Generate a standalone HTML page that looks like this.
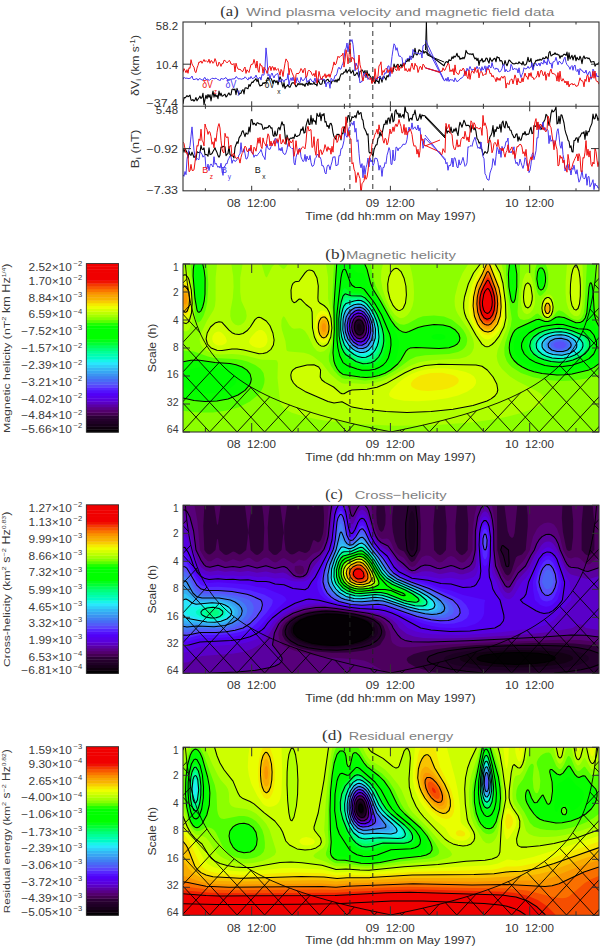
<!DOCTYPE html><html><head><meta charset="utf-8"><style>html,body{margin:0;padding:0;background:#fff;}svg{display:block;}</style></head><body><svg width="600" height="948" viewBox="0 0 600 948"><rect width="600" height="948" fill="#fff"/><clipPath id="pa1"><rect x="183.0" y="22" width="416.0" height="84.3"/></clipPath><clipPath id="pa2"><rect x="183.0" y="106.3" width="416.0" height="84.50000000000001"/></clipPath><g clip-path="url(#pa1)"><polyline points="183.0,103.8 184.0,97.5 185.0,97.9 186.0,96.9 187.0,95.7 188.0,96.7 189.0,96.0 190.0,95.2 191.0,100.0 192.0,100.4 193.0,99.5 194.0,101.1 195.0,99.8 196.0,97.6 197.0,100.8 198.0,99.2 199.0,97.7 200.0,96.1 201.0,98.5 202.0,97.4 203.0,93.2 204.0,104.7 205.0,99.4 206.0,95.2 207.0,98.7 208.0,94.5 209.0,97.2 210.0,94.7 211.0,100.9 212.0,95.7 213.0,91.1 214.0,97.1 215.0,93.9 216.0,96.8 217.0,95.2 218.0,98.6 219.0,91.0 220.0,95.7 221.0,93.1 222.0,96.2 223.0,95.7 224.0,94.9 225.0,94.2 226.0,97.0 227.0,96.0 228.0,94.2 229.0,92.9 230.0,95.0 231.0,94.7 232.0,89.4 233.0,89.0 234.0,89.9 235.0,89.0 236.0,94.6 237.0,88.4 238.0,91.5 239.0,94.5 240.0,93.4 241.0,93.3 242.0,90.6 243.0,89.7 244.0,93.9 245.0,88.0 246.0,87.8 247.0,88.3 248.0,88.7 249.0,84.5 250.0,86.3 251.0,83.9 252.0,82.1 253.0,82.4 254.0,80.7 255.0,79.9 256.0,78.7 257.0,81.6 258.0,79.1 259.0,84.1 260.0,86.1 261.0,85.3 262.0,85.4 263.0,82.8 264.0,83.5 265.0,82.5 266.0,83.1 267.0,79.3 268.0,77.4 269.0,79.9 270.0,77.5 271.0,78.6 272.0,80.5 273.0,83.5 274.0,80.2 275.0,80.9 276.0,82.6 277.0,80.7 278.0,84.7 279.0,80.7 280.0,76.7 281.0,78.9 282.0,84.0 283.0,87.1 284.0,82.6 285.0,88.6 286.0,86.5 287.0,86.1 288.0,84.6 289.0,86.9 290.0,87.2 291.0,85.0 292.0,82.9 293.0,82.9 294.0,82.9 295.0,84.3 296.0,86.8 297.0,85.7 298.0,83.4 299.0,84.7 300.0,83.5 301.0,84.7 302.0,83.5 303.0,85.3 304.0,84.2 305.0,86.4 306.0,83.4 307.0,83.3 308.0,85.4 309.0,81.0 310.0,84.5 311.0,83.5 312.0,84.3 313.0,84.0 314.0,82.1 315.0,84.5 316.0,84.3 317.0,85.9 318.0,80.3 319.0,81.9 320.0,84.0 321.0,84.4 322.0,83.7 323.0,79.2 324.0,79.9 325.0,83.5 326.0,80.6 327.0,79.7 328.0,79.3 329.0,81.6 330.0,81.2 331.0,83.8 332.0,81.0 333.0,81.0 334.0,80.4 335.0,81.8 336.0,79.8 337.0,82.1 338.0,79.0 339.0,80.3 340.0,76.9 341.0,74.1 342.0,73.7 343.0,74.0 344.0,72.1 345.0,72.1 346.0,69.2 347.0,72.9 348.0,71.1 349.0,69.9 350.0,70.0 351.0,73.3 352.0,71.7 353.0,70.2 354.0,75.1 355.0,75.4 356.0,74.0 357.0,72.5 358.0,74.6 359.0,77.2 360.0,71.5 361.0,70.9 362.0,69.8 363.0,71.2 364.0,73.4 365.0,70.5 366.0,77.5 367.0,70.5 368.0,75.6 369.0,74.0 370.0,76.2 371.0,77.4 372.0,82.8 373.0,76.5 374.0,81.2 375.0,83.6 376.0,78.8 377.0,81.4 378.0,81.0 379.0,83.5 380.0,76.3 381.0,78.8 382.0,82.1 383.0,76.8 384.0,76.5 385.0,78.0 386.0,79.9 387.0,75.5 388.0,77.0 389.0,74.7 390.0,72.4 391.0,71.5 392.0,70.6 393.0,71.6 394.0,64.0 395.0,66.7 396.0,67.3 397.0,65.0 398.0,64.3 399.0,67.2 400.0,66.1 401.0,64.3 402.0,67.3 403.0,63.0 404.0,65.7 405.0,64.0 406.0,61.0 407.0,61.5 408.0,58.7 409.0,61.4 410.0,57.3 411.0,56.9 412.0,56.5 413.0,57.6 414.0,54.3 415.0,48.2 416.0,54.3 417.0,55.0 418.0,53.4 419.0,49.7 420.0,50.5 421.0,51.4 422.0,52.0 423.0,50.5 424.0,53.2 425.0,51.5 444.0,65.8 445.0,63.1 446.0,61.9 447.0,61.5 448.0,63.0 449.0,59.7 450.0,60.5 451.0,60.4 452.0,56.9 453.0,58.5 454.0,56.0 455.0,57.2 456.0,55.8 457.0,53.3 458.0,56.8 459.0,56.2 460.0,59.4 461.0,58.1 462.0,59.0 463.0,57.4 464.0,58.8 465.0,56.6 466.0,50.4 467.0,52.4 468.0,53.8 469.0,53.7 470.0,54.4 471.0,53.8 472.0,54.7 473.0,53.6 474.0,57.1 475.0,58.9 476.0,57.9 477.0,60.5 478.0,58.3 479.0,65.4 480.0,60.3 481.0,60.8 482.0,58.4 483.0,62.2 484.0,60.9 485.0,61.2 486.0,58.1 487.0,58.2 488.0,61.0 489.0,63.1 490.0,57.7 491.0,60.0 492.0,61.5 493.0,59.9 494.0,58.6 495.0,58.3 496.0,61.8 497.0,56.7 498.0,57.7 499.0,57.5 500.0,61.1 501.0,60.5 502.0,61.2 503.0,65.0 504.0,65.0 505.0,60.5 506.0,63.7 507.0,65.8 508.0,63.0 509.0,60.0 510.0,60.7 511.0,61.9 512.0,63.0 513.0,63.8 514.0,63.9 515.0,63.7 516.0,63.0 517.0,63.5 518.0,63.8 519.0,61.7 520.0,63.3 521.0,63.2 522.0,64.8 523.0,61.5 524.0,64.8 525.0,65.1 526.0,64.6 527.0,62.0 528.0,57.2 529.0,61.6 530.0,61.3 531.0,58.4 532.0,66.6 533.0,68.9 534.0,63.6 535.0,62.6 536.0,60.3 537.0,60.8 538.0,59.6 539.0,60.5 540.0,59.2 541.0,60.2 542.0,59.5 543.0,57.8 544.0,58.5 545.0,58.4 546.0,56.5 547.0,58.0 548.0,58.9 549.0,52.5 550.0,51.4 551.0,56.0 552.0,55.4 553.0,54.3 554.0,54.4 555.0,52.8 556.0,54.4 557.0,53.9 558.0,54.9 559.0,54.9 560.0,58.3 561.0,55.7 562.0,56.7 563.0,55.3 564.0,54.2 565.0,54.4 566.0,55.3 567.0,52.1 568.0,60.4 569.0,52.9 570.0,59.0 571.0,57.2 572.0,55.3 573.0,60.0 574.0,56.6 575.0,55.2 576.0,60.8 577.0,57.4 578.0,59.1 579.0,59.8 580.0,56.2 581.0,58.8 582.0,63.6 583.0,57.8 584.0,55.9 585.0,58.7 586.0,57.8 587.0,57.7 588.0,58.7 589.0,58.0 590.0,59.8 591.0,62.3 592.0,61.8 593.0,61.7 594.0,61.5 595.0,66.2 596.0,64.4 597.0,64.5 598.0,63.8 599.0,62.4" fill="none" stroke="#000" stroke-width="1.1" stroke-linejoin="round"/><polyline points="183.0,79.5 184.0,77.2 185.0,78.3 186.0,78.2 187.0,78.1 188.0,78.5 189.0,78.6 190.0,78.2 191.0,77.7 192.0,76.0 193.0,79.2 194.0,79.8 195.0,79.1 196.0,79.1 197.0,78.5 198.0,80.3 199.0,78.8 200.0,78.6 201.0,79.4 202.0,79.9 203.0,80.2 204.0,78.1 205.0,77.4 206.0,79.8 207.0,79.2 208.0,79.1 209.0,80.6 210.0,79.5 211.0,79.2 212.0,78.2 213.0,78.4 214.0,78.7 215.0,78.8 216.0,77.9 217.0,78.9 218.0,79.9 219.0,79.7 220.0,80.8 221.0,78.4 222.0,78.8 223.0,79.1 224.0,79.0 225.0,78.0 226.0,77.6 227.0,79.2 228.0,79.7 229.0,79.6 230.0,79.0 231.0,79.7 232.0,78.8 233.0,79.1 234.0,78.7 235.0,78.7 236.0,76.6 237.0,77.2 238.0,78.8 239.0,78.9 240.0,78.6 241.0,79.2 242.0,79.2 243.0,78.5 244.0,78.6 245.0,76.8 246.0,77.9 247.0,78.8 248.0,80.1 249.0,77.5 250.0,78.9 251.0,76.4 252.0,78.3 253.0,78.8 254.0,77.4 255.0,77.4 256.0,75.1 257.0,77.8 258.0,78.4 259.0,78.6 260.0,77.0 261.0,80.1 262.0,74.4 263.0,75.2 264.0,74.9 265.0,67.2 266.0,47.9 267.0,58.0 268.0,75.8 269.0,74.3 270.0,79.0 271.0,74.9 272.0,73.0 273.0,75.8 274.0,78.0 275.0,75.2 276.0,74.9 277.0,73.6 278.0,73.7 279.0,81.8 280.0,80.6 281.0,82.2 282.0,79.4 283.0,80.1 284.0,82.0 285.0,79.7 286.0,79.6 287.0,79.6 288.0,73.5 289.0,85.1 290.0,80.1 291.0,77.8 292.0,80.7 293.0,77.1 294.0,81.0 295.0,80.6 296.0,83.0 297.0,77.6 298.0,80.6 299.0,82.4 300.0,82.7 301.0,77.3 302.0,80.1 303.0,80.5 304.0,80.1 305.0,78.2 306.0,76.6 307.0,82.5 308.0,80.5 309.0,81.4 310.0,78.9 311.0,79.3 312.0,81.4 313.0,81.7 314.0,81.4 315.0,77.9 316.0,82.7 317.0,79.8 318.0,78.6 319.0,80.1 320.0,80.1 321.0,78.4 322.0,78.5 323.0,79.8 324.0,79.2 325.0,79.8 326.0,86.9 327.0,82.7 328.0,82.6 329.0,82.7 330.0,88.3 331.0,78.3 332.0,79.1 333.0,81.0 334.0,79.1 335.0,75.5 336.0,75.7 337.0,73.3 338.0,68.9 339.0,67.2 340.0,69.2 341.0,68.9 342.0,65.3 343.0,63.2 344.0,59.2 345.0,49.2 346.0,48.6 347.0,43.0 348.0,51.9 349.0,43.8 350.0,39.4 351.0,41.6 352.0,39.6 353.0,44.4 354.0,54.4 355.0,71.1 356.0,63.0 357.0,65.9 358.0,66.5 359.0,76.2 360.0,83.0 361.0,81.6 362.0,81.8 363.0,76.2 364.0,72.8 365.0,73.3 366.0,77.1 367.0,75.9 368.0,79.5 369.0,77.7 370.0,77.9 371.0,78.6 372.0,80.8 373.0,79.5 374.0,78.2 375.0,78.2 376.0,78.0 377.0,80.1 378.0,77.0 379.0,78.0 380.0,76.2 381.0,78.2 382.0,78.9 383.0,79.5 384.0,75.3 385.0,72.6 386.0,73.5 387.0,70.0 388.0,66.0 389.0,65.9 390.0,76.5 391.0,65.4 392.0,56.5 393.0,49.7 394.0,43.8 395.0,45.2 396.0,50.3 397.0,47.7 398.0,52.2 399.0,56.4 400.0,55.9 401.0,56.8 402.0,57.8 403.0,64.8 404.0,63.4 405.0,63.3 406.0,59.8 407.0,58.6 408.0,58.9 409.0,58.8 410.0,55.7 411.0,59.9 412.0,57.8 413.0,49.4 414.0,51.9 415.0,53.3 416.0,52.5 417.0,53.5 418.0,53.1 419.0,53.7 420.0,54.3 421.0,52.5 422.0,58.0 423.0,45.7 424.0,45.5 425.0,44.2 444.0,80.6 445.0,80.7 446.0,78.3 447.0,81.2 448.0,77.1 449.0,81.5 450.0,79.4 451.0,80.1 452.0,79.8 453.0,80.0 454.0,81.8 455.0,77.9 456.0,80.0 457.0,81.8 458.0,80.9 459.0,80.4 460.0,78.9 461.0,78.2 462.0,77.9 463.0,76.7 464.0,74.9 465.0,70.7 466.0,73.3 467.0,68.2 468.0,70.7 469.0,69.3 470.0,66.5 471.0,68.9 472.0,70.6 473.0,69.0 474.0,69.8 475.0,68.7 476.0,69.2 477.0,66.4 478.0,68.6 479.0,67.6 480.0,68.2 481.0,71.3 482.0,66.7 483.0,70.1 484.0,68.9 485.0,65.8 486.0,72.2 487.0,66.5 488.0,69.3 489.0,65.0 490.0,67.2 491.0,68.0 492.0,62.5 493.0,66.7 494.0,68.5 495.0,69.5 496.0,67.9 497.0,69.3 498.0,68.6 499.0,72.0 500.0,71.7 501.0,70.8 502.0,68.7 503.0,64.8 504.0,64.5 505.0,71.9 506.0,69.3 507.0,71.1 508.0,71.8 509.0,70.8 510.0,71.0 511.0,64.3 512.0,66.2 513.0,70.0 514.0,68.5 515.0,68.7 516.0,69.4 517.0,68.8 518.0,73.0 519.0,67.8 520.0,73.8 521.0,77.5 522.0,74.7 523.0,72.6 524.0,67.7 525.0,68.9 526.0,68.8 527.0,68.4 528.0,66.3 529.0,68.5 530.0,67.6 531.0,67.0 532.0,62.7 533.0,70.2 534.0,66.1 535.0,64.1 536.0,63.2 537.0,66.0 538.0,65.0 539.0,63.0 540.0,66.1 541.0,62.5 542.0,63.0 543.0,64.2 544.0,59.6 545.0,63.2 546.0,61.7 547.0,64.9 548.0,58.8 549.0,61.0 550.0,63.9 551.0,62.9 552.0,68.3 553.0,61.8 554.0,61.9 555.0,60.7 556.0,57.3 557.0,61.2 558.0,64.8 559.0,61.3 560.0,61.7 561.0,63.4 562.0,64.1 563.0,62.1 564.0,58.9 565.0,57.1 566.0,62.3 567.0,64.7 568.0,65.9 569.0,66.7 570.0,69.4 571.0,66.6 572.0,65.5 573.0,70.3 574.0,66.0 575.0,65.0 576.0,70.6 577.0,71.6 578.0,69.2 579.0,74.9 580.0,68.5 581.0,70.1 582.0,70.2 583.0,72.0 584.0,72.4 585.0,72.8 586.0,70.1 587.0,74.4 588.0,74.9 589.0,71.9 590.0,71.6 591.0,79.3 592.0,76.7 593.0,69.1 594.0,71.0 595.0,77.1 596.0,73.1 597.0,76.8 598.0,75.9 599.0,77.2" fill="none" stroke="#4838f0" stroke-width="1.0" stroke-linejoin="round"/><polyline points="183.0,72.4 184.0,68.6 185.0,70.5 186.0,72.7 187.0,69.6 188.0,73.3 189.0,67.7 190.0,68.4 191.0,59.7 192.0,63.9 193.0,65.9 194.0,67.2 195.0,71.8 196.0,72.6 197.0,68.1 198.0,65.4 199.0,61.9 200.0,62.4 201.0,60.9 202.0,63.3 203.0,61.3 204.0,59.5 205.0,61.7 206.0,60.6 207.0,61.6 208.0,62.2 209.0,59.2 210.0,63.3 211.0,60.6 212.0,61.1 213.0,63.3 214.0,62.1 215.0,58.6 216.0,61.1 217.0,66.1 218.0,65.9 219.0,62.1 220.0,63.6 221.0,66.4 222.0,63.5 223.0,63.7 224.0,60.2 225.0,60.6 226.0,61.5 227.0,62.9 228.0,61.9 229.0,60.5 230.0,61.1 231.0,64.1 232.0,64.1 233.0,64.7 234.0,63.4 235.0,71.9 236.0,63.2 237.0,66.8 238.0,69.0 239.0,69.5 240.0,69.2 241.0,70.1 242.0,71.5 243.0,71.3 244.0,68.5 245.0,67.0 246.0,73.4 247.0,69.8 248.0,71.2 249.0,72.5 250.0,68.3 251.0,64.5 252.0,64.3 253.0,63.9 254.0,59.4 255.0,63.4 256.0,68.1 257.0,61.0 258.0,70.0 259.0,72.4 260.0,63.5 261.0,65.9 262.0,65.8 263.0,73.3 264.0,67.1 265.0,69.0 266.0,70.3 267.0,73.4 268.0,70.5 269.0,67.3 270.0,66.1 271.0,70.6 272.0,66.7 273.0,66.9 274.0,70.4 275.0,67.2 276.0,70.3 277.0,69.5 278.0,68.5 279.0,71.4 280.0,75.3 281.0,69.4 282.0,71.0 283.0,76.5 284.0,69.7 285.0,63.4 286.0,58.9 287.0,60.6 288.0,62.2 289.0,74.9 290.0,68.3 291.0,69.3 292.0,72.6 293.0,75.0 294.0,77.2 295.0,84.8 296.0,74.7 297.0,73.0 298.0,74.0 299.0,73.1 300.0,71.4 301.0,68.5 302.0,70.0 303.0,72.9 304.0,69.3 305.0,68.2 306.0,77.4 307.0,76.0 308.0,71.3 309.0,70.1 310.0,71.3 311.0,71.8 312.0,74.8 313.0,75.5 314.0,73.3 315.0,76.8 316.0,70.4 317.0,83.3 318.0,79.5 319.0,71.4 320.0,75.8 321.0,79.3 322.0,79.3 323.0,75.9 324.0,76.6 325.0,73.7 326.0,78.1 327.0,74.8 328.0,76.6 329.0,73.9 330.0,77.4 331.0,73.7 332.0,70.8 333.0,66.6 334.0,61.9 335.0,65.0 336.0,64.1 337.0,60.2 338.0,56.2 339.0,57.6 340.0,56.8 341.0,55.6 342.0,55.5 343.0,53.2 344.0,67.1 345.0,60.1 346.0,49.7 347.0,54.2 348.0,63.9 349.0,56.4 350.0,43.1 351.0,62.0 352.0,57.1 353.0,58.8 354.0,58.7 355.0,64.1 356.0,69.6 357.0,68.4 358.0,67.9 359.0,55.0 360.0,64.8 361.0,68.6 362.0,77.1 363.0,81.0 364.0,76.3 365.0,74.1 366.0,73.3 367.0,73.2 368.0,77.5 369.0,78.5 370.0,79.7 371.0,77.6 372.0,83.6 373.0,78.7 374.0,81.9 375.0,68.7 376.0,77.4 377.0,79.2 378.0,76.0 379.0,65.6 380.0,64.9 381.0,61.8 382.0,75.3 383.0,70.5 384.0,72.3 385.0,69.4 386.0,68.3 387.0,68.9 388.0,72.8 389.0,69.7 390.0,71.6 391.0,67.5 392.0,73.6 393.0,67.3 394.0,67.0 395.0,68.5 396.0,70.2 397.0,70.5 398.0,64.8 399.0,70.6 400.0,67.7 401.0,67.8 402.0,67.8 403.0,66.1 404.0,63.1 405.0,70.7 406.0,68.5 407.0,71.2 408.0,71.4 409.0,68.5 410.0,71.5 411.0,66.5 412.0,63.0 413.0,67.8 414.0,69.6 415.0,63.3 416.0,66.0 417.0,65.8 418.0,72.5 419.0,69.5 420.0,66.4 421.0,66.9 422.0,69.8 423.0,64.1 424.0,65.1 425.0,67.6 440.0,72.6 441.0,70.8 442.0,71.7 443.0,67.8 444.0,70.2 445.0,70.2 446.0,67.6 447.0,65.7 448.0,63.3 449.0,63.9 450.0,71.7 451.0,69.8 452.0,71.6 453.0,68.6 454.0,75.0 455.0,64.9 456.0,72.3 457.0,72.9 458.0,74.5 459.0,73.9 460.0,69.8 461.0,70.4 462.0,70.5 463.0,68.1 464.0,69.0 465.0,75.9 466.0,71.1 467.0,76.4 468.0,78.6 469.0,69.8 470.0,79.4 471.0,73.6 472.0,71.0 473.0,71.4 474.0,73.3 475.0,67.4 476.0,71.4 477.0,72.5 478.0,69.3 479.0,77.9 480.0,72.4 481.0,71.5 482.0,72.1 483.0,75.8 484.0,74.7 485.0,73.7 486.0,74.6 487.0,68.6 488.0,69.4 489.0,69.1 490.0,73.7 491.0,73.2 492.0,76.9 493.0,75.3 494.0,77.6 495.0,78.6 496.0,81.7 497.0,77.3 498.0,80.3 499.0,78.2 500.0,80.5 501.0,77.1 502.0,76.4 503.0,78.3 504.0,76.2 505.0,76.5 506.0,88.1 507.0,83.1 508.0,83.3 509.0,84.7 510.0,80.6 511.0,79.4 512.0,79.0 513.0,83.9 514.0,79.6 515.0,74.9 516.0,78.2 517.0,85.0 518.0,78.3 519.0,82.1 520.0,82.2 521.0,82.6 522.0,77.8 523.0,81.9 524.0,77.2 525.0,73.0 526.0,76.4 527.0,76.6 528.0,79.4 529.0,73.0 530.0,76.4 531.0,72.6 532.0,77.5 533.0,77.2 534.0,79.6 535.0,78.4 536.0,77.4 537.0,75.6 538.0,71.1 539.0,77.2 540.0,73.6 541.0,70.2 542.0,71.0 543.0,75.4 544.0,75.4 545.0,71.7 546.0,80.3 547.0,74.3 548.0,73.2 549.0,76.6 550.0,71.3 551.0,69.1 552.0,73.4 553.0,73.7 554.0,73.7 555.0,74.6 556.0,75.4 557.0,81.1 558.0,72.6 559.0,81.6 560.0,71.2 561.0,79.5 562.0,81.2 563.0,78.6 564.0,80.5 565.0,83.0 566.0,81.0 567.0,85.1 568.0,81.1 569.0,86.9 570.0,84.1 571.0,84.5 572.0,83.2 573.0,85.1 574.0,83.9 575.0,84.4 576.0,86.4 577.0,85.9 578.0,85.7 579.0,81.8 580.0,77.8 581.0,80.5 582.0,80.8 583.0,81.4 584.0,86.8 585.0,79.2 586.0,81.4 587.0,75.4 588.0,75.4 589.0,82.1 590.0,77.1 591.0,77.4 592.0,77.9 593.0,71.3 594.0,78.3 595.0,71.0 596.0,80.7 597.0,81.3 598.0,81.8 599.0,84.3" fill="none" stroke="#f01010" stroke-width="1.0" stroke-linejoin="round"/><path d="M425.5 50L426.4 22L427.2 55L444 62" stroke="#000" stroke-width="1" fill="none"/><path d="M425.5 40L444 80M425.5 68L440 72" stroke="#4838f0" stroke-width="1" fill="none"/><path d="M425.5 68L440 72" stroke="#f01010" stroke-width="1" fill="none"/></g><g clip-path="url(#pa2)"><polyline points="183.0,148.4 184.0,152.1 185.0,148.8 186.0,150.4 187.0,152.6 188.0,158.0 189.0,151.5 190.0,154.6 191.0,155.3 192.0,152.1 193.0,154.8 194.0,157.5 195.0,156.1 196.0,158.9 197.0,151.7 198.0,152.2 199.0,152.6 200.0,152.7 201.0,145.4 202.0,149.2 203.0,149.5 204.0,147.9 205.0,154.6 206.0,154.5 207.0,154.8 208.0,156.2 209.0,147.8 210.0,154.6 211.0,154.2 212.0,153.5 213.0,151.5 214.0,149.8 215.0,147.8 216.0,150.6 217.0,152.6 218.0,155.6 219.0,157.2 220.0,155.2 221.0,147.1 222.0,147.4 223.0,146.2 224.0,146.7 225.0,146.9 226.0,155.7 227.0,154.4 228.0,153.3 229.0,146.4 230.0,154.4 231.0,156.0 232.0,154.9 233.0,156.2 234.0,157.9 235.0,147.5 236.0,144.8 237.0,141.8 238.0,143.4 239.0,138.1 240.0,136.4 241.0,135.2 242.0,131.7 243.0,130.7 244.0,133.6 245.0,136.7 246.0,132.9 247.0,134.0 248.0,134.0 249.0,127.1 250.0,131.9 251.0,119.8 252.0,119.5 253.0,124.7 254.0,123.1 255.0,124.0 256.0,125.5 257.0,122.9 258.0,122.8 259.0,123.8 260.0,123.9 261.0,124.0 262.0,125.0 263.0,129.3 264.0,129.1 265.0,127.4 266.0,128.3 267.0,127.3 268.0,127.8 269.0,125.5 270.0,126.3 271.0,128.2 272.0,127.8 273.0,135.2 274.0,136.5 275.0,131.0 276.0,135.9 277.0,134.9 278.0,128.6 279.0,127.4 280.0,130.0 281.0,125.5 282.0,121.7 283.0,125.0 284.0,124.5 285.0,134.9 286.0,144.3 287.0,135.1 288.0,138.9 289.0,140.6 290.0,138.4 291.0,138.0 292.0,138.5 293.0,137.4 294.0,138.3 295.0,134.0 296.0,136.4 297.0,136.5 298.0,135.7 299.0,135.5 300.0,133.9 301.0,129.0 302.0,130.3 303.0,126.8 304.0,133.1 305.0,132.6 306.0,125.8 307.0,122.1 308.0,118.8 309.0,124.4 310.0,124.5 311.0,115.2 312.0,124.1 313.0,118.4 314.0,121.4 315.0,120.8 316.0,124.4 317.0,113.4 318.0,115.9 319.0,116.5 320.0,112.9 321.0,120.8 322.0,114.3 323.0,115.4 324.0,113.5 325.0,122.1 326.0,121.5 327.0,126.5 328.0,125.5 329.0,128.4 330.0,123.7 331.0,123.3 332.0,126.0 333.0,132.8 334.0,136.7 335.0,137.8 336.0,139.6 337.0,134.2 338.0,134.6 339.0,134.4 340.0,136.4 341.0,139.9 342.0,133.1 343.0,133.7 344.0,126.5 345.0,129.4 346.0,123.5 347.0,122.3 348.0,115.8 349.0,115.6 350.0,121.4 351.0,121.0 352.0,116.5 353.0,117.6 354.0,117.0 355.0,115.5 356.0,117.9 357.0,113.1 358.0,110.7 359.0,114.5 360.0,113.0 361.0,112.6 362.0,118.9 363.0,120.4 364.0,127.8 365.0,129.4 366.0,131.5 367.0,134.9 368.0,133.9 369.0,151.8 370.0,153.1 371.0,152.4 372.0,153.5 373.0,156.5 374.0,149.8 375.0,147.1 376.0,144.9 377.0,144.6 378.0,138.2 379.0,137.6 380.0,131.8 381.0,136.0 382.0,133.9 383.0,129.1 384.0,124.2 385.0,124.5 386.0,120.2 387.0,124.3 388.0,118.3 389.0,117.9 390.0,123.5 391.0,116.7 392.0,113.3 393.0,121.9 394.0,120.7 395.0,111.1 396.0,109.7 397.0,113.9 398.0,113.2 399.0,117.5 400.0,113.5 401.0,117.3 402.0,116.3 403.0,114.5 404.0,118.1 405.0,106.2 406.0,111.8 407.0,112.4 408.0,113.3 409.0,121.2 410.0,118.7 411.0,118.1 412.0,120.0 413.0,114.6 414.0,114.4 415.0,110.0 416.0,116.1 417.0,120.4 418.0,120.2 419.0,117.5 420.0,114.0 421.0,119.1 422.0,114.9 423.0,115.8 424.0,115.4 425.0,115.9 445.0,136.6 446.0,126.6 447.0,133.2 448.0,131.0 449.0,131.5 450.0,132.6 451.0,127.0 452.0,132.5 453.0,132.1 454.0,129.0 455.0,131.2 456.0,128.0 457.0,132.4 458.0,135.6 459.0,127.2 460.0,122.2 461.0,124.5 462.0,127.2 463.0,123.6 464.0,120.2 465.0,122.4 466.0,125.7 467.0,125.4 468.0,125.3 469.0,125.6 470.0,127.4 471.0,132.2 472.0,125.3 473.0,127.3 474.0,129.7 475.0,127.6 476.0,131.7 477.0,138.7 478.0,139.7 479.0,143.0 480.0,142.2 481.0,148.4 482.0,149.6 483.0,155.1 484.0,153.5 485.0,151.5 486.0,152.6 487.0,153.2 488.0,151.0 489.0,141.1 490.0,136.7 491.0,135.3 492.0,132.3 493.0,125.6 494.0,136.8 495.0,129.5 496.0,131.5 497.0,126.9 498.0,128.5 499.0,128.2 500.0,124.4 501.0,132.1 502.0,122.8 503.0,121.0 504.0,126.6 505.0,128.0 506.0,121.2 507.0,123.6 508.0,127.6 509.0,126.7 510.0,130.1 511.0,130.2 512.0,133.7 513.0,135.5 514.0,137.7 515.0,137.3 516.0,134.2 517.0,133.9 518.0,141.1 519.0,136.7 520.0,139.9 521.0,140.1 522.0,136.6 523.0,133.2 524.0,134.5 525.0,131.5 526.0,135.1 527.0,134.0 528.0,134.5 529.0,133.6 530.0,129.5 531.0,127.3 532.0,133.6 533.0,133.2 534.0,125.6 535.0,126.1 536.0,126.4 537.0,122.5 538.0,127.9 539.0,125.3 540.0,126.4 541.0,129.6 542.0,127.4 543.0,123.5 544.0,121.3 545.0,119.5 546.0,114.3 547.0,115.3 548.0,120.2 549.0,125.4 550.0,121.4 551.0,113.6 552.0,109.9 553.0,111.9 554.0,111.2 555.0,109.8 556.0,106.8 557.0,123.9 558.0,123.3 559.0,116.2 560.0,123.8 561.0,114.7 562.0,115.3 563.0,119.1 564.0,123.0 565.0,129.9 566.0,133.6 567.0,136.2 568.0,140.1 569.0,141.5 570.0,147.6 571.0,145.8 572.0,151.7 573.0,152.0 574.0,140.6 575.0,140.5 576.0,138.0 577.0,137.7 578.0,142.4 579.0,137.1 580.0,136.7 581.0,134.5 582.0,132.8 583.0,133.4 584.0,131.8 585.0,139.5 586.0,130.5 587.0,135.7 588.0,131.4 589.0,131.8 590.0,127.9 591.0,125.6 592.0,123.1 593.0,114.0 594.0,119.0 595.0,118.6 596.0,113.9 597.0,116.2 598.0,120.5 599.0,117.7" fill="none" stroke="#000" stroke-width="1.1" stroke-linejoin="round"/><polyline points="183.0,174.7 184.0,176.3 185.0,171.5 186.0,174.7 187.0,159.1 188.0,153.7 189.0,149.5 190.0,145.8 191.0,136.2 192.0,126.9 193.0,139.1 194.0,150.6 195.0,155.9 196.0,160.3 197.0,158.3 198.0,159.4 199.0,159.6 200.0,151.3 201.0,152.7 202.0,154.1 203.0,157.2 204.0,155.5 205.0,156.4 206.0,168.4 207.0,169.1 208.0,164.1 209.0,170.6 210.0,165.7 211.0,163.9 212.0,165.4 213.0,167.0 214.0,156.7 215.0,164.3 216.0,163.0 217.0,165.4 218.0,167.4 219.0,166.1 220.0,168.1 221.0,163.2 222.0,170.3 223.0,175.4 224.0,166.8 225.0,166.4 226.0,163.4 227.0,163.9 228.0,160.0 229.0,158.2 230.0,155.9 231.0,156.7 232.0,163.3 233.0,160.0 234.0,160.0 235.0,161.6 236.0,160.7 237.0,159.8 238.0,158.4 239.0,154.8 240.0,154.0 241.0,142.7 242.0,152.3 243.0,151.2 244.0,148.7 245.0,153.6 246.0,159.0 247.0,158.8 248.0,156.1 249.0,148.3 250.0,148.4 251.0,151.2 252.0,152.8 253.0,153.0 254.0,157.3 255.0,155.1 256.0,155.5 257.0,155.8 258.0,154.2 259.0,152.8 260.0,151.9 261.0,149.5 262.0,152.7 263.0,156.2 264.0,157.1 265.0,159.6 266.0,148.5 267.0,144.2 268.0,148.5 269.0,149.1 270.0,149.4 271.0,146.7 272.0,145.0 273.0,143.1 274.0,142.4 275.0,138.4 276.0,139.1 277.0,143.3 278.0,140.2 279.0,150.3 280.0,148.3 281.0,151.0 282.0,147.3 283.0,153.0 284.0,153.8 285.0,154.7 286.0,152.9 287.0,149.3 288.0,143.4 289.0,143.8 290.0,146.8 291.0,147.7 292.0,148.7 293.0,148.3 294.0,162.9 295.0,165.0 296.0,157.5 297.0,153.5 298.0,153.4 299.0,148.6 300.0,148.3 301.0,156.9 302.0,159.3 303.0,161.6 304.0,160.8 305.0,154.5 306.0,161.5 307.0,156.1 308.0,159.2 309.0,159.9 310.0,155.5 311.0,162.4 312.0,166.2 313.0,166.2 314.0,164.6 315.0,158.7 316.0,157.6 317.0,155.0 318.0,154.0 319.0,157.2 320.0,157.0 321.0,159.4 322.0,166.0 323.0,165.4 324.0,167.9 325.0,172.8 326.0,174.0 327.0,166.9 328.0,164.9 329.0,165.6 330.0,169.8 331.0,165.2 332.0,161.9 333.0,156.8 334.0,157.4 335.0,156.5 336.0,166.0 337.0,165.0 338.0,164.9 339.0,155.5 340.0,155.9 341.0,148.7 342.0,148.6 343.0,145.0 344.0,140.4 345.0,129.0 346.0,135.7 347.0,137.3 348.0,133.3 349.0,127.9 350.0,126.4 351.0,123.5 352.0,122.6 353.0,125.2 354.0,121.0 355.0,132.2 356.0,128.3 357.0,141.7 358.0,139.8 359.0,153.3 360.0,163.7 361.0,167.8 362.0,163.6 363.0,177.8 364.0,165.6 365.0,174.5 366.0,167.7 367.0,164.3 368.0,158.0 369.0,166.9 370.0,157.8 371.0,162.0 372.0,159.9 373.0,165.6 374.0,163.5 375.0,158.0 376.0,158.4 377.0,158.5 378.0,162.3 379.0,170.2 380.0,165.3 381.0,167.4 382.0,176.4 383.0,167.4 384.0,167.5 385.0,162.6 386.0,163.6 387.0,155.3 388.0,152.0 389.0,147.6 390.0,150.4 391.0,164.3 392.0,164.4 393.0,150.0 394.0,160.5 395.0,160.3 396.0,147.1 397.0,147.5 398.0,150.8 399.0,148.0 400.0,148.2 401.0,147.4 402.0,146.0 403.0,144.1 404.0,144.4 405.0,144.3 406.0,143.6 407.0,139.4 408.0,132.2 409.0,127.0 410.0,130.0 411.0,129.5 412.0,122.9 413.0,129.3 414.0,127.9 415.0,126.8 416.0,129.3 417.0,129.7 418.0,125.1 419.0,131.0 420.0,127.8 421.0,139.3 422.0,138.5 423.0,148.3 424.0,145.0 425.0,138.1 445.0,158.7 446.0,163.9 447.0,162.3 448.0,170.3 449.0,165.2 450.0,166.0 451.0,163.7 452.0,158.0 453.0,167.0 454.0,158.1 455.0,157.8 456.0,161.9 457.0,167.1 458.0,167.9 459.0,159.8 460.0,165.1 461.0,163.6 462.0,160.7 463.0,157.4 464.0,161.9 465.0,166.4 466.0,165.4 467.0,162.8 468.0,146.7 469.0,147.3 470.0,146.3 471.0,145.4 472.0,146.4 473.0,142.1 474.0,139.6 475.0,137.2 476.0,141.3 477.0,145.0 478.0,148.3 479.0,147.1 480.0,148.9 481.0,142.0 482.0,150.1 483.0,156.7 484.0,158.7 485.0,173.8 486.0,175.4 487.0,179.0 488.0,179.9 489.0,180.2 490.0,173.0 491.0,170.1 492.0,167.2 493.0,158.6 494.0,161.0 495.0,165.4 496.0,156.3 497.0,147.2 498.0,149.1 499.0,154.0 500.0,148.9 501.0,157.4 502.0,146.4 503.0,150.0 504.0,148.6 505.0,146.4 506.0,141.5 507.0,141.8 508.0,138.0 509.0,152.1 510.0,151.3 511.0,153.0 512.0,150.8 513.0,150.2 514.0,146.8 515.0,159.2 516.0,163.7 517.0,162.0 518.0,165.6 519.0,164.8 520.0,159.0 521.0,162.4 522.0,165.8 523.0,168.4 524.0,164.5 525.0,157.6 526.0,159.1 527.0,165.5 528.0,163.7 529.0,172.6 530.0,170.4 531.0,164.2 532.0,154.5 533.0,152.7 534.0,159.7 535.0,155.3 536.0,150.7 537.0,137.6 538.0,138.1 539.0,124.4 540.0,129.3 541.0,127.4 542.0,126.6 543.0,122.0 544.0,130.1 545.0,127.6 546.0,130.4 547.0,129.4 548.0,130.2 549.0,143.6 550.0,135.4 551.0,141.4 552.0,139.9 553.0,139.9 554.0,145.2 555.0,143.1 556.0,140.2 557.0,131.4 558.0,128.7 559.0,135.8 560.0,145.3 561.0,148.3 562.0,141.7 563.0,154.6 564.0,159.5 565.0,170.9 566.0,168.6 567.0,164.7 568.0,164.0 569.0,170.0 570.0,169.2 571.0,175.0 572.0,167.9 573.0,169.5 574.0,165.2 575.0,170.7 576.0,174.1 577.0,169.7 578.0,176.8 579.0,182.2 580.0,180.1 581.0,175.9 582.0,170.5 583.0,177.5 584.0,178.8 585.0,178.4 586.0,173.8 587.0,185.3 588.0,176.8 589.0,176.5 590.0,186.8 591.0,185.0 592.0,182.7 593.0,179.7 594.0,189.6 595.0,183.3 596.0,185.9 597.0,185.3 598.0,188.1 599.0,187.8" fill="none" stroke="#4838f0" stroke-width="1.0" stroke-linejoin="round"/><polyline points="183.0,142.1 184.0,143.5 185.0,149.0 186.0,153.1 187.0,152.4 188.0,156.2 189.0,171.7 190.0,170.9 191.0,164.4 192.0,170.3 193.0,170.5 194.0,169.8 195.0,162.1 196.0,154.7 197.0,145.4 198.0,146.3 199.0,138.9 200.0,140.6 201.0,129.2 202.0,140.7 203.0,141.5 204.0,145.9 205.0,124.0 206.0,127.6 207.0,129.7 208.0,134.4 209.0,131.5 210.0,132.2 211.0,136.6 212.0,144.3 213.0,141.8 214.0,147.8 215.0,137.9 216.0,141.4 217.0,132.4 218.0,126.7 219.0,123.6 220.0,128.0 221.0,140.3 222.0,148.8 223.0,152.2 224.0,152.9 225.0,133.3 226.0,137.1 227.0,137.5 228.0,136.8 229.0,148.6 230.0,146.7 231.0,145.1 232.0,156.6 233.0,154.2 234.0,153.5 235.0,156.3 236.0,158.4 237.0,158.3 238.0,157.1 239.0,158.9 240.0,163.1 241.0,157.4 242.0,153.7 243.0,152.3 244.0,149.2 245.0,146.1 246.0,147.1 247.0,151.4 248.0,151.4 249.0,148.9 250.0,151.0 251.0,145.0 252.0,152.9 253.0,154.4 254.0,147.2 255.0,148.4 256.0,151.2 257.0,145.3 258.0,137.9 259.0,143.3 260.0,137.4 261.0,146.3 262.0,148.5 263.0,137.9 264.0,142.7 265.0,143.6 266.0,146.1 267.0,139.4 268.0,133.8 269.0,136.0 270.0,146.0 271.0,141.1 272.0,145.9 273.0,143.7 274.0,140.6 275.0,146.2 276.0,139.7 277.0,138.6 278.0,142.4 279.0,139.1 280.0,134.2 281.0,143.9 282.0,143.2 283.0,139.4 284.0,142.1 285.0,144.1 286.0,138.6 287.0,137.6 288.0,138.5 289.0,146.4 290.0,140.8 291.0,142.8 292.0,142.1 293.0,139.6 294.0,156.3 295.0,150.8 296.0,140.7 297.0,149.2 298.0,154.5 299.0,149.1 300.0,152.4 301.0,149.2 302.0,147.7 303.0,146.6 304.0,147.7 305.0,148.9 306.0,142.0 307.0,129.1 308.0,126.3 309.0,131.1 310.0,129.8 311.0,129.7 312.0,147.5 313.0,146.6 314.0,136.7 315.0,150.6 316.0,155.3 317.0,141.7 318.0,138.8 319.0,157.4 320.0,150.1 321.0,149.9 322.0,154.6 323.0,152.4 324.0,149.8 325.0,144.6 326.0,147.8 327.0,151.4 328.0,146.7 329.0,149.8 330.0,148.2 331.0,154.2 332.0,146.3 333.0,152.2 334.0,138.8 335.0,137.7 336.0,135.4 337.0,142.5 338.0,140.8 339.0,135.0 340.0,135.2 341.0,138.9 342.0,127.7 343.0,126.8 344.0,128.5 345.0,132.8 346.0,116.8 347.0,127.0 348.0,136.4 349.0,131.4 350.0,138.8 351.0,138.9 352.0,164.0 353.0,162.6 354.0,169.1 355.0,171.8 356.0,182.5 357.0,175.5 358.0,172.5 359.0,175.7 360.0,178.7 361.0,195.1 362.0,183.8 363.0,182.4 364.0,180.9 365.0,174.8 366.0,179.3 367.0,177.2 368.0,171.1 369.0,161.1 370.0,155.8 371.0,154.8 372.0,144.2 373.0,140.6 374.0,137.9 375.0,134.2 376.0,132.5 377.0,129.2 378.0,134.2 379.0,124.8 380.0,130.4 381.0,130.5 382.0,132.5 383.0,140.2 384.0,143.2 385.0,138.3 386.0,139.0 387.0,144.9 388.0,142.6 389.0,136.2 390.0,129.0 391.0,133.8 392.0,131.9 393.0,126.9 394.0,131.5 395.0,126.1 396.0,123.9 397.0,126.7 398.0,124.2 399.0,119.5 400.0,123.3 401.0,126.6 402.0,133.1 403.0,132.4 404.0,124.4 405.0,134.7 406.0,127.5 407.0,135.1 408.0,131.5 409.0,131.8 410.0,128.9 411.0,131.1 412.0,134.5 413.0,142.0 414.0,146.3 415.0,145.6 416.0,146.4 417.0,154.1 418.0,149.3 419.0,157.3 420.0,150.6 421.0,134.5 422.0,140.5 423.0,139.0 424.0,145.3 425.0,145.3 440.0,152.1 441.0,154.6 442.0,154.5 443.0,148.7 444.0,150.9 445.0,152.5 446.0,123.4 447.0,128.6 448.0,127.8 449.0,124.3 450.0,132.4 451.0,133.8 452.0,134.4 453.0,144.9 454.0,148.6 455.0,149.9 456.0,146.5 457.0,139.7 458.0,147.1 459.0,144.9 460.0,146.6 461.0,139.6 462.0,138.1 463.0,136.9 464.0,138.9 465.0,131.3 466.0,136.2 467.0,140.4 468.0,136.9 469.0,142.0 470.0,131.6 471.0,120.8 472.0,122.6 473.0,128.9 474.0,122.7 475.0,124.4 476.0,128.1 477.0,127.4 478.0,128.2 479.0,129.2 480.0,127.7 481.0,127.9 482.0,135.4 483.0,115.4 484.0,125.6 485.0,122.8 486.0,125.8 487.0,129.8 488.0,143.1 489.0,140.2 490.0,139.5 491.0,143.1 492.0,152.8 493.0,150.0 494.0,143.5 495.0,142.3 496.0,144.1 497.0,146.7 498.0,139.5 499.0,146.8 500.0,149.3 501.0,148.2 502.0,151.0 503.0,147.9 504.0,153.4 505.0,157.2 506.0,152.6 507.0,150.7 508.0,144.7 509.0,152.8 510.0,150.3 511.0,148.6 512.0,146.9 513.0,154.4 514.0,150.7 515.0,158.5 516.0,152.3 517.0,146.5 518.0,146.9 519.0,145.0 520.0,144.3 521.0,144.6 522.0,147.2 523.0,153.7 524.0,151.7 525.0,156.4 526.0,149.4 527.0,159.7 528.0,171.0 529.0,164.9 530.0,159.9 531.0,156.8 532.0,160.1 533.0,154.5 534.0,127.3 535.0,121.9 536.0,118.6 537.0,129.9 538.0,121.9 539.0,129.4 540.0,124.7 541.0,124.3 542.0,126.9 543.0,129.8 544.0,127.4 545.0,130.9 546.0,131.8 547.0,129.5 548.0,116.1 549.0,118.9 550.0,125.9 551.0,127.6 552.0,135.1 553.0,141.5 554.0,149.8 555.0,140.5 556.0,146.0 557.0,149.4 558.0,166.0 559.0,165.2 560.0,155.4 561.0,158.4 562.0,156.8 563.0,162.9 564.0,160.1 565.0,168.4 566.0,168.4 567.0,172.2 568.0,154.4 569.0,160.8 570.0,170.2 571.0,169.0 572.0,167.2 573.0,163.1 574.0,160.8 575.0,158.4 576.0,156.5 577.0,153.9 578.0,161.0 579.0,153.6 580.0,156.8 581.0,171.7 582.0,171.9 583.0,157.4 584.0,158.3 585.0,152.2 586.0,140.6 587.0,155.4 588.0,149.2 589.0,157.1 590.0,150.9 591.0,164.2 592.0,166.4 593.0,162.0 594.0,164.0 595.0,148.1 596.0,151.5 597.0,160.1 598.0,166.7 599.0,161.4" fill="none" stroke="#f01010" stroke-width="1.0" stroke-linejoin="round"/><path d="M425 117L445 138" stroke="#000" stroke-width="1" fill="none"/><path d="M425 135L445 160" stroke="#4838f0" stroke-width="1" fill="none"/><path d="M425 146L440 140" stroke="#f01010" stroke-width="1" fill="none"/></g><path d="M349.9 22V190.8M372.8 22V190.8" stroke="#333" stroke-width="1" stroke-dasharray="5 4" fill="none"/><rect x="183.0" y="22" width="416.0" height="168.8" fill="none" stroke="#333" stroke-width="1.1"/><path d="M183.0 106.3H599.0" stroke="#333" stroke-width="1.1"/><path d="M251.7 190.8v-5M251.7 22v5M251.7 106.3v-5M251.7 106.3v5M390.4 190.8v-5M390.4 22v5M390.4 106.3v-5M390.4 106.3v5M529.7 190.8v-5M529.7 22v5M529.7 106.3v-5M529.7 106.3v5M205.4 190.8v-2.5M205.4 22v2.5M205.4 106.3v-2.5M205.4 106.3v2.5M298.1 190.8v-2.5M298.1 22v2.5M298.1 106.3v-2.5M298.1 106.3v2.5M344.4 190.8v-2.5M344.4 22v2.5M344.4 106.3v-2.5M344.4 106.3v2.5M437.1 190.8v-2.5M437.1 22v2.5M437.1 106.3v-2.5M437.1 106.3v2.5M483.4 190.8v-2.5M483.4 22v2.5M483.4 106.3v-2.5M483.4 106.3v2.5M576.0 190.8v-2.5M576.0 22v2.5M576.0 106.3v-2.5M576.0 106.3v2.5M183.0 64.2h8M599.0 64.2h-8M183.0 148.6h8M599.0 148.6h-8" stroke="#333" stroke-width="1" fill="none"/><text x="178.0" y="30.0" font-size="10" fill="#333" font-family='"Liberation Sans", sans-serif' text-anchor="end" textLength="22.2" lengthAdjust="spacingAndGlyphs">58.2</text><text x="178.0" y="68.6" font-size="10" fill="#333" font-family='"Liberation Sans", sans-serif' text-anchor="end" textLength="22.2" lengthAdjust="spacingAndGlyphs">10.4</text><text x="178.0" y="107.4" font-size="10" fill="#333" font-family='"Liberation Sans", sans-serif' text-anchor="end" textLength="31.5" lengthAdjust="spacingAndGlyphs">−37.4</text><text x="178.0" y="114.2" font-size="10" fill="#333" font-family='"Liberation Sans", sans-serif' text-anchor="end" textLength="22.2" lengthAdjust="spacingAndGlyphs">5.48</text><text x="178.0" y="152.6" font-size="10" fill="#333" font-family='"Liberation Sans", sans-serif' text-anchor="end" textLength="31.5" lengthAdjust="spacingAndGlyphs">−0.92</text><text x="178.0" y="193.5" font-size="10" fill="#333" font-family='"Liberation Sans", sans-serif' text-anchor="end" textLength="31.5" lengthAdjust="spacingAndGlyphs">−7.33</text><text x="138.5" y="65.5" font-size="10.5" fill="#333" font-family='"Liberation Sans", sans-serif' text-anchor="middle" textLength="61" lengthAdjust="spacingAndGlyphs" transform="rotate(-90 138.5 65.5)">δV<tspan font-size="7" dy="2.5">i</tspan><tspan font-size="10" dy="-2.5"> (km s</tspan><tspan font-size="7" dy="-4">-1</tspan><tspan font-size="10" dy="4">)</tspan></text><text x="138.5" y="149.0" font-size="10.5" fill="#333" font-family='"Liberation Sans", sans-serif' text-anchor="middle" textLength="39" lengthAdjust="spacingAndGlyphs" transform="rotate(-90 138.5 149.0)">B<tspan font-size="7" dy="2.5">i</tspan><tspan font-size="10" dy="-2.5"> (nT)</tspan></text><text x="202.2" y="87.8" font-size="10" fill="#f01010" font-family='"Liberation Sans", sans-serif' textLength="10.8" lengthAdjust="spacingAndGlyphs">δV</text><text x="213.8" y="93.7" font-size="6.5" fill="#f01010" font-family='"Liberation Sans", sans-serif'>z</text><text x="225.5" y="87.8" font-size="10" fill="#4838f0" font-family='"Liberation Sans", sans-serif' textLength="10.8" lengthAdjust="spacingAndGlyphs">δV</text><text x="237.2" y="93.7" font-size="6.5" fill="#4838f0" font-family='"Liberation Sans", sans-serif'>y</text><text x="264.7" y="87.8" font-size="10" fill="#111" font-family='"Liberation Sans", sans-serif' textLength="10.0" lengthAdjust="spacingAndGlyphs">δV</text><text x="277.2" y="93.7" font-size="6.5" fill="#111" font-family='"Liberation Sans", sans-serif'>x</text><text x="202.2" y="172.7" font-size="9.3" fill="#f01010" font-family='"Liberation Sans", sans-serif' textLength="6.0" lengthAdjust="spacingAndGlyphs">B</text><text x="209.7" y="178.5" font-size="6.5" fill="#f01010" font-family='"Liberation Sans", sans-serif'>z</text><text x="221.0" y="172.7" font-size="9.3" fill="#4838f0" font-family='"Liberation Sans", sans-serif' textLength="6.0" lengthAdjust="spacingAndGlyphs">B</text><text x="227.8" y="178.5" font-size="6.5" fill="#4838f0" font-family='"Liberation Sans", sans-serif'>y</text><text x="254.7" y="172.7" font-size="9.3" fill="#111" font-family='"Liberation Sans", sans-serif' textLength="6.0" lengthAdjust="spacingAndGlyphs">B</text><text x="262.2" y="178.5" font-size="6.5" fill="#111" font-family='"Liberation Sans", sans-serif'>x</text><text x="220.3" y="16.2" font-size="14.5" fill="#333" font-family='"Liberation Serif", serif' textLength="18.4" lengthAdjust="spacingAndGlyphs">(a)</text><text x="246.3" y="16.0" font-size="11.8" fill="#808080" font-family='"Liberation Sans", sans-serif' textLength="308" lengthAdjust="spacingAndGlyphs">Wind plasma velocity and magnetic field data</text><text x="227.0" y="206.8" font-size="10.2" fill="#333" font-family='"Liberation Sans", sans-serif' textLength="13.6" lengthAdjust="spacingAndGlyphs">08</text><text x="247.0" y="206.8" font-size="10.2" fill="#333" font-family='"Liberation Sans", sans-serif' textLength="29.0" lengthAdjust="spacingAndGlyphs">12:00</text><text x="365.7" y="206.8" font-size="10.2" fill="#333" font-family='"Liberation Sans", sans-serif' textLength="13.6" lengthAdjust="spacingAndGlyphs">09</text><text x="385.7" y="206.8" font-size="10.2" fill="#333" font-family='"Liberation Sans", sans-serif' textLength="29.0" lengthAdjust="spacingAndGlyphs">12:00</text><text x="505.0" y="206.8" font-size="10.2" fill="#333" font-family='"Liberation Sans", sans-serif' textLength="13.6" lengthAdjust="spacingAndGlyphs">10</text><text x="525.0" y="206.8" font-size="10.2" fill="#333" font-family='"Liberation Sans", sans-serif' textLength="29.0" lengthAdjust="spacingAndGlyphs">12:00</text><text x="390.5" y="220.3" font-size="10.2" fill="#333" font-family='"Liberation Sans", sans-serif' text-anchor="middle" textLength="170.3" lengthAdjust="spacingAndGlyphs">Time (dd hh:mm on May 1997)</text><clipPath id="pcb"><rect x="183.0" y="264" width="416.0" height="168"/></clipPath><g clip-path="url(#pcb)"><rect x="183.0" y="264" width="416.0" height="168" fill="#120013"/><path d="M184 264 599 264 599 432 183 432 183 264 184 264ZM357.8 324 356.8 326 357 328.7 358 330.5 360 331 361.4 329 361.5 326 360 323.7 359 323.4 357.8 324Z" fill="#1c0022" fill-rule="evenodd"/><path d="M184 264 599 264 599 432 183 432 183 264 184 264ZM357.2 322 355.6 325 355.6 329 357.1 332 358.4 333 360 333.2 361 332.8 362.4 331 363 329 362.9 326 362 323.4 360.8 322 359 321.3 357.2 322Z" fill="#24002b" fill-rule="evenodd"/><path d="M184 264 599 264 599 432 183 432 183 264 184 264ZM357.6 320 356 321.3 355 323.1 354.3 326 354.5 329 355.6 332 357 333.8 360 334.9 362 333.9 363.3 332 364.1 329 364 326 363.1 323 361.7 321 360 319.9 357.6 320Z" fill="#2d0037" fill-rule="evenodd"/><path d="M184 264 599 264 599 432 183 432 183 264 184 264ZM356.8 319 355 320.8 354 323 353.4 326 353.6 329 354.5 332 356 334.4 358 336 360 336.3 362 335.5 364 333 364.9 330 364.9 326 364 322.8 362 319.7 359 318.3 356.8 319Z" fill="#4d005e" fill-rule="evenodd"/><path d="M184 264 599 264 599 432 183 432 183 264 184 264ZM356.3 318 354.4 320 353 323 352.6 326 352.9 330 354 333.1 356 335.9 358 337.2 361 337.4 363.2 336 365 333 365.8 329 365.3 324 364 320.8 361.5 318 359 317.1 356.3 318Z" fill="#58007b" fill-rule="evenodd"/><path d="M184 264 599 264 599 432 183 432 183 264 184 264ZM358.9 316 356 316.9 353.9 319 352.2 323 351.7 327 352.3 331 354.1 335 357 338 360 338.8 363 337.6 365 335.2 366.2 332 366.6 328 365.8 323 364 319.3 361.8 317 358.9 316Z" fill="#5a00a0" fill-rule="evenodd"/><path d="M184 264 599 264 599 432 183 432 183 264 184 264ZM358 315 355 316.5 352.9 319 351.4 323 351 328 352 332.5 354 336.4 357 339.1 360 339.9 363 339 365.6 336 367 332 367.3 327 366.2 322 364 317.9 361 315.4 358 315Z" fill="#5a00c8" fill-rule="evenodd"/><path d="M184 264 599 264 599 432 183 432 183 264 184 264ZM357.9 314 355 315.3 352 319 350.4 324 350.4 329 351.7 334 354.2 338 358 340.7 361 341 364 339.5 366.6 336 367.9 331 367.9 326 366.6 321 364 316.6 361 314.4 357.9 314Z" fill="#5700e1" fill-rule="evenodd"/><path d="M184 264 599 264 599 432 183 432 183 264 184 264ZM357.8 313 354 314.9 351 319 349.6 324 349.6 329 351 334.2 354 339 357 341.3 361 342.1 364 340.8 367 337.1 368.6 332 368.7 327 367.3 321 365 316.7 362 313.8 360 313 357.8 313Z" fill="#5200f1" fill-rule="evenodd"/><path d="M184 264 599 264 599 432 183 432 183 264 184 264ZM357.9 312 354 313.8 351 317.3 349.1 322 348.7 328 350.1 334 353 339.1 357 342.4 361 343.2 365 341.3 367.5 338 369.2 333 369.3 327 368 321 365 315.4 362 312.8 357.9 312Z" fill="#520dfc" fill-rule="evenodd"/><path d="M184 264 599 264 599 432 183 432 183 264 184 264ZM358.6 311 356 311.5 354 312.6 350.8 316 348.6 321 348 328 349.2 334 352.7 340 357 343.5 361 344.3 365 342.6 368 339 369.7 334 370.1 328 368.7 321 366 315.6 362.3 312 358.6 311Z" fill="#5529ff" fill-rule="evenodd"/><path d="M184 264 599 264 599 432 183 432 183 264 184 264ZM354.9 311 351 314.3 348.3 319 347.1 325 347.6 331 349.7 337 353.4 342 358 345 362 345.2 366.1 343 369.4 338 370.8 331 370.2 324 367.7 317 364 312.2 360 310.1 357 310.2 354.9 311Z" fill="#5951fa" fill-rule="evenodd"/><path d="M184 264 599 264 599 432 183 432 183 264 184 264ZM354.9 310 350.9 313 347.7 318 346.4 324 346.8 331 349 337.4 353 342.8 357 345.7 360 346.5 362 346.4 364 345.7 366.6 344 370 339 371.5 332 371.1 325 368.9 318 365 312 363 310.4 360 309.2 357 309.2 354.9 310ZM556.1 342 554.5 343 553.5 345 554.6 347 556.3 348 559 348.6 562 348.4 564 347.7 565.8 346 565.9 344 563.6 342 560 341.3 556.1 342Z" fill="#4b66f6" fill-rule="evenodd"/><path d="M184 264 599 264 599 432 183 432 183 264 184 264ZM354.7 309 350 312.6 347.2 317 345.6 324 346 331 348 337.2 352 343.1 357 346.8 362 347.5 365 346.5 367 345.1 370.5 340 372.3 333 371.8 325 369.2 317 365 310.9 363 309.4 360 308.2 357 308.3 354.7 309ZM556 340 552 342 550.6 344 551.1 347 553.5 349 557 350.2 562 350.3 566 349 568.3 347 568.7 344 566 341 561 339.6 556 340Z" fill="#417ef2" fill-rule="evenodd"/><path d="M184 264 599 264 599 432 183 432 183 264 184 264ZM354.6 308 349.1 312 346.2 317 344.8 324 345.4 332 347.9 339 352.7 345 358 348.3 363 348.5 366 347.3 368 345.6 371.6 340 373.1 332 372.3 324 369.5 316 365 309.8 363 308.3 360 307.2 357 307.2 354.6 308ZM554.2 339 550.3 341 548.1 344 548.5 347 550 348.8 552 350.1 557 351.6 563 351.5 567.6 350 570.7 347 571.2 345 570.6 343 568.9 341 567 339.8 561 338.2 554.2 339Z" fill="#3a96f1" fill-rule="evenodd"/><path d="M184 264 599 264 599 432 183 432 183 264 184 264ZM354.4 307 348.6 311 345.5 316 344.1 324 344.8 333 347.5 340 352 345.7 355 348 358 349.5 363 349.8 366 348.7 368.3 347 370.7 344 372.2 341 373.8 334 373.3 325 370.3 316 368 312.1 365.3 309 363 307.3 360 306.2 357 306.2 354.4 307ZM558.2 337 551 338.8 547 341.8 545.9 344 545.9 346 548 349.4 553 352.1 560 353.1 566.5 352 571.5 349 572.8 347 573.2 345 572.7 343 571 340.8 566 337.9 562 337.1 558.2 337Z" fill="#35adf3" fill-rule="evenodd"/><path d="M184 264 599 264 599 432 183 432 183 264 184 264ZM354.1 306 348 309.9 345 314.6 343.4 323 344 333 346.4 340 351 346 357 350.3 360 351.2 363 351.2 366 350.2 369 348 371.5 345 373 342 374.8 334 374 325 371.1 316 368.8 312 366 308.5 363 306.2 360 305.2 357 305.2 354.1 306ZM556.7 336 549.6 338 546.5 340 544.7 342 543.9 344 543.9 346 545 348.6 547 350.6 553 353.4 561 354.2 568 352.8 571.4 351 573.6 349 574.8 347 574.9 344 574.1 342 572 339.8 569 337.9 565 336.4 561 335.9 556.7 336Z" fill="#30c6f7" fill-rule="evenodd"/><path d="M184 264 599 264 599 432 183 432 183 264 184 264ZM357.8 304 354 304.8 350 306.8 347 309 345.5 311 344 314.7 343 319.5 342.9 331 345 339.2 347 342.9 349.5 346 356 351.1 360 352.5 363 352.6 366 351.8 368.8 350 372.9 345 375.3 338 375.5 329 373.5 320 369 310.9 364 305.7 361 304.3 357.8 304ZM556 335 548 337.3 545 339.3 542.7 342 542 344 542.1 347 543.2 349 546 351.7 549 353.3 553 354.6 562 355.2 570 353.3 573.7 351 575.6 349 576.7 347 576.8 344 575.3 341 573 338.9 569 336.6 565 335.3 561 334.8 556 335Z" fill="#2ae4fc" fill-rule="evenodd"/><path d="M184 264 599 264 599 432 183 432 183 264 184 264ZM356.5 303 348.5 306 346 308 344.7 310 343 315 342.2 320 342 327 342.5 333 345 341.5 347 344.8 349.9 348 354 351.3 357 353 361 354.1 364 354 367 353 370 351 372.6 348 374.3 345 376.6 337 376.3 328 373.2 317 368 308.3 363 303.9 360 302.9 356.5 303ZM555.5 334 550.7 335 546 337 543 339.1 540.7 342 539.9 345 540.6 348 542 350.2 545 352.7 549 354.7 553 355.8 558 356.4 563 356.2 568 355.2 572 353.7 575 351.8 577.7 349 578.9 346 578.5 343 576.4 340 573.9 338 570 335.8 565 334.3 560 333.7 555.5 334Z" fill="#15f5e4" fill-rule="evenodd"/><path d="M184 264 599 264 599 432 183 432 183 264 184 264ZM355.3 302 347 305 344 308.7 342.4 314 341.5 320 341.3 327 341.9 334 343 339 344.6 343 349 348.8 353 352.1 357 354.5 361 355.7 364 355.7 367 354.9 370.2 353 373.1 350 375.5 346 377.7 338 377.8 333 377.3 328 375.8 322 373.6 316 370.9 311 368 306.9 365 304 362 302.2 359 301.6 355.3 302ZM555 333 550 334 545.1 336 542 338 539.3 341 538.1 344 538.2 347 539.7 350 543 353.1 547 355.2 552 356.7 557 357.4 563 357.3 568 356.4 573 354.5 577 352 579.7 349 580.9 346 580.5 343 578.5 340 575 337.2 570 334.7 565 333.2 560 332.7 555 333Z" fill="#00fbbd" fill-rule="evenodd"/><path d="M184 264 599 264 599 432 183 432 183 264 184 264ZM353.7 301 346 303.4 344 305.8 343 308.1 341.4 315 340.6 323 340.8 331 341.9 338 343 342 345 346 347.3 349 351 352.3 355 355.1 359 356.9 363 357.5 366 357.2 370 355.5 372.9 353 375.2 350 377.2 346 378.4 342 379 337 378.1 327 376.5 321 373.6 314 370.6 309 367 304.4 364 301.9 361 300.6 358 300.3 353.7 301ZM554.5 332 549 333.2 544 335.1 539.7 338 537.3 341 536.2 344 536.5 348 538.3 351 542 354.2 547 356.6 552 357.9 558 358.6 564 358.3 570 357 574.9 355 579.3 352 581.9 349 583 346 582.8 343 580.8 340 577 337 571.1 334 566 332.4 560 331.7 554.5 332Z" fill="#00ffa2" fill-rule="evenodd"/><path d="M184 264 599 264 599 432 183 432 183 264 184 264ZM357 299 346 300.7 344 302.6 343 304.6 341.3 311 340.2 319 340 328 340.7 336 343.1 345 345 348.4 348 351.7 353 355.6 358 358.4 362 359.4 366 359.3 369.8 358 372.8 356 375 353.7 377.3 350 379 346 380.2 341 380.5 336 380 331 378.7 325 376.4 318 373.5 312 370.3 307 367 303 364 300.5 361 299.2 357 299ZM553.7 331 547 332.6 542 334.7 538 337.5 535.2 341 534.1 345 534.9 349 537 352.1 541 355.3 546 357.6 552 359.1 559 359.7 565 359.3 571 358 577 355.4 581.7 352 584.2 349 585.4 345 584.8 342 582.4 339 579.6 337 572 333.2 566 331.3 560 330.6 553.7 331Z" fill="#00ff7f" fill-rule="evenodd"/><path d="M184 264 599 264 599 432 183 432 183 264 184 264ZM345 298 343 300.8 341.7 305 340.3 312 339.4 320 339.8 335 340.8 341 342.3 346 344 349.5 346.9 353 356 359.4 359 360.7 363 361.5 367 361.3 370 360.5 374.1 358 377.6 354 380 349 381.6 343 382 338 381.5 332 379.9 325 377.4 318 371.5 307 368 302.5 364 298.9 362 297.9 359 297.4 351 298 346 297.6 345 298ZM552.8 330 546 331.6 540.3 334 536.1 337 533 341 531.9 345 532.7 349 535.4 353 540 356.5 545 358.7 552 360.4 559 360.9 566 360.4 573 358.6 578.8 356 583.1 353 586.6 349 587.7 345 587.3 342 585.4 339 582 336.5 573 332.4 566 330.2 560 329.5 552.8 330Z" fill="#00ff57" fill-rule="evenodd"/><path d="M184 264 599 264 599 432 183 432 183 264 184 264ZM344.7 294 343 296.2 341 303 339.6 311 338.8 320 339.1 336 340.3 343 342 348.5 344 352.4 346.2 355 351.7 359 357 362 361 363.3 365 363.8 369 363.3 372 362.3 375.9 360 379 356.5 381.7 351 383.3 345 383.8 340 383.4 334 381.8 327 379.4 320 373.4 308 369 302 365 297.9 361 295.9 352 295.8 346 293.7 344.7 294ZM551.6 329 544 330.9 538 333.6 533.6 337 530.7 341 529.7 346 530.8 350 533.7 354 538 357.2 544 359.8 551 361.6 559 362.2 566 361.7 573 360 580 357 585 353.8 588.4 350 589.9 346 589.7 342 588 338.5 585 336 572 330.8 566 329 559 328.3 551.6 329Z" fill="#00ff2b" fill-rule="evenodd"/><path d="M184 264 599 264 599 432 183 432 183 264 184 264ZM344.6 288 343 289.9 341 297.3 339.1 308 338.2 318 338.5 337 339.5 344 341.1 350 343 354.2 346 357.9 356 363.8 360 365.3 364 365.9 369 365.7 373 364.7 377 362.6 380.7 359 383 354.9 384.9 349 385.8 343 385.7 337 384.6 331 382.3 324 378.6 315 375.4 309 371 302.6 366 296.7 363 294.5 361 293.8 354 293.6 351 293 349 291.6 346 288.4 344.6 288ZM550.3 328 542 330.1 536 332.9 531 337 528.3 341 527.3 346 528.7 351 531.8 355 537 358.6 544 361.5 551 363 559 363.6 567 362.9 575 360.9 583 357.3 587.8 354 590.9 350 592.1 346 591.7 341 590 337.3 587 334.6 565 327.6 558 327.1 550.3 328Z" fill="#00ff08" fill-rule="evenodd"/><path d="M184 264 599 264 599 432 183 432 183 264 184 264ZM343.4 280 342 284.1 340 295.6 338.1 309 337.4 319 337.9 340 339 347 341 354 343 358.3 345 360.6 357 366.6 365 368.2 370 367.9 374 367 378.3 365 382.1 362 384.3 359 386.4 354 387.9 347 388.3 341 387.5 335 385.4 328 381.4 318 377.4 310 373.6 304 367 295.5 364 292.5 362 291.4 355 290.9 351.9 290 349.2 287 345 279.2 344 279.2 343.4 280ZM554 326 543 328.1 538 329.9 532 333.4 527.3 338 524.9 343 524.8 348 527 353 532 357.9 538 361.2 546 363.7 554 364.9 563 364.9 571 363.7 580 360.7 587.3 357 591.6 353 594 348 594.3 343 592.4 337 589 333 586.9 332 578 330.2 565 326.2 560 325.7 554 326Z" fill="#00ff00" fill-rule="evenodd"/><path d="M184 264 599 264 599 432 183 432 183 264 184 264ZM343 270 341.9 273 340.5 281 336.7 317 337 341 338.1 349 340 356.6 342 361.2 344.5 364 356 368.7 361 370 366 370.5 371 370.1 375.6 369 380.2 367 384 364.2 386.7 361 388.7 357 390.2 351 391 344 390.8 339 389.3 333 385.3 323 379.5 311 375.3 304 367 292.6 364 289.1 362 287.9 355 287.2 352.7 286 350.1 282 346 270.6 345 269.3 344 269 343 270ZM551.5 325 541 326.9 535 329.2 527.7 334 523.5 339 521.6 344 521.5 347 522.2 350 525 355 530 359.4 537 363 545 365.4 554 366.7 564 366.6 574 364.7 584 361.2 589.8 358 593.7 354 596.4 348 596.5 342 593.9 335 590 330.4 587 329.3 578 328.7 563 324.4 557 324.2 551.5 325Z" fill="#00ff00" fill-rule="evenodd"/><path d="M184 264 341.3 264 339.4 276 336 314 336.1 342 337.9 356 340.2 363 342 365.8 344 367.5 358 371.7 366 372.7 373 372.1 379 370.3 385 367.1 389 363.3 391.6 359 393.3 353 394.3 345 393.9 339 390.3 329 378.5 306 370.2 294 364 283.8 362 282.2 356 281.9 353.6 280 351.5 276 347.4 264 599 264 599 341 597.6 337 594.9 332 592 328 590 326.4 588 326 582 327.1 578 327 565 323 557 322.3 548 324.3 539 325.3 530 329.4 524.8 333 521 337 518.8 341 517.9 346 518.4 350 520.3 354 523.6 358 528 361.4 534 364.5 540 366.5 548 368.2 555 368.8 563 368.7 571 367.6 579 365.5 587 362.6 591 360.3 594.7 357 597.5 353 599 349.2 599 432 183 432 183 264 184 264ZM197.9 276 196.9 279 196.7 286 197.9 293 199 294.6 200 293.3 200.5 291 200.9 284 200 277.7 199 275.8 197.9 276Z" fill="#00ff00" fill-rule="evenodd"/><path d="M184 264 338.9 264 335.1 312 335 347 336.6 360 339.5 367 341 369 343.7 371 359 374.4 366 375 373 374.5 380 372.6 387 369 391.9 365 394.9 361 396.9 356 398.8 347 398.9 341 396.8 335 381.2 307 370.3 290 364 274.6 362 272.8 358 272.7 356 272 354 269.7 351.4 264 599 264 599 333.4 592 322 590 320.4 588 321 583.8 324 580 325.1 575 324.6 566 321.1 560 320 555 320.4 548 322.9 539 322.6 535 323.9 528 327.4 519.6 333 516.9 336 515.2 339 514.1 342 513.7 346 514.3 351 516.1 355 519 358.8 522.7 362 528 365.2 534 367.7 541 369.7 548 370.9 556 371.5 564 371.2 571 370.3 579 368.4 586 366.3 591 364.1 595.2 361 599 356.9 599 432 183 432 183 386.1 189 389.9 196 392.2 205 393.4 215 393 224 391 230.6 388 235.1 384 236.2 382 236.8 379 236.4 377 235 374.6 233 372.8 229.8 371 222.6 369 211 367.5 202 367 195 367.9 188.5 370 183 373.6 183 264 184 264ZM197.2 267 196 269.2 195 273.9 194.9 284 196.6 299 198 303.2 199 304 200 303.5 201 301.8 202.3 297 203.1 290 203.1 282 202.4 275 201 269.4 199 266.5 198 266.4 197.2 267ZM540.6 274 539.4 276 539.1 279 539.9 283 541 284.1 542 283.5 542.7 282 543.1 278 542 274.4 540.6 274ZM512 279 512 284.1 513 285 513 278.7 512 279ZM436.5 334 433 335 431.7 336 431.4 337 431.9 338 433.6 339 440 339.9 444 339 445.3 338 445.3 336 444 334.9 441 334 436.5 334Z" fill="#08ff00" fill-rule="evenodd"/><path d="M184 264 194.1 264 193.3 269 193.1 276 195 298.7 197 310 198 311.9 199 312.4 201 310.8 202.7 307 204.2 301 205 294 205.1 278 204.1 270 202.7 264 336.7 264 333.9 307 334.3 330 333 353 333.9 361 335.2 365 337.3 369 340 372.3 343 374.4 360 377.1 366 377.6 372 377.1 379 375.6 385 373.2 390.6 370 397.7 364 400.8 360 406 351.1 408 349.1 410 348.1 416 347.4 439 348.6 449 347.7 454 346.1 457.3 344 459.4 341 459.9 338 458.7 334 455 329.7 450 326.8 443 324.9 434 324.6 424 325.9 418 327.5 409 331.6 406 332.4 403 332.1 399 329.9 395 325.9 391 320.3 380.3 301 373 289.3 370.5 283 367 269.1 364.7 264 509.5 264 508.4 274 508.9 287 511 299.2 512 301.6 513 302.6 514 302 515.2 299 516.8 287 516.8 274 515.3 264 599 264 599 326.5 596.2 321 594.5 315 593 290.9 592 284.8 591 282.7 590 283.3 589 287.2 586.8 313 585.2 318 582.9 321 580 322.6 576 322.7 564 317.6 559 316.7 556 317.3 551 320.4 548 321.5 545 321.4 539 319.2 536 319.8 518 327.9 515 330.1 513 333 510.9 338 509.6 343 509.2 348 509.9 353 511.5 357 514 360.5 517.7 364 522.3 367 528 369.7 534 371.8 542 373.6 557 375.1 565 374.8 572 373.9 589 369.9 594 367.4 599 363.7 599 432 183 432 183 398 194 400.5 205 401.5 217 401 228 398.9 238 395 245 390.4 249.5 385 250.8 382 251.3 379 250.1 374 247 370.1 242.2 367 236 364.8 230 363.6 215 362.4 198 360 191 360.2 183 361.8 183 264 184 264ZM539.9 268 538.9 269 537.6 272 536.9 280 538.3 287 539.4 289 541 290.1 543 289 544.5 286 545.4 282 545.6 278 545 273.5 543.8 270 542 267.9 539.9 268Z" fill="#51ff00" fill-rule="evenodd"/><path d="M184 264 190.6 264 195 315 196 320.2 197 322 198 322.5 199 322.3 201 320.4 203.5 316 205.6 310 207.3 302 208.3 284 206.9 264 333.9 264 332.1 303 333.4 322 333.4 332 332 343.3 328.8 356 329 361 331.1 366 334.4 371 338 375.1 341.8 378 345 378.9 352 379 365 380.4 376 379.2 386 375.7 395.9 370 410 359.5 416 356.7 425 355.2 449 354 458 352.1 462 350 464.3 348 466.3 345 467.2 341 467 338 465.6 334 463.2 330 460 326.2 452 319.8 444 316.5 434 315.4 423 316.3 418 317.9 408 323.4 404 324.7 400 324.2 397 322.5 394 319.5 390 313.8 375.8 286 373.2 278 370.7 264 505.9 264 506.1 275 507.3 289 511.8 319 510.8 326 505.5 342 504.3 348 504.5 355 506.7 361 509 364.3 512 367.3 521 372.9 533 377.3 547 380.1 561 381.1 573 380.4 589 378.3 594 376.6 599 374 599 432 183 432 183 410.7 198 412.5 213 412.5 227 410.6 239 407.2 250 401.6 258 394.9 261.1 391 263.1 387 264.3 383 264.6 379 263.5 373 260.7 369 255.2 365 248 361.7 241.9 360 235 358.9 214 357.9 208 356.4 194 351.5 183 350.6 183 264 184 264ZM520 264 536.7 264 534.8 271 534.8 280 537 291.4 538.6 295 540 296 542 295.1 545.7 291 547.3 288 548.2 284 548.3 274 547.4 269 545.5 264 586.9 264 584.5 308 583.5 314 581.4 318 580 319.3 578 320.1 574 319.5 571 317.9 563 311.7 559 310.3 557 311.4 551.9 318 548 320.2 546 320.1 543.6 319 538 313.6 536 314.1 531 317.9 528 319.3 524 319.9 520 318.9 518 316.1 517.5 312 519.7 279 520 264ZM596 264 599 264 599 309.4 597.7 282 595.6 264 596 264Z" fill="#8cff00" fill-rule="evenodd"/><path d="M217 264.5 217.1 264 231.3 264 233.2 276 233.6 287 232.8 298 230.4 311 230.3 316 231.3 320 233 322.8 235 324.5 238 325.4 241 324.7 244 322.5 246 319.2 246.7 316 246 311 241.4 301 240.2 292 240.2 278 242.6 264 261.6 264 265 275.6 266 277.3 267 277.2 272 267.1 274.9 264 278 264.2 282 268.2 284 268.9 286 267.1 287.9 264 326 264 328 277 328.1 299 331.6 315 332.7 324 332.2 335 330 344 327 348.8 324 351.2 320 352 317 351 313.5 347 308 335.4 305 331 302.3 329 300 328.2 294 328.7 292 328.1 289.2 325 285 317.5 284 316.5 283 316.6 281.5 320 281.3 326 282 330 285.4 341 286.5 350 287.2 351 289 351.6 304 352.8 309 354.3 313 356.2 322 363.3 330.2 374 338 380.8 342 383.3 345 383.7 353 383.2 364 384 373 383.2 383 380.4 391 376.6 409 366.2 419 362.2 431 360.3 459 358.8 465.9 357 470 354.5 472.1 352 473.8 348 474 344 473 339 469 330.6 457.8 314 455.9 310 454.9 306 454.6 301 455 296 458.3 283 462.6 273 468.3 264 501.6 264 503.3 272 505.2 286 507.9 309 508.3 319 507.5 325 506.1 330 497.6 350 496.7 356 497.5 361 499.2 365 502 369 510 376.6 518 381.6 534.9 390 541.3 394 543.7 397 544.2 399 543.6 401 539.7 405 532.3 409 521.2 413 507 416.7 491 419.7 473 422.2 434 425.3 395 425.8 356 423.9 343 421.8 332 421.4 318 419.4 303 416.3 292 412.8 287 410.3 284 408 281.5 405 280 401.3 277.5 378 277.9 363 277 360.6 275 359.9 262 359.8 246 355.7 239 354.5 232 354.1 220 354.6 214.8 354 210 352.5 206 350.2 202.5 347 200.5 344 199.5 339 200.7 334 207 320.8 213.6 310 215 306 215.6 300 215.6 278 217 264.5ZM383 264 409.5 264 411.7 272 413.4 282 414 292 413.7 300 412.5 306 410.4 311 407.5 315 404 317.6 401 318.2 399 317.8 395 315.1 390 308 385.9 299 382.6 289 381 280 381.3 271 383 264ZM568 264 582.5 264 583.1 286 582.3 305 580.5 313 579 315.3 577 316.3 574 315.8 570.8 313 568.1 308 566.4 302 565.6 293 565.6 282 566.8 267 567.2 264 568 264ZM184 267.5 186 268.2 187 269.3 190 277.3 192.2 290 193.1 303 192.9 315 191.5 324 189 329.7 186 331.5 183 330.7 183 267.8 184 267.5ZM527 272.6 529 272.9 530 274 532 279 534.5 292 535.2 300 534.6 305 532.6 310 530 313.1 527 314.2 524.2 313 522.3 310 521.2 305 521 299 521.5 289 523 280 525 274.6 527 272.6ZM547 294.6 550 294.5 552 296.3 553.8 300 554.7 306 554.3 310 552.5 315 550 318 547 318.9 544.7 318 542.2 315 540.7 311 540.3 307 540.6 304 542 300 544.1 297 547 294.6Z" fill="#b0ff00" fill-rule="evenodd"/><path d="M480 264.4 480.3 264 495.1 264 499.7 272 501.8 278 503.9 289 505.5 303 505.9 318 504.8 324 503.1 329 499.9 335 495 341.6 491 345.3 487 346.8 485 346.4 482 344.1 476 335.3 466.3 318 464.5 313 463.7 308 463.7 303 464.5 297 468.3 284 473.5 273 480 264.4ZM575 265.6 576 265.3 577 266 578.9 271 580 278.3 580.4 286 580.3 296 579.5 304 578 308.5 576 310.1 574 309.1 572 305.4 570.8 300 570.3 293 570.5 284 571.5 275 573 268.9 575 265.6ZM394 268.9 396 268.3 398 268.8 401 271.6 404 277.9 405.9 286 406.4 295 405.5 303 403.3 308 402 309.4 400 310.4 398 310.2 396 309 393 305.4 390 299 388 291 387.7 284 388.9 277 391 272 394 268.9ZM309 269.9 312 270.4 314 272 317 278.1 318.3 286 317.9 298 318.2 301 319.8 303 324 305.5 327 308.3 329.1 312 331 318.1 331.9 328 330.8 337 328 343.4 326 345.3 324 346.2 321 345.9 319 344.6 316.8 342 314.4 337 312.5 328 312.1 312 311 308.4 306 304.5 301 299.3 299 299.1 295.8 302 294 302.7 292.3 301 291.3 298 291 290 292 285.5 293 283.4 295 281.8 299 281.2 305 272.9 307 270.9 309 269.9ZM184 274.9 186 275.1 187 276 189.4 281 191.3 290 192.2 301 191.7 311 190.3 318 188 322.4 187 323.2 185 323.7 183 322.8 183 275.4 184 274.9ZM528 282.8 530 284.7 531 287.2 532.3 296 532.1 300 531.1 304 530 306.3 528 307.9 526 307.1 525 305.6 523.9 302 523.5 297 523.9 291 525 286.1 526 284.1 528 282.8ZM547 297.5 549 297.6 551 299.4 552.5 303 553.1 307 552.7 311 551.2 315 549 317.2 547 317.6 545 316.7 543.6 315 542.4 312 541.9 308 542.4 304 543.5 301 545 298.8 547 297.5ZM257 317.8 259 317.3 261 317.7 266.3 321 270 325.8 272.9 333 274.1 340 273.4 345 271 349.3 267 352.4 263 353.6 259 353.7 244 350 237 349 232 349.1 222 350.5 217 350.3 211.1 348 207.4 344 206.1 339 207.2 333 210.5 327 215 323.1 219 321.7 222 322.3 229 330.2 232 332.7 235 334.1 239 334.5 243 333.5 247 330.8 250.3 327 255 319.6 257 317.8ZM307 364.9 314 364.8 318.7 367 320.6 370 320.2 377 321.9 380 325 382.4 333.6 387 340 392.7 342 393.8 344 393.7 348.8 391 352 389.9 367 389.3 377 387.2 386 383.6 405 372.7 414 368.5 425 365.5 439 364.3 476 365.1 482 366.3 487.3 370 493.1 377 496.8 384 497.8 390 497 393 494.8 396 491 398.9 487 401 473 405.5 453 409.3 431 411.6 407 412.4 386 411.6 363 409.1 352 407.1 342 401.8 334 402.9 328 401.6 305 391.4 297 386.6 293.5 383 291.3 379 290.8 375 291.5 372 293 369.9 296 367.8 307 364.9Z" fill="#cdff00" fill-rule="evenodd"/><path d="M483 264.5 483.2 264 492.6 264 495 270.1 499 277.7 500.9 283 502.8 292 504 303 503.9 316 503 321 501.4 326 498.7 331 495 335.6 491 338.6 488 339.4 485 338.9 482 337 476.2 330 470.6 319 469.1 314 468.4 309 468.9 299 471.8 286 475.6 277 481 268.8 483 264.5ZM184 279.3 186 279.4 187 280.3 189 284.2 190.5 291 191.3 300 190.9 308 189.7 314 188 317.6 187 318.6 185 319.2 183 318.1 183 280 184 279.3ZM547 299.6 549 299.9 550.1 301 551.5 304 552 307 551.1 313 550 315 548 316.3 546 316 544.9 315 543.5 312 543 309 543.9 303 545.1 301 547 299.6ZM321 310.7 324 310.6 327.3 313 329.7 318 330.8 324 330.8 331 329.5 337 327 341.4 324 343 321 342.3 318 339 316.2 335 315.1 329 315 323 316.2 317 318.2 313 321 310.7ZM259 330 262 330 264.7 332 266.6 335 267.5 339 267.3 342 266 345 263.7 347 260 348.1 256 347.6 252.4 346 250 344 249.1 342 249.9 339 252 336 256 331.8 259 330ZM217 331.7 219 331.6 221 332.3 223.1 334 225.5 337 226.9 341 226 342.9 224.8 344 222 345.2 218 345.4 215 344.2 213 342 212.2 339 212.6 336 214.6 333 217 331.7ZM429 368.9 438 368.3 447 368.6 457 369.9 465 371.8 470.5 374 474 376.6 476 380 476 383 475 385.3 473 387.7 467 391.8 458 395.5 447 398.2 433 400.3 418 401.2 404 400.7 394.6 399 390.5 397 389.5 396 389 394 391 390 398 383 404.5 378 412 373.8 420 370.8 429 368.9Z" fill="#e9ff00" fill-rule="evenodd"/><path d="M485 264 491 264 494 272.4 497.7 280 499.9 286 501.6 294 502.5 304 501.9 316 499.2 325 496.8 329 494 332.3 491 334.4 488 335.2 485 334.7 482 332.9 477 326.8 474.4 322 472.6 317 471.2 308 471.8 297 474.4 286 476.8 280 482 271.1 485 264ZM184 283 186 282.9 188 285.5 189.8 292 190.4 299 190.1 306 189 311.3 187 314.9 185 315.6 183 314.2 183 283.9 184 283ZM547 301.4 549 301.9 549.9 303 551.1 307 550.5 312 549.4 314 548 315 546 314.5 545 313.3 543.9 309 544.7 304 547 301.4ZM323 313.9 326 314.9 328 317.5 329.3 321 330 326 329.8 331 328.5 336 326.6 339 324 340.4 321 339.3 319.1 337 317.5 333 316.7 328 317 323 318.4 318 320.6 315 323 313.9ZM431 372.9 442 372.7 452 374.7 455.1 376 457.8 378 458.8 380 458.5 382 457 384 453 386.6 448 388.4 442 389.8 428 390.9 421 390.4 416 389.2 412 387 410.9 385 411.1 383 413.1 380 417 377.2 421 375.3 431 372.9Z" fill="#f5e700" fill-rule="evenodd"/><path d="M486 264.8 486.6 264 489.4 264 490 265 494 276.1 497.6 284 500.2 294 501.1 304 500.5 314 497.9 323 495.6 327 493 329.8 491 331.2 488 332.1 485 331.6 483 330.5 480.3 328 478 324.7 474.4 316 473.1 307 473.5 298 475.6 288 477.9 282 483 272.4 486 264.8ZM185 285.9 187 287.2 188 289.3 189.1 294 189.5 300 189 306 188 309.7 187 311.4 185 312.3 183 310.5 183 287.5 185 285.9ZM546 304 547 303.2 548 303.2 549 304 550 306.2 550 310.5 549 312.8 548 313.5 547 313.5 546 312.8 544.9 310 544.9 307 546 304ZM323 316.9 325 317.1 327 319.1 328.3 322 329 326 328.9 330 327.9 334 326 336.9 324 337.9 322 337.3 320.1 335 318.9 332 318.3 328 318.5 324 319.3 321 321 318.1 323 316.9Z" fill="#f8c300" fill-rule="evenodd"/><path d="M488 265.8 489 266.4 490 268.1 497.5 288 499.4 297 499.8 306 498.8 315 496 322.8 492 327.8 490 329 487 329.5 484 328.5 482 326.9 477.9 321 475.3 313 474.6 304 475.4 295 477.4 287 483 275.5 486 267.8 487 266.3 488 265.8ZM184 289.9 185 289.3 186 289.5 187 290.9 188 294 188.5 298 187.7 306 186.7 308 185 309 183 306.4 183 291.7 184 289.9ZM547 305.3 548 305.3 549.1 307 549.1 310 548 311.7 547 311.7 545.9 310 545.9 307 547 305.3ZM323 319.8 325 320 326.1 321 327.1 323 327.8 327 327 332.3 326 334.1 324 335.2 322 334.3 321 333 319.8 328 320.5 323 321.5 321 323 319.8Z" fill="#f8ab00" fill-rule="evenodd"/><path d="M488 268.6 489 269.3 490 271.2 496.6 289 498.3 297 498.7 305 497.7 314 495.2 321 493.2 324 491.1 326 489 327 487 327.2 485 326.7 482.6 325 480.2 322 478.6 319 476.5 312 475.8 303 476.6 295 478.4 288 486 270.8 487 269.1 488 268.6ZM185 293.4 186 293.8 186.5 295 187.2 299 186.7 303 186 304.5 185 304.8 183.9 303 183.4 299 183.9 295 185 293.4ZM323 323.5 324 323.1 325 323.6 326.1 326 325.8 330 325 331.5 324 332 322.6 331 321.7 328 322 325 323 323.5Z" fill="#f99500" fill-rule="evenodd"/><path d="M487 272 488 271.4 489.4 273 495.4 289 497.1 296 497.7 304 496.9 312 494.7 319 491 323.8 489 324.9 487 325.1 485 324.5 483 323.1 480 318.9 477.7 312 476.9 304 477.3 297 478.9 290 487 272Z" fill="#fa7000" fill-rule="evenodd"/><path d="M487 274.9 488 274.3 489 275.2 494.4 289 496.1 296 496.7 303 496 311 494 317.4 491 321.6 489 322.8 487 323.1 485 322.5 483.1 321 480.5 317 478.6 311 477.9 303 478.3 297 479.6 291 487 274.9Z" fill="#f64e00" fill-rule="evenodd"/><path d="M487 277.8 488 277.3 489 278.2 493.4 289 495.2 296 495.8 303 495.2 310 493.3 316 490.4 320 489 320.9 487 321.2 484 319.8 481 315.3 479.4 310 478.8 303 479.2 297 480.7 291 487 277.8Z" fill="#f02200" fill-rule="evenodd"/><path d="M487 280.7 488 280.3 489 281.1 492.4 289 494.3 296 494.9 303 494.2 310 492.5 315 490 318.3 487 319.3 484 317.7 481.7 314 480.2 309 479.7 303 480.1 297 481.3 292 484 285.9 487 280.7Z" fill="#f00000" fill-rule="evenodd"/><path d="M487 283.4 488 283.1 489 284 491.7 290 493.4 296 494.1 303 493.4 309 492 313.4 490 316.2 487 317.4 484.4 316 482.5 313 481 308.1 480.5 303 480.9 298 482 293 484 288.2 487 283.4Z" fill="#f00000" fill-rule="evenodd"/><path d="M488 285.9 490 288.4 491.7 293 492.9 298 493.2 303 492.6 308 491.3 312 489 314.9 487 315.4 485 314.4 483 311.4 481.8 307 481.4 302 481.9 297 483.4 292 486 287.1 487 286.1 488 285.9Z" fill="#f00000" fill-rule="evenodd"/><path d="M487 288.7 488 288.6 489 289.5 490.3 292 491.8 297 492.3 302 492 306 490.9 310 489 312.7 487 313.4 485 312.1 483.7 310 482.6 306 482.4 302 483.8 294 485 291.3 487 288.7Z" fill="#f00000" fill-rule="evenodd"/><path d="M487 291.5 488.5 292 490 294.5 491.3 302 491 305.4 490 308.7 489 310.2 487 311 485.5 310 484.3 308 483.4 302 484.3 296 486 292.5 487 291.5Z" fill="#f00000" fill-rule="evenodd"/><path d="M358 319.8 356.3 321 355 323 354.4 328 355 330.8 356.2 333 358 334.5 360 334.9 362 333.9 363.3 332 364.1 329 364 326 362 321.3 360 319.9 358 319.8M359 316 356 316.9 353.9 319 352.2 323 351.7 327 352.3 331 354.1 335 357 338 360 338.8 363 337.6 365 335.2 366.2 332 366.6 328 365.8 323 364 319.3 362 317.1 359 316.0M358 313 354 314.9 351 319 349.6 324 349.6 329 351 334.2 354 339 357 341.3 361 342.1 364 340.8 367 337.1 368.6 332 368.7 327 367.3 321 365 316.7 362 313.8 358 313.0M355 311 351 314.3 348.3 319 347.1 325 347.6 331 349.7 337 353.4 342 358 345 362 345.2 366.1 343 369.4 338 370.8 331 370.2 324 367.7 317 364 312.2 360 310.1 358 310.1 355 311.0M355 307.8 352 309.5 349.1 312 346.2 317 344.8 324 345.4 332 347.9 339 352.7 345 358 348.3 363 348.5 366 347.3 368 345.6 371.6 340 373.1 333 372.5 325 369.5 316 365.2 310 363 308.3 360 307.2 355 307.8M555 338.8 550.3 341 548.1 344 548.5 347 551.7 350 557 351.6 563 351.5 567.6 350 570.7 347 571.2 345 570.6 343 568.9 341 567 339.8 561 338.2 555 338.8M358 304 354 304.8 350 306.8 347 309 345.5 311 344 314.7 343.1 319 342.8 330 344.9 339 349 345.5 352.8 349 356 351.1 360 352.5 363 352.6 366 351.8 368.8 350 372.9 345 375.3 338 375.5 329 373.5 320 369 310.9 364 305.7 361 304.3 358 304.0M556 335 552 335.8 548 337.3 545 339.3 542.7 342 542 344 542.1 347 543.2 349 546 351.7 549 353.3 553 354.6 562 355.2 570 353.3 573.7 351 575.6 349 576.7 347 576.8 344 575.3 341 573 338.9 569 336.6 565 335.3 561 334.8 556 335.0M354 300.9 346 303.4 344 305.8 343 308.1 341.5 314 340.7 322 340.7 330 341.7 337 344.4 345 347 348.6 350 351.5 354 354.5 358 356.6 362 357.5 366 357.2 370 355.5 372.9 353 375.2 350 377.2 346 378.4 342 379 337 378.1 327 376.5 321 373.6 314 370.6 309 367 304.4 364 301.9 361 300.6 358 300.3 354 300.9M555 331.9 549 333.2 544 335.1 539.7 338 537.3 341 536.2 344 536.5 348 538.3 351 542 354.2 547 356.6 552 357.9 558 358.6 564 358.3 570 357 574.9 355 579.3 352 581.9 349 583 346 582.8 343 580.8 340 577 337 571.1 334 566 332.4 561 331.7 555 331.9M345 293.8 343 296.2 341.2 302 339.7 310 338.8 319 339.1 336 340.1 342 341.8 348 344 352.4 346 354.8 356 361.5 363 363.7 367 363.6 371 362.7 375 360.7 378.6 357 381.3 352 383.1 346 383.8 341 383.6 335 382.4 329 379.8 321 376.8 314 373.4 308 369 302 365 297.9 361 295.9 351 295.7 345 293.8M552 328.9 545 330.6 539 333 533.6 337 530.7 341 529.7 346 530.8 350 533.7 354 538 357.2 544 359.8 551 361.6 559 362.2 566 361.7 573 360 580 357 585 353.8 588.4 350 589.9 346 589.7 342 588 338.5 585 336 572 330.8 566 329 559 328.3 552 328.9M344 269 343 270 342 272.7 341 277.5 336.8 315 337 340 337.9 348 339.8 356 343 362.6 347 365.4 357 369 362 370.2 369 370.3 375 369.2 379 367.6 383.1 365 386 362 388.3 358 390 352 391 345 390.8 339 389.7 334 381.6 315 374.6 303 364 289.1 361 287.6 355 287.2 352 285.3 350 281.7 346 270.6 345 269.3 344 269.0M552 324.9 542 326.6 536 328.7 529 333 524.1 338 521.8 343 521.5 346 521.9 349 524.3 354 529.4 359 536 362.6 545 365.4 554 366.7 563 366.6 572 365.2 583 361.6 589 358.6 593.7 354 596.4 348 596.5 342 593.9 335 590 330.4 587 329.3 578 328.7 563 324.4 557 324.2 552 324.9M194.1 264 193.3 269 193.1 276 195 298.7 197 310 198 311.9 199 312.4 201 310.8 202.7 307 204.2 301 205 294 205.1 278 204.1 270 202.7 264.0M336.7 264 333.9 307 334.3 330 333 353 333.9 361 335.2 365 337.3 369 340 372.3 343 374.4 360 377.1 366 377.6 372 377.1 379 375.6 385 373.2 390.6 370 397.7 364 400.8 360 406 351.1 408 349.1 410 348.1 416 347.4 439 348.6 449 347.7 454 346.1 457.3 344 459.4 341 459.9 338 458.7 334 455 329.7 450 326.8 443 324.9 434 324.6 424 325.9 418 327.5 409 331.6 406 332.4 403 332.1 399 329.9 395 325.9 391 320.3 380.3 301 373 289.3 370.5 283 367 269.1 364.7 264.0M509.5 264 508.4 274 508.9 287 511 299.2 512 301.6 513 302.6 514 302 515.2 299 516.8 287 516.8 274 515.3 264.0M599 326.5 596.2 321 594.5 315 593 290.9 592 284.8 591 282.7 590 283.3 589 287.2 586.8 313 585.2 318 582.9 321 580 322.6 576 322.7 564 317.6 559 316.7 556 317.3 551 320.4 548 321.5 545 321.4 539 319.2 536 319.8 518 327.9 515 330.1 513 333 510.9 338 509.6 343 509.2 348 509.9 353 511.5 357 514 360.5 517.7 364 522.3 367 528 369.7 534 371.8 542 373.6 557 375.1 565 374.8 572 373.9 589 369.9 594 367.4 599 363.7M183 398 194 400.5 205 401.5 217 401 228 398.9 238 395 245 390.4 249.5 385 250.8 382 251.3 379 250.1 374 247 370.1 242.2 367 236 364.8 230 363.6 215 362.4 198 360 191 360.2 183 361.8M540 267.9 538.9 269 537.6 272 536.8 279 538 286.3 539 288.6 541 290.1 543 289 544.5 286 545.4 282 545.6 278 545 273.5 543.8 270 542 267.9 540 267.9M495.1 264 500 272.7 502.9 283 505.5 303 505.9 318 503.9 327 499 336.4 495 341.6 492 344.5 489 346.4 487 346.8 485 346.4 482 344.1 476 335.3 466.3 318 464.5 313 463.7 308 463.7 303 464.5 297 468.3 284 473.5 273 480.3 264.0M183 275.4 185 274.8 186 275.1 188 277.5 189 279.8 191.3 290 192.2 303 191.5 313 189.5 320 188 322.4 186 323.6 183 322.8M575 265.6 576 265.3 577 266 578.9 271 580 278.3 580.4 286 580.3 296 579.5 304 578 308.5 576 310.1 574 309.1 572 305.4 570.8 300 570.3 293 570.5 284 571.5 275 573 268.9 575 265.6M394 268.9 396 268.3 398 268.8 401 271.6 404 277.9 405.9 286 406.4 295 405.5 303 403.3 308 402 309.4 400 310.4 398 310.2 396 309 393 305.4 390 299 388 291 387.7 284 388.9 277 391 272 394 268.9M309 269.9 312 270.4 314 272 317 278.1 318.3 286 317.9 298 318.2 301 319.8 303 324 305.5 327 308.3 329.1 312 331 318.1 331.9 328 330.8 337 328 343.4 326 345.3 324 346.2 321 345.9 319 344.6 316.8 342 314.4 337 312.5 328 312.1 312 311 308.4 306 304.5 301 299.3 299 299.1 295.8 302 294 302.7 292.3 301 291.3 298 291 290 292 285.5 293 283.4 295 281.8 299 281.2 305 272.9 307 270.9 309 269.9M528 282.8 530 284.7 531 287.2 532.3 296 532.1 300 531.1 304 530 306.3 528 307.9 526 307.1 525 305.6 523.9 302 523.5 297 523.9 291 525 286.1 526 284.1 528 282.8M547 297.5 549 297.6 551 299.4 552.5 303 553.1 307 552.7 311 551.2 315 549 317.2 547 317.6 545 316.7 543.6 315 542.4 312 541.9 308 542.4 304 543.5 301 545 298.8 547 297.5M257 317.8 259 317.3 261 317.7 266.3 321 270 325.8 272.9 333 274.1 340 273.4 345 271 349.3 267 352.4 263 353.6 259 353.7 244 350 237 349 232 349.1 222 350.5 217 350.3 211.1 348 207.4 344 206.1 339 207.2 333 210.5 327 215 323.1 219 321.7 222 322.3 229 330.2 232 332.7 235 334.1 239 334.5 243 333.5 247 330.8 250.3 327 255 319.6 257 317.8M307 364.9 314 364.8 318.7 367 320.6 370 320.2 377 321.9 380 325 382.4 333.6 387 340 392.7 342 393.8 344 393.7 348.8 391 352 389.9 367 389.3 377 387.2 386 383.6 405 372.7 414 368.5 425 365.5 439 364.3 476 365.1 482 366.3 487.3 370 493.1 377 496.8 384 497.8 390 497 393 494.8 396 491 398.9 487 401 473 405.5 453 409.3 431 411.6 407 412.4 386 411.6 363 409.1 352 407.1 342 401.8 334 402.9 328 401.6 305 391.4 297 386.6 293.5 383 291.3 379 290.8 375 291.5 372 293 369.9 296 367.8 307 364.9M489.4 264 498.9 288 500.6 297 501.1 307 500.2 316 497.4 324 493 329.8 491 331.2 488 332.1 485 331.6 483 330.5 480 327.6 477.6 324 474.4 316 473.1 306 473.6 297 475.6 288 477.4 283 482 274.6 486.6 264.0M183 287.5 185 285.9 187 287.2 189 293 189.5 300 189 306.2 187.3 311 186 312.2 185 312.3 183 310.5M546 304 547 303.2 548 303.2 549 304 550 306.2 550 310.5 549 312.8 548 313.5 547 313.5 546 312.8 544.9 310 544.9 307 546 304.0M323 316.9 325 317.1 327 319.1 328.3 322 329 326 328.9 330 327.9 334 326 336.9 324 337.9 322 337.3 320.1 335 318.9 332 318.3 328 318.5 324 319.3 321 321 318.1 323 316.9M487 272 488 271.4 489.4 273 495.4 289 497.1 296 497.7 304 496.9 312 494.7 319 491 323.8 489 324.9 487 325.1 485 324.5 483 323.1 480 318.9 477.7 312 476.9 304 477.3 297 478.9 290 487 272.0M487 280.7 488 280.3 489 281.1 492.4 289 494.3 296 494.9 303 494.2 310 492.5 315 490 318.3 487 319.3 484 317.7 481.7 314 480.2 309 479.7 303 480.1 297 481.3 292 484 285.9 487 280.7M487 288.7 488 288.6 489 289.5 490.3 292 491.8 297 492.3 302 492 306 490.9 310 489 312.7 487 313.4 485 312.1 483.7 310 482.6 306 482.4 302 483.8 294 485 291.3 487 288.7" fill="none" stroke="#000" stroke-width="1.05" stroke-linejoin="round"/><clipPath id="coi264"><path d="M183.0 432 L183.0 259.0 L185.0 260.4 L187.0 281.0 L189.0 294.6 L191.0 304.8 L193.0 312.9 L195.0 319.6 L197.0 325.4 L199.0 330.5 L201.0 335.0 L203.0 339.0 L205.0 342.7 L207.0 346.1 L209.0 349.2 L211.0 352.1 L213.0 354.8 L215.0 357.3 L217.0 359.7 L219.0 361.9 L221.0 364.0 L223.0 366.0 L225.0 368.0 L227.0 369.8 L229.0 371.6 L231.0 373.2 L233.0 374.9 L235.0 376.4 L237.0 377.9 L239.0 379.4 L241.0 380.7 L243.0 382.1 L245.0 383.4 L247.0 384.7 L249.0 385.9 L251.0 387.1 L253.0 388.2 L255.0 389.3 L257.0 390.4 L259.0 391.5 L261.0 392.5 L263.0 393.5 L265.0 394.5 L267.0 395.5 L269.0 396.4 L271.0 397.4 L273.0 398.3 L275.0 399.1 L277.0 400.0 L279.0 400.8 L281.0 401.7 L283.0 402.5 L285.0 403.3 L287.0 404.0 L289.0 404.8 L291.0 405.5 L293.0 406.3 L295.0 407.0 L297.0 407.7 L299.0 408.4 L301.0 409.1 L303.0 409.8 L305.0 410.4 L307.0 411.1 L309.0 411.7 L311.0 412.3 L313.0 413.0 L315.0 413.6 L317.0 414.2 L319.0 414.8 L321.0 415.4 L323.0 415.9 L325.0 416.5 L327.0 417.1 L329.0 417.6 L331.0 418.2 L333.0 418.7 L335.0 419.2 L337.0 419.8 L339.0 420.3 L341.0 420.8 L343.0 421.3 L345.0 421.8 L347.0 422.3 L349.0 422.8 L351.0 423.3 L353.0 423.7 L355.0 424.2 L357.0 424.7 L359.0 425.1 L361.0 425.6 L363.0 426.0 L365.0 426.5 L367.0 426.9 L369.0 427.3 L371.0 427.8 L373.0 428.2 L375.0 428.6 L377.0 429.0 L379.0 429.5 L381.0 429.9 L383.0 430.3 L385.0 430.7 L387.0 431.1 L389.0 431.5 L391.0 431.8 L393.0 431.5 L395.0 431.1 L397.0 430.7 L399.0 430.3 L401.0 429.9 L403.0 429.5 L405.0 429.0 L407.0 428.6 L409.0 428.2 L411.0 427.8 L413.0 427.3 L415.0 426.9 L417.0 426.5 L419.0 426.0 L421.0 425.6 L423.0 425.1 L425.0 424.7 L427.0 424.2 L429.0 423.7 L431.0 423.3 L433.0 422.8 L435.0 422.3 L437.0 421.8 L439.0 421.3 L441.0 420.8 L443.0 420.3 L445.0 419.8 L447.0 419.2 L449.0 418.7 L451.0 418.2 L453.0 417.6 L455.0 417.1 L457.0 416.5 L459.0 415.9 L461.0 415.4 L463.0 414.8 L465.0 414.2 L467.0 413.6 L469.0 413.0 L471.0 412.3 L473.0 411.7 L475.0 411.1 L477.0 410.4 L479.0 409.8 L481.0 409.1 L483.0 408.4 L485.0 407.7 L487.0 407.0 L489.0 406.3 L491.0 405.5 L493.0 404.8 L495.0 404.0 L497.0 403.3 L499.0 402.5 L501.0 401.7 L503.0 400.8 L505.0 400.0 L507.0 399.1 L509.0 398.3 L511.0 397.4 L513.0 396.4 L515.0 395.5 L517.0 394.5 L519.0 393.5 L521.0 392.5 L523.0 391.5 L525.0 390.4 L527.0 389.3 L529.0 388.2 L531.0 387.1 L533.0 385.9 L535.0 384.7 L537.0 383.4 L539.0 382.1 L541.0 380.7 L543.0 379.4 L545.0 377.9 L547.0 376.4 L549.0 374.9 L551.0 373.2 L553.0 371.6 L555.0 369.8 L557.0 368.0 L559.0 366.0 L561.0 364.0 L563.0 361.9 L565.0 359.7 L567.0 357.3 L569.0 354.8 L571.0 352.1 L573.0 349.2 L575.0 346.1 L577.0 342.7 L579.0 339.0 L581.0 335.0 L583.0 330.5 L585.0 325.4 L587.0 319.6 L589.0 312.9 L591.0 304.8 L593.0 294.6 L595.0 281.0 L597.0 260.4 L599.0 259.0 L599.0 432Z"/></clipPath><g clip-path="url(#coi264)"><path d="M-174.6 432L-4.6 248.4M-174.6 432L-344.6 248.4M-147.1 432L22.9 248.4M-147.1 432L-317.1 248.4M-119.7 432L50.3 248.4M-119.7 432L-289.7 248.4M-92.2 432L77.8 248.4M-92.2 432L-262.2 248.4M-64.8 432L105.2 248.4M-64.8 432L-234.8 248.4M-37.3 432L132.7 248.4M-37.3 432L-207.3 248.4M-9.9 432L160.1 248.4M-9.9 432L-179.9 248.4M17.5 432L187.5 248.4M17.5 432L-152.5 248.4M45.0 432L215.0 248.4M45.0 432L-125.0 248.4M72.4 432L242.4 248.4M72.4 432L-97.6 248.4M99.9 432L269.9 248.4M99.9 432L-70.1 248.4M127.3 432L297.4 248.4M127.3 432L-42.7 248.4M154.8 432L324.8 248.4M154.8 432L-15.2 248.4M182.2 432L352.2 248.4M182.2 432L12.2 248.4M209.7 432L379.7 248.4M209.7 432L39.7 248.4M237.1 432L407.1 248.4M237.1 432L67.1 248.4M264.6 432L434.6 248.4M264.6 432L94.6 248.4M292.0 432L462.0 248.4M292.0 432L122.0 248.4M319.5 432L489.5 248.4M319.5 432L149.5 248.4M346.9 432L517.0 248.4M346.9 432L176.9 248.4M374.4 432L544.4 248.4M374.4 432L204.4 248.4M401.9 432L571.9 248.4M401.9 432L231.9 248.4M429.3 432L599.3 248.4M429.3 432L259.3 248.4M456.8 432L626.8 248.4M456.8 432L286.8 248.4M484.2 432L654.2 248.4M484.2 432L314.2 248.4M511.6 432L681.6 248.4M511.6 432L341.6 248.4M539.1 432L709.1 248.4M539.1 432L369.1 248.4M566.5 432L736.5 248.4M566.5 432L396.5 248.4M594.0 432L764.0 248.4M594.0 432L424.0 248.4M621.5 432L791.5 248.4M621.5 432L451.5 248.4M648.9 432L818.9 248.4M648.9 432L478.9 248.4M676.3 432L846.3 248.4M676.3 432L506.3 248.4M703.8 432L873.8 248.4M703.8 432L533.8 248.4M731.2 432L901.2 248.4M731.2 432L561.2 248.4M758.7 432L928.7 248.4M758.7 432L588.7 248.4M786.1 432L956.1 248.4M786.1 432L616.1 248.4" stroke="#000" stroke-width="0.9" fill="none"/></g><polyline points="183.0,259.0 185.0,260.4 187.0,281.0 189.0,294.6 191.0,304.8 193.0,312.9 195.0,319.6 197.0,325.4 199.0,330.5 201.0,335.0 203.0,339.0 205.0,342.7 207.0,346.1 209.0,349.2 211.0,352.1 213.0,354.8 215.0,357.3 217.0,359.7 219.0,361.9 221.0,364.0 223.0,366.0 225.0,368.0 227.0,369.8 229.0,371.6 231.0,373.2 233.0,374.9 235.0,376.4 237.0,377.9 239.0,379.4 241.0,380.7 243.0,382.1 245.0,383.4 247.0,384.7 249.0,385.9 251.0,387.1 253.0,388.2 255.0,389.3 257.0,390.4 259.0,391.5 261.0,392.5 263.0,393.5 265.0,394.5 267.0,395.5 269.0,396.4 271.0,397.4 273.0,398.3 275.0,399.1 277.0,400.0 279.0,400.8 281.0,401.7 283.0,402.5 285.0,403.3 287.0,404.0 289.0,404.8 291.0,405.5 293.0,406.3 295.0,407.0 297.0,407.7 299.0,408.4 301.0,409.1 303.0,409.8 305.0,410.4 307.0,411.1 309.0,411.7 311.0,412.3 313.0,413.0 315.0,413.6 317.0,414.2 319.0,414.8 321.0,415.4 323.0,415.9 325.0,416.5 327.0,417.1 329.0,417.6 331.0,418.2 333.0,418.7 335.0,419.2 337.0,419.8 339.0,420.3 341.0,420.8 343.0,421.3 345.0,421.8 347.0,422.3 349.0,422.8 351.0,423.3 353.0,423.7 355.0,424.2 357.0,424.7 359.0,425.1 361.0,425.6 363.0,426.0 365.0,426.5 367.0,426.9 369.0,427.3 371.0,427.8 373.0,428.2 375.0,428.6 377.0,429.0 379.0,429.5 381.0,429.9 383.0,430.3 385.0,430.7 387.0,431.1 389.0,431.5 391.0,431.8 393.0,431.5 395.0,431.1 397.0,430.7 399.0,430.3 401.0,429.9 403.0,429.5 405.0,429.0 407.0,428.6 409.0,428.2 411.0,427.8 413.0,427.3 415.0,426.9 417.0,426.5 419.0,426.0 421.0,425.6 423.0,425.1 425.0,424.7 427.0,424.2 429.0,423.7 431.0,423.3 433.0,422.8 435.0,422.3 437.0,421.8 439.0,421.3 441.0,420.8 443.0,420.3 445.0,419.8 447.0,419.2 449.0,418.7 451.0,418.2 453.0,417.6 455.0,417.1 457.0,416.5 459.0,415.9 461.0,415.4 463.0,414.8 465.0,414.2 467.0,413.6 469.0,413.0 471.0,412.3 473.0,411.7 475.0,411.1 477.0,410.4 479.0,409.8 481.0,409.1 483.0,408.4 485.0,407.7 487.0,407.0 489.0,406.3 491.0,405.5 493.0,404.8 495.0,404.0 497.0,403.3 499.0,402.5 501.0,401.7 503.0,400.8 505.0,400.0 507.0,399.1 509.0,398.3 511.0,397.4 513.0,396.4 515.0,395.5 517.0,394.5 519.0,393.5 521.0,392.5 523.0,391.5 525.0,390.4 527.0,389.3 529.0,388.2 531.0,387.1 533.0,385.9 535.0,384.7 537.0,383.4 539.0,382.1 541.0,380.7 543.0,379.4 545.0,377.9 547.0,376.4 549.0,374.9 551.0,373.2 553.0,371.6 555.0,369.8 557.0,368.0 559.0,366.0 561.0,364.0 563.0,361.9 565.0,359.7 567.0,357.3 569.0,354.8 571.0,352.1 573.0,349.2 575.0,346.1 577.0,342.7 579.0,339.0 581.0,335.0 583.0,330.5 585.0,325.4 587.0,319.6 589.0,312.9 591.0,304.8 593.0,294.6 595.0,281.0 597.0,260.4 599.0,259.0" fill="none" stroke="#000" stroke-width="0.9"/><path d="M349.9 264v168M372.8 264v168" stroke="#222" stroke-width="1" stroke-dasharray="5 4" fill="none"/></g><clipPath id="pcc"><rect x="183.0" y="505" width="416.0" height="168"/></clipPath><g clip-path="url(#pcc)"><rect x="183.0" y="505" width="416.0" height="168" fill="#040004"/><path d="M184 505 599 505 599 673 183 673 183 505 184 505ZM327 614 317 614.9 308 616.9 300.7 620 295.6 624 294.2 626 293.3 629 293.8 633 297.2 637 303 640.3 312 643.2 322 644.8 333 645.4 344 644.8 353 643.3 362 640.5 368.2 637 371.6 633 372.2 630 370.5 625 367.2 622 363.4 620 356 617.5 347 615.6 337 614.3 327 614ZM501.9 653 484.6 655 480.6 656 477.1 658 477.1 659 478 659.8 480.7 661 495 663.4 515 664.4 535 663.6 544 662.5 550.8 661 553.4 660 554.9 659 555.3 658 554.6 657 552.8 656 549.5 655 538 653.3 521 652.5 501.9 653Z" fill="#120013" fill-rule="evenodd"/><path d="M184 505 599 505 599 673 183 673 183 505 184 505ZM315.9 614 307 616 299.6 619 293.9 623 291.4 627 290.7 630 290.8 632 292.9 636 298.2 640 306 643.2 315 645.4 327 646.6 339 646.6 350 645.5 359 643.5 366 640.8 371.8 637 374.7 633 374.9 629 373.9 626 372.5 624 368.6 621 361.6 618 350 615.2 337 613.4 326 613.1 315.9 614ZM517 650 493 650.9 474.2 653 462.5 656 460.7 657 459.6 659 461 660.5 463.9 662 471 663.9 482 665.6 495 666.8 511 667.4 527 667.3 542 666.4 555 665 565 663 572.1 660 573 658.9 572.7 657 569.7 655 562 652.8 549 651.1 534 650.2 517 650Z" fill="#1c0022" fill-rule="evenodd"/><path d="M184 505 599 505 599 673 183 673 183 505 184 505ZM411.7 511 410 514 409.2 518 408.3 532 408.7 540 409.7 547 410.5 550 412 550.9 413.6 550 414.4 547 415.2 540 415.5 531 415.1 522 414.1 515 413 511.7 412 510.7 411.7 511ZM315.3 613 306 615.1 298 618.2 292.3 622 290.5 624 288.9 627 288 632 289 634.9 290.5 637 296 641.2 304 644.6 314 646.8 328 648.2 340 648.1 353 646.8 362 644.9 370 641.5 375.7 637 378 633 377.9 629 376.9 626 375.6 624 371 620.4 364 617.5 352 614.6 337 612.5 326 612.1 315.3 613ZM507.2 648 486 649.1 467 651 455.6 653 446.5 656 445 657 443.8 659 445 660.9 446.6 662 455.1 665 470 667.7 487 669.4 507 670.4 527 670.4 547 669.5 564 667.7 577 665.2 585.9 662 588 660.4 588.9 659 588.5 657 587.6 656 584.3 654 577 651.7 567 649.8 541 647.9 507.2 648Z" fill="#24002b" fill-rule="evenodd"/><path d="M184 505 408.2 505 405.7 523 405.8 538 407.1 550 410 555.1 412 556.5 414 555.4 416 552.1 416.9 550 417.3 545 417.6 523 415.6 505 599 505 599 653.3 589.7 650 577 647.5 563 646 545 645.4 519 645.5 490 646.6 467 648.3 448 650.8 437.8 653 429.9 656 428.5 657 427.2 659 427.8 661 430.3 663 437.7 666 450 668.9 466 671.3 483.5 673 183 673 183 505 184 505ZM501.8 546 500.7 550 503.6 556 506 565.8 507 566.7 508 566.6 508.7 566 509.1 563 508.5 550 503 545.5 501.8 546ZM314.1 612 304 614.3 296 617.5 290 621.6 286.6 626 285.1 632 285.8 635 286.9 637 292 641.8 299 645.3 311 648.3 325 649.9 340 650.1 354 648.9 363 647.1 371 644.6 378 639.5 380 637 381.4 634 381.5 630 380.1 626 378.8 624 373.8 620 367 617.1 354 614 337 611.6 325 611.1 314.1 612ZM599 664.6 599 673 554.2 673 569 671.5 581 669.7 591 667.4 599 664.6Z" fill="#2d0037" fill-rule="evenodd"/><path d="M184 505 204.4 505 203.3 526 204.3 550 206 552.5 208 554.3 210 554.5 212 553.3 215.5 550 217 539.2 218 539.2 219.5 550 224 554.2 226 554.9 228 554.4 233 551.5 235 552 239 554.4 241 554.3 246.2 550 247.7 538 248 530 244.9 505 251.8 505 248.1 533 249 536.2 250.5 550 255 554.3 257 555 259 554.3 261 552.5 263.3 550 263.5 548 264.3 528 263.5 516 262.1 505 269.9 505 268.5 516 267.7 528 268.5 548 268.7 550 271 552.5 273 554.4 275 555.1 277 554.4 281.6 550 283 536.3 283.9 533 280.2 505 287.1 505 284.2 526 284.3 539 285.7 550 290 553.9 292 554.6 294 554 299 550.9 305 552.9 307 552.4 309.8 550 313 540.7 314 540.1 318 542.5 320 541.3 321 539.8 323 533.7 323.9 526 324 515 323.3 505 376.6 505 376.3 514 377 523 379 529.8 381 531.8 382 531.7 383.6 530 385.4 524 385.6 515 384.4 505 393.5 505 392.3 515 392.1 524 392.9 532 395 541.2 398 547.9 400 549.7 404 551.5 409 559.4 411 561.5 412 561.9 414 561.1 415 560 420.4 550 420.9 527 419.7 505 435 505 433.3 526 434 550 437.5 554 440 555.2 442.5 554 446 550 446.7 526 445 505 457 505 455.3 526 456 550 459.5 554 462 555.2 465 553.5 467.7 550 468.3 524 466.9 505 497 505 497.3 550 501.2 566 505 573.4 506.6 575 508 575.4 510 574 511.6 571 516 557.4 517.8 556 522 554.6 525.7 550 527.8 526 527.7 515 526.6 505 562.5 505 561.8 518 562.9 532 566 547.2 566.9 550 569 551 571.5 550 573.1 537 573.2 521 571.7 505 583.3 505 581.6 524 581.6 550 585 554.1 588 555.7 591 554.1 594.4 550 594.4 524 592.7 505 599 505 599 647 589.8 645 574 643.5 559 643 533 643.1 476.8 645 453 646.9 434 649.4 422 651.7 413.8 654 408.1 657 407.2 658 406.6 660 408.5 663 415 666.7 424 669.7 437.8 673 183 673 183 505 184 505ZM321.6 610 310 611.4 300 614.2 291.8 618 285.7 623 283.8 626 282.3 630 282.2 635 285 640.2 291 645.1 301 648.7 316 651.6 332 652.8 349 652.5 364 650.5 375 647.4 380 645 384.5 638 385.5 635 385.6 632 383.6 626 380.5 622 374 618.1 364 615 349 612.2 333 610.3 321.6 610ZM215 505 220.7 505 218 524.4 217 524.5 214.2 505 215 505ZM299 505 299 505ZM312 505 314.8 505 314 506.8 313 507.4 312 506 311.6 505 312 505ZM505 505 517.3 505 514.6 533 513.4 537 512 538 509.6 536 507.7 531 504.4 505 505 505Z" fill="#4d005e" fill-rule="evenodd"/><path d="M184 505 194.4 505 197.5 522 199.9 550 204.5 558 208 561.2 211 561.2 216 558 218 557.7 225 561.7 227 561.7 233 559.3 240 561.6 242 561.1 248 557.7 250 558.1 255 561.6 257 562.1 259 561.6 264 558 266 557.4 268 558 273 561.8 275 562.4 277 561.9 282 558.4 284 558 293 563.5 294 563.4 299 559.6 304 560.7 306 560.2 313 553.8 319 551.2 321 549.1 324 542.5 326.1 535 328.8 505 370.6 505 375 527.7 378 535.4 380 537.8 382 538.9 387 538.6 389 539.6 391 542.6 394.1 550 396 552.5 399 555.2 404 558 409 565 410 566.1 412 566.9 415 565.9 422 556.9 426 555.4 429 555.7 431 556.4 437 561.4 439 562.4 442 562.1 448 557.1 451 556.1 454 557.1 459 561.4 461 562.5 463 562.5 465 561.4 470 555.7 472.6 550 472.6 537 473.4 524 474.8 514 477.1 505 491.9 505 494.5 521 495.4 536 495.4 550 497.5 563 498.6 567 503 576.4 505.8 580 508 580.9 509.9 580 511 578.9 517 567.7 523 561.6 526 557.1 529.9 550 533 536.7 537 528.9 540 525.7 544 523.2 548 522.4 551 522.9 554 524.6 557 528.7 560 537.2 563 550 566 555.5 568 557.7 571 558.6 575 557.3 578 557.4 580 558.5 585 563.3 588 564.5 590 563.9 596 558.5 599 557 599 642.2 580 640.1 560 639.8 480 642.7 437.7 645 411 647.2 401 647.2 397 646.1 392.6 643 391.3 640 390.2 632 387.1 625 383.5 621 378.5 618 368 614.6 349 611.3 330 608.9 318 608.9 307 610.5 297 613.6 289 617.6 283.6 622 280.8 626 278.8 631 278.3 634 279.1 639 282.5 645 287 647.6 294 650.6 303 653.3 312 655.2 327 657.3 355 659.2 364 660.5 369 662.5 386.5 673 183 673 183 505 184 505ZM294.9 566 294.6 570 296.1 573 298 574.1 300 574.4 302 574 303.4 573 304.4 570 303 566.2 300 565.6 294.9 566Z" fill="#58007b" fill-rule="evenodd"/><path d="M332 505 348.6 505 351 514.6 352 516.3 353 516.2 354 514.8 357.4 508 359.8 505 365 505.3 367 507.8 368.9 512 374 531.6 376 536.4 378 539.6 381 542.5 388 546 398 559.7 403 563.5 409 569.2 411 570.4 413 570.7 415.3 570 421 566.3 425 565 430 565.4 437 568.2 440 568.8 451 565.6 454 566.2 460 568.7 463 568.9 469.4 566 471.2 564 472.9 561 474.6 554 475.2 550 475.4 531 477.9 516 480 510.2 482 507.1 484 505.6 486 505.6 488 507.2 490 510.9 492.6 521 493.9 535 493.9 550 495.6 566 498.7 574 504.2 584 506 586.4 508 587.3 510 586.3 511 585.1 518 573.2 525.5 566 531.1 555 534.3 550 537.1 543 540 538.6 543 535.9 546 534.5 549 534.3 552 535.3 555 537.9 557 541 560.2 550 565 560.4 567 564.1 569 566.4 571 567.2 578 568 585 571 588 571.6 599 567.8 599 637 585 635.3 571 635 543 637.1 468 640.8 429 642.1 412 641.7 405 640.4 401 638.4 398 635.2 393.1 628 391.8 625 389.3 622 385 618.8 379 615.9 368 613.2 336 608.4 325 607.3 316 607.5 304 609.5 293 613.3 284.8 618 281.3 621 278.7 624 274.4 633 272.5 645 280.3 655 282 658 282.3 660 281.5 662 277.4 665 272 667 264 668.9 244 671.5 211.3 673 183 673 183 510 185 510 187 511.6 189.9 517 193.6 531 196 550 201 560.3 204 564.6 206 566.4 210 567.3 218 565.3 225 567.5 233 566.4 240 567.5 248 565.6 257 568.1 266 565.8 275 568.5 282 566.7 284 566.6 287 568 293.4 575 296 576.4 300 577 303 576.5 306 574.5 307.5 572 309.8 565 311.5 562 314 559.3 320 554.6 324 549.2 328 537 330.5 513 332 505Z" fill="#5a00a0" fill-rule="evenodd"/><path d="M334 505.1 346.8 505 350 520.3 351 523.4 352 524.4 353 523.8 354 522.1 357 514.9 359 511.6 361 510 362 509.7 364 510.4 366 512.6 367.7 516 373 533.8 377.4 542 381 545.7 389.3 552 399 565.8 409 572.5 413 573.9 416 573.5 422 571.4 426 571.2 431 571.6 439 573.9 442 573.8 451 571.9 454 572.3 460 574.2 463 574.3 469 572.5 473 570.2 475.2 567 476 563 476.9 550 476.7 536 478.4 523 480 517.4 482 513.4 484 511.6 486 511.6 488 513.5 489.7 517 491.9 527 492.9 538 492.7 550 493.3 565 494 569.2 496 574.8 500 582 503 589.1 505.3 592 508 593.2 510 592.7 512 590.8 517 580.7 527 570.1 529.6 566 534.3 556 541.5 545 544 542.7 546 541.7 549 541.5 551 542.1 553.4 544 555.7 547 560.5 556 565 567.5 567 570.8 570 573.9 572 574.8 587 578.9 590 578.7 599 575.9 599 629.9 585.7 628 583 625.2 580 624.1 577 625 572.7 628 548 632.2 519 634.9 465 638.1 440 638.5 423 637.9 414 636.6 407 634 399.2 628 396.8 624 392.5 620 387 616.7 380 614 372 612.3 329 606.2 321 605.5 315 605.6 307 606.7 297 609.5 290 612.4 283 616.5 279 619.7 276 623 265 640.5 262 643 252 649.1 244 651.7 234 653.5 202 655.9 197 657.6 188 662.2 183 662.8 183 523.9 185 523.9 186 524.6 188.9 530 191.1 538 193 550 198 562.4 201 567.2 206 570.9 210 571.7 218 570.4 225 571.8 233 571.1 240 572 248 570.9 257 572.8 266 571.4 275 573.5 283 572.4 286 573.5 291.1 577 294 578.4 298 579.2 302 579.1 305 578.3 308.1 576 313 567.5 320 558.8 325.8 550 328.1 544 329.6 538 331.9 516 334 505.1Z" fill="#5a00c8" fill-rule="evenodd"/><path d="M336 505.1 345 505 347 512 349.6 526 351 529.5 352 529.8 353 529 358 517.9 360 515.2 362 514.2 364 515 367 519.7 371.9 535 375 541.2 380 547.4 389 555 395.7 566 399 569.2 408.8 575 412 576.3 426 576.1 440 578.8 451 577.8 461 579.7 464 579.7 472 577.7 474 576.8 475.8 575 477.5 571 478.3 566 477.9 540 479 528 480.2 523 482 518.5 484 516.4 486 516.4 488 518.7 489 521 491.3 532 491.8 542 491.3 566 492.2 573 493.5 577 496.3 582 499.4 590 504 597.1 506 598.6 509 599.2 511 598.5 513.7 596 521.9 582 526 578.1 529 573.7 538.2 555 544 548.9 546 547.7 548 547.3 550 547.7 552 549 557 554.5 559.3 559 566 576.4 569.7 582 571.4 600 567 604.1 559 614.4 554 619.8 549 623.5 544 625.6 535.2 628 501 632.2 479 634.1 458 635 432 634.2 423 633.1 416 631.5 407.6 628 401.6 622 394 617 387.5 614 380.9 612 351 608.6 322 603.5 316 603.2 309 603.7 303 604.9 295 607.4 288 610.5 282 614.1 273.8 621 269 628 262 635.4 258 638.3 253 640.6 245 642.9 235 644.4 221 645.6 202 646.4 197 647.7 188 652.1 183 652.7 183 535.7 185 535.7 187 538.3 188.9 544 190.2 550 196.3 566 200.9 572 206 575.1 210 575.7 218 574.8 225 575.8 233 575.4 240 576.2 248 575.6 258 577.2 266 576.6 275 578.4 284 578.1 291 580.7 295 581.5 304 581.5 308 579.8 311.7 576 318.5 566 327.7 550 330.9 539 333.3 516 336 505.1ZM599 599.8 599 599.8Z" fill="#5700e1" fill-rule="evenodd"/><path d="M338 505.7 338.6 505 342.7 505 344 507 346.2 514 349 530 350 532.4 351 533.4 352 533.5 354 531.5 358 522.3 360 519.2 362 518.2 364 519.1 366 522.1 371 536.2 374.6 543 380 549.8 387.2 556 394 567 399 571.8 412 578.2 428 580.2 441 583.5 451 584 463 587.5 471 586.9 474.3 586 476 584.7 479.9 578 480.8 571 479.1 545 479.5 534 480.4 528 482 523.2 484 520.6 486 520.6 487.8 523 489 526.2 490.6 537 490.3 556 489 569 489.2 576 491.2 582 492.8 589 495.6 594 500 600 503.4 613 503.9 619 502.8 622 501 624.3 494.8 628 472 630.8 451 631.5 432 630.1 420.7 628 398.5 616 391.8 613 385 610.7 378 609.5 360 608.6 349 607.3 337.4 605 319 600.3 309 599 306 599.5 295 603.3 283 609.7 272.3 618 267.7 623 264.2 628 262 629.9 256 634 250 636.8 241 639.2 231 640.6 200 641.9 187 645.5 183 645.6 183 547.6 184 547.2 185 547.6 188 552 190.4 557 193.6 566 197 572.1 200.5 576 205 578.6 209 579.4 218 578.7 226 579.5 233 579.3 240 580 248 579.8 257 581.4 266 581.4 269.4 582 275 584.1 284 584.8 293 588.4 305 589.8 308 587.9 311.4 582 315 577.4 329.3 550 332 540 334.7 515 336 510 338 505.7ZM547 551.9 550 552.2 552 553.2 554.9 556 556.8 559 562.5 575 564.6 582 564.5 585 562.4 600 561 602.1 557 607 553 610.6 549 612.7 544 613.4 540 612.6 536 610.8 523 602.9 520.4 600 524 597.2 526 594.1 528.6 582 538.9 559 543 553.8 547 551.9Z" fill="#5200f1" fill-rule="evenodd"/><path d="M340 507.5 342 507.9 344.4 512 345.9 518 348 531.2 350 535.8 351 536.4 353 535.6 355 532.9 360 523 361 522.2 363 522.1 365.8 526 370 537 374 544.2 378.4 550 386.5 558 393 568.3 398 573.2 412 579.8 424 582.1 440 587.9 451 590.6 463 594.9 485.3 600 484.4 603 484.1 613 483.2 616 481.5 619 478.3 622 475 624 466 626.9 454 628.1 440 627.4 431 625.7 422 623.2 395.2 612 386 608.9 379 607.7 360 607.4 347.8 606 333 602.3 326.9 600 323.8 598 320.6 595 318.8 592 317.5 588 317.1 582 324.5 562 330.6 550 331.6 547 333.3 539 334.7 523 335.8 516 337.8 510 340 507.5ZM484 524.7 485 524.4 486 524.8 488 528.3 489.1 533 489.7 540 488.4 559 487 564.3 485 566.6 483 564.4 481.7 560 480.2 543 481 532 482.1 528 484 524.7ZM184 554.5 186 555.4 188 558.1 193 569.6 196.6 576 199.2 579 203 581.4 209 583 218 582.3 247 584.5 257 587 265 588.1 282 594.9 284.9 597 286.7 600 269 616.3 258.5 628 250 632.5 242 635 233 636.7 221 637.8 201 638.2 196 639.1 188 641.5 183 641.7 183 554.7 184 554.5ZM546 555.9 549 555.6 551 556.4 553 558.1 555 560.9 559 571 561.6 582 560.3 591 557.4 600 552 604.9 549 606.3 546 606.7 543 606.1 540 604.7 534.9 600 533.3 591 532.8 582 536.3 571 540 562.3 543 557.9 546 555.9Z" fill="#520dfc" fill-rule="evenodd"/><path d="M340 511 341 510.8 342 511.4 344 515.1 347.3 533 348.3 536 350 538.3 351 538.7 353 537.9 355 535.6 360 526.5 362 525.4 363 525.7 365 528.1 369.7 539 373 544.7 376.9 550 385.3 559 391 568.1 395 572.7 399 575.4 409.1 580 427 585.6 451 595.2 461.1 600 466.1 605 468.8 610 469 614 467 618 462 621.3 454 623.4 445 623.9 434 622.8 426 621.2 417 618.5 392.3 609 385.9 607 379 605.9 361 606.3 349 605.1 336 601.7 331.8 600 327.5 597 324.7 594 323 591 321.5 587 320.6 582 323.8 568 326.5 561 331.9 550 333 546.2 334.3 539 336.4 519 338 513.5 340 511ZM485 528.7 486.5 530 487.6 533 488.6 542 487.1 556 486 558.7 485 559.4 484 558.8 482.9 556 481.3 542 482.3 533 483.5 530 485 528.7ZM546 559.9 548 559.5 550 560 553.1 563 557 571.8 559 582 557.3 590 554 597.3 551.9 600 547 601.6 544 601.1 542 600.1 540 597.4 537.2 590 536 582 537.9 574 540 568.2 543 562.6 546 559.9ZM184 560.5 185.4 561 187 562.8 196 579.4 200 583.9 202 585.4 207 587 218 586.7 233 587.7 251 590.6 264 594.6 270.4 598 272.8 600 272.5 603 271.3 606 266.3 613 256 624 251.5 628 247 629.9 239 632.3 230 633.9 219 634.9 200 635.1 188 638.1 183 638.2 183 560.7 184 560.5Z" fill="#5529ff" fill-rule="evenodd"/><path d="M340 514.6 341 514.4 342 515.1 343.1 517 344.5 522 346.7 535 349 539.7 351 540.6 353 539.9 355.6 537 360 529.9 362 528.8 363 529.1 365 531.6 369.5 541 372.6 546 383.5 559 390 569 393.5 573 400 577.2 411 581.9 429 588.5 452.7 600 457.5 605 459.7 609 460.1 613 458.5 616 454 618.9 448 620.4 440 620.7 431 619.8 417 616.5 385 605.2 378 604.3 362 605.2 351 604.4 339 601.4 335 599.6 331 596.9 327.3 593 324.6 588 323 582 323.2 578 324.4 571 326.6 564 333 550 333.9 547 335.2 540 337 521.9 338 517.9 340 514.6ZM484 534.9 485 534 486 534.9 487.1 540 486.8 546 486 549.1 485 550 484 549 482.9 544 483 538.7 484 534.9ZM546 564.8 549 564.4 551 565.9 553 568.5 555.2 574 556.4 582 555 587.4 553 591.6 551 594 548 595.6 545 595 542.1 592 540 587.3 538.9 582 539.9 576 541.5 571 543.1 568 546 564.8ZM184 566.6 186 567.4 188 569.7 197.4 586 199.4 588 202 589.5 207 590.6 219 590.4 235 591.9 249 594.9 260.8 600 261.9 602 262.4 605 262 608 260.1 612 256.5 617 251 622.6 245 626.9 241 628.7 233 630.7 225 631.9 216 632.5 200 632.4 187 635.2 183 635.1 183 566.8 184 566.6Z" fill="#5951fa" fill-rule="evenodd"/><path d="M340 518.7 341 518.4 342 519.2 343 521.5 345.8 536 347 539.2 349 541.7 351 542.2 353 541.5 355.6 539 360 532.9 362 531.9 363 532.3 365 534.6 372.1 547 382.6 560 389.2 570 392.9 574 399.3 578 430 590.7 447.1 600 451.1 604 453.5 608 453.9 611 452.7 614 449 616.6 444 617.9 437 618.2 429 617.5 415 614.3 385 603.9 378 602.9 362 604 352 603.4 346 602.3 340 600.4 332.9 596 329.2 592 326.5 587 324.9 582 325.1 576 326.1 570 327.9 564 334.9 547 336.2 540 337.9 524 339 520.2 340 518.7ZM547 569.7 549 569.8 551.2 572 552.7 576 553.5 581 553.2 583 551.9 586 550 588.3 548 589.2 546 588.9 544 587 541.9 582 543.6 574 545 571.3 547 569.7ZM184 571.4 186 572.2 188 574.5 195.5 588 198 590.9 200 592.2 205 593.5 219 593.4 232 594.9 243 597.6 249.5 600 252.2 603 253.8 607 253.5 611 251.7 615 248.6 619 244 622.9 239 625.8 233.5 628 220 630.1 199 630.1 187 632.4 183 632.1 183 571.7 184 571.4Z" fill="#4b66f6" fill-rule="evenodd"/><path d="M340 524 341 523.4 342 524.7 345.2 538 348 542.7 350 543.7 353 543 355.4 541 360 535.5 362 534.7 363 535.1 365 537.3 372 548.4 380.5 559 387.8 570 391.4 574 395 576.8 399 578.9 428 591.2 442.9 600 446.8 604 448.5 607 448.9 610 448 612.3 445 614.5 440 615.9 434 616.2 427 615.6 413 612.3 384 602.4 377 601.7 362 602.9 353 602.5 342.5 600 335 595.6 330.7 591 328 586 326.6 582 326.5 576 327.1 571 328.7 565 335 550 336.1 546 338.9 527 340 524ZM184 576.2 186 576.9 188 579 190 582 194.4 591 196.1 593 199 594.9 204 595.9 217 595.8 225 596.6 234 598.3 241 601.1 244.6 604 247 608 247.1 612 245.4 616 241.9 620 237.6 623 232 625.6 225 627.5 215 628.6 198 628.1 187 629.8 183 629.4 183 576.4 184 576.2Z" fill="#417ef2" fill-rule="evenodd"/><path d="M341 531.7 342 533.1 345.1 541 347 543.6 349 544.9 351 545.1 353 544.4 360 537.8 362 537.2 363 537.6 365 539.6 372 549.9 378.6 558 386.5 570 390 574 397 578.9 422 589.5 430 593.7 436.9 598 440.7 601 443.8 605 444.8 608 443.9 611 441.1 613 437 614.1 432 614.4 425 613.8 411 610.6 389.7 603 383 601.1 376 600.5 362 601.8 354 601.6 345 599.6 341 597.9 337 595.3 332.7 591 329.6 586 328.1 582 327.8 575 329.8 565 336 550 340 533.3 341 531.7ZM184 580.8 186.7 582 192.9 593 195 595.4 197.5 597 202 598 215 597.8 222 598.3 230.4 600 236 602.6 240 605.9 241.8 609 242.2 612 240.7 616 238.2 619 234 622 228 624.6 222 626 212 626.8 197 625.9 187 627.1 183 626.3 183 581.1 184 580.8Z" fill="#3a96f1" fill-rule="evenodd"/><path d="M360 539.8 362 539.4 365 541.6 377.5 558 385.2 570 389.7 575 396 579.3 421 590.2 432.9 597 436.9 600 440.2 604 441.2 607 440.1 610 437 611.9 433 612.7 422 612.1 408 608.6 389.7 602 383 600.1 376 599.4 361 600.8 353 600.5 344 598 337 593.6 332.9 589 330.2 584 329.2 580 329 574 329.7 569 331.4 563 340 541.6 341 540.1 342 540.1 347 545.3 349 546.3 351 546.3 354 545 360 539.8ZM184 587.2 185 587.3 187 588.9 193 596.9 197 599.3 201 599.9 219 599.7 225 600.9 231 603.1 235.3 606 237.5 609 238.1 612 237.4 615 235.2 618 231.1 621 226 623.2 220 624.6 211 625.2 197 623.8 187 624.1 184 623.4 183 622.9 183 587.7 184 587.2Z" fill="#35adf3" fill-rule="evenodd"/><path d="M360 541.6 362 541.3 365 543.4 376.5 558 384.8 571 389 575.6 395.7 580 420 590.7 430.7 597 434.5 600 437.4 604 437.9 607 436.8 609 434 610.6 431 611.2 426 611.3 420 610.6 407 607.4 382.6 599 376 598.3 361 599.8 354 599.6 345 597.2 338 592.8 335 589.7 332.5 586 330.8 582 330.3 579 330.5 570 334.3 558 341 544.5 343 544.3 347.3 547 351 547.5 354 546.2 360 541.6ZM184 593.7 186 593.9 192 599.3 194.6 601 197 601.8 216 601.2 222 602.1 227 603.7 231.1 606 233.9 609 234.7 612 234.1 615 231.7 618 228 620.4 223 622.4 217 623.5 208 623.5 196 621.7 188 621.4 185 620.7 183 619.4 183 594.3 184 593.7Z" fill="#30c6f7" fill-rule="evenodd"/><path d="M359 543.8 362 543.1 365 545.1 374.8 557 383 570 388.2 576 395 580.5 418.6 591 427.2 596 432.3 600 433.9 602 435 605 434 607.8 432 609.1 428 609.9 419 609.4 407 606.5 382 597.9 375 597.3 361 598.8 354 598.5 346 596.4 339 592.2 335.9 589 333.3 585 332 582 331.2 578 331.6 569 334.8 559 339 550.5 341 547.5 342 546.9 344 547 348 548.6 351 548.6 354 547.3 359 543.8ZM184 599.5 185 599.1 187 599.4 192.1 603 196 604.2 213 602.7 218 603 222.3 604 227 606 229.7 608 231.5 611 231.4 614 229.5 617 226 619.4 221 621.3 216 622.2 207 622 187 618.3 184.7 617 183 615.1 183 600.5 184 599.5Z" fill="#2ae4fc" fill-rule="evenodd"/><path d="M360 544.7 363 545 366 547.6 374.6 558 382.6 571 387 576 394.3 581 417 591.2 425.3 596 430.2 600 431.6 602 432.3 605 431.1 607 429 608.1 425 608.7 415 607.7 404 604.6 386 598 380 596.6 374 596.4 360 597.9 353 597.4 345 594.8 339.3 591 336.5 588 334 584 332.8 581 332.1 577 332.5 569 336.1 558 339 552.4 342 549.2 344 548.9 348 549.8 351 549.7 360 544.7ZM205 605 214 604.2 222 605.7 224.8 607 227.3 609 228.6 611 228.5 614 226.3 617 223 619 218 620.5 213 621 204.2 620 189 615.2 186.9 614 185.5 612 185.1 609 186 606.7 188 605.9 193 606.9 196 606.9 205 605Z" fill="#15f5e4" fill-rule="evenodd"/><path d="M361 546 363 546.4 365 548 371 554.6 375.1 560 382 571.5 386.9 577 394 581.6 414.7 591 422 595 428.1 600 429.6 603 429 605.4 427 606.7 424 607.4 415 606.7 404 603.8 385.5 597 379 595.6 373 595.6 360 596.9 354 596.6 346 594.2 340 590.2 335.1 584 333.9 581 333.1 577 332.9 573 333.6 568 337 558 340 552.8 342 551 344 550.5 351 550.6 359 546.5 361 546ZM209 605.9 216 605.9 222 607.6 224.1 609 225.6 611 225.7 614 224.3 616 222 617.5 216 619.4 208 619.3 200.8 617 196.5 614 195.7 612 196.2 611 201 608 209 605.9Z" fill="#00fbbd" fill-rule="evenodd"/><path d="M359 547.7 361 547.3 363 547.8 368 552.3 374.2 560 382 572.9 386.9 578 394 582.5 408.7 589 420.1 595 426.1 600 427 602 426.7 604 425.8 605 422.9 606 415 605.7 404 603 388 596.9 382 595.2 375 594.6 361 596 355 595.8 347 593.6 341.2 590 336.2 584 334.9 581 334 577 334.2 569 337 560 339.7 555 342 552.6 344 551.8 351 551.5 359 547.7ZM207 607.9 213 607.2 219 608.4 222.5 611 222.9 612 222.6 614 220 616.4 216 617.8 211 618.1 205.7 617 202.2 615 201.3 614 200.9 612 202.5 610 207 607.9Z" fill="#00ffa2" fill-rule="evenodd"/><path d="M359 548.9 361 548.5 363 549.1 368 553.4 373.4 560 381.2 573 386 578.3 394 583.4 407 589 418.3 595 424 600 424.5 602 424 603.2 422 604.5 419 604.9 411 604 402 601.5 386 595.4 380 594 374 593.8 360 595.2 354 594.7 347 592.6 342 589.4 337 583.5 334.9 577 334.9 570 337.4 561 340 556.1 343 553.5 351 552.4 359 548.9ZM208 609.9 212 609.1 216 609.6 218.5 611 219.3 613 217.7 615 215.2 616 212 616.3 209 615.8 206.9 615 205.2 613 206.1 611 208 609.9Z" fill="#00ff7f" fill-rule="evenodd"/><path d="M359 550 361 549.7 363 550.3 368 554.4 373.2 561 381 574.1 386 579.3 393 583.8 407.2 590 416.3 595 421 599 421.7 600 421.6 602 420 603.1 417 603.6 409 602.6 400.1 600 387 594.8 380 593.1 374 593 360 594.3 354 593.9 348 592 342.9 589 340 586.2 337.7 583 335.8 577 335.7 570 337.8 562 340 557.8 343 554.8 351 553.2 359 550Z" fill="#00ff57" fill-rule="evenodd"/><path d="M359 550.9 361 550.8 363 551.3 368 555.5 373 562 380.1 574 385 579.6 392 584.3 405.3 590 412.7 594 417.9 598 419.1 600 418.7 601 417 602 415 602.2 407 601.2 402 599.8 387 593.8 381 592.4 375 592.2 361 593.5 355 593.2 348 591.1 343 587.9 338.7 583 336.6 577 336.4 570 338.7 562 341 558 343.2 556 351 554.1 359 550.9Z" fill="#00ff2b" fill-rule="evenodd"/><path d="M359 551.9 363 552.3 368 556.5 372.2 562 380 575.2 385 580.7 392 585.4 405.2 591 410.5 594 415.2 598 415.3 600 412 600.7 406 600 387 592.7 381 591.4 375 591.3 361 592.7 355 592.4 349 590.6 343.2 587 339.1 582 337.2 576 337.2 570 339.1 563 341.4 559 344 556.8 351 554.9 359 551.9Z" fill="#00ff08" fill-rule="evenodd"/><path d="M359 552.8 363 553.3 368 557.6 372.1 563 380 576.5 386 582.8 392 586.7 406.4 593 410.4 596 411.3 598 409 598.9 404 598.1 388 591.8 382 590.5 376 590.4 361 592 355 591.6 349 589.7 344 586.6 340.1 582 338.1 576 338 570 340 563 342 559.7 344 558 359 552.8Z" fill="#00ff00" fill-rule="evenodd"/><path d="M358 553.9 362 553.9 364 554.9 367 557.5 371.3 563 380 577.9 387 585.6 393 589.6 402.5 593 404.2 594 405.2 595 405 595.5 404 595.8 401 595.1 391 590.5 385 589.4 378 589.4 362 591.2 356 591 349.4 589 344 585.5 341 581.9 338.9 576 338.7 570 340.4 564 342.2 561 345 558.6 358 553.9Z" fill="#00ff00" fill-rule="evenodd"/><path d="M358 554.8 361 554.6 363 555.3 366 557.5 369 560.9 383.2 584 383.9 586 383.3 587 379.9 588 366 590.1 357 590.4 353 589.5 349 588 345.9 586 342.8 583 340.5 579 339.4 574 339.7 569 341.3 564 343 561.5 345 559.8 358 554.8Z" fill="#00ff00" fill-rule="evenodd"/><path d="M357 555.9 360 555.4 363 556.2 368.2 561 372.2 567 380.4 582 381 584 380.2 586 377 587.3 368.8 589 362 589.8 357 589.6 353 588.8 349 587.1 345.9 585 343 582 341 578 340.1 573 340.4 569 342 564.6 343.8 562 346 560.3 357 555.9Z" fill="#08ff00" fill-rule="evenodd"/><path d="M357 556.7 360 556.3 363 557.2 366 559.5 368.9 563 373 569.8 378.6 581 379 583.8 378 585.3 374.4 587 369 588.2 363 589 358 589 354 588.3 350 586.7 347 584.9 344 582 341.9 578 341 574 341.3 569 342.8 565 344.2 563 346.8 561 357 556.7Z" fill="#51ff00" fill-rule="evenodd"/><path d="M356 557.9 359 557.2 362 557.7 365 559.6 368 563 372.3 570 377 580 377.4 583 376 585 373 586.4 368 587.6 358 588.3 351 586.4 348 584.6 345 581.9 343 578.6 341.9 575 341.8 571 342.8 567 344.6 564 346.9 562 356 557.9Z" fill="#8cff00" fill-rule="evenodd"/><path d="M356 558.7 359 558.1 362 558.6 365 560.6 368 564.1 372.1 571 375.6 579 376.1 582 375.1 584 374 584.8 371 586.1 366 587.2 357 587.4 350 585 347 582.8 345 580.5 343.3 577 342.6 574 342.8 570 343.8 567 347.1 563 356 558.7Z" fill="#b0ff00" fill-rule="evenodd"/><path d="M359 559 362 559.6 365 561.7 368 565.4 371.8 572 374 577 374.8 581 374.2 583 371.4 585 363 586.9 359 586.9 355 586.3 351.6 585 348.4 583 346.4 581 344.6 578 343.6 575 343.4 572 343.9 569 345.5 566 347.4 564 350.5 562 356 559.6 359 559Z" fill="#cdff00" fill-rule="evenodd"/><path d="M358 560 361 560.2 364 561.9 366.9 565 370 570 372.7 576 373.6 580 373.3 582 371.1 584 364 586.1 357 586 353 584.8 350 583.2 346 578.9 344.7 576 344.3 573 344.6 570 345.9 567 350.5 563 355 560.8 358 560Z" fill="#e9ff00" fill-rule="evenodd"/><path d="M358 560.9 361 561.1 364 562.9 367.4 567 370.3 572 372.1 577 372.5 580 371.8 582 369 584 362 585.5 356 585 350 582.2 346.5 578 345.2 573 345.6 570 346.5 568 348.1 566 351 563.7 355 561.7 358 560.9Z" fill="#f5e700" fill-rule="evenodd"/><path d="M357 562 360 561.9 363 563.2 366 566.3 368.4 570 370.6 575 371.4 579 370.9 581 368.8 583 363 584.7 356 584.2 351.1 582 347.5 578 346.2 573 347.1 569 350.7 565 357 562Z" fill="#f8c300" fill-rule="evenodd"/><path d="M357 562.9 360 562.9 362.5 564 365 566.3 367.6 570 369.4 574 370.3 578 369.9 580 368 582.3 363 583.9 357 583.7 352 581.6 348.6 578 347.2 573 348.2 569 352 565.2 357 562.9Z" fill="#f8ab00" fill-rule="evenodd"/><path d="M357 563.9 360 563.9 362 564.8 365 567.6 367.2 571 368.8 575 369.1 578 368.6 580 366.4 582 361 583.2 356 582.6 352 580.5 349.2 577 348.2 573 349.5 569 353 565.7 357 563.9Z" fill="#f99500" fill-rule="evenodd"/><path d="M357 565 360 565 362 566 365 569 366.8 572 367.8 575 367.9 578 367 580 365 581.5 361 582.4 356.9 582 353 580.1 350.4 577 349.4 573 350.2 570 352.8 567 357 565Z" fill="#fa7000" fill-rule="evenodd"/><path d="M358 566 361 566.6 363 568 366.2 573 366.8 576 366.6 578 365.2 580 363.2 581 360 581.5 356 580.7 353 578.7 351 575.7 350.7 572 352 569.3 354.7 567 358 566Z" fill="#f64e00" fill-rule="evenodd"/><path d="M356 567.7 358 567.2 360 567.5 362 568.6 364 570.9 365 573 365.6 576 365.1 578 364 579.2 361 580.3 358 580.2 355.1 579 353 577 352 574.7 352 572 353.9 569 356 567.7Z" fill="#f02200" fill-rule="evenodd"/><path d="M357 568.8 360.2 569 363.2 572 364.1 576 363 578 362 578.6 358 578.9 355.9 578 354 576 353.3 574 353.6 572 354.9 570 357 568.8Z" fill="#f00000" fill-rule="evenodd"/><path d="M357 570.7 359 570.5 361.3 572 362.3 575 361 577 358 577.2 356 575.9 355.2 573 357 570.7Z" fill="#f00000" fill-rule="evenodd"/><path d="M327 614 317 614.9 308 616.9 300.7 620 295.6 624 294.2 626 293.3 629 293.8 633 297.2 637 303 640.3 312 643.2 322 644.8 333 645.4 344 644.8 353 643.3 362 640.5 368.2 637 371.6 633 372.2 630 370.5 625 367.2 622 363.4 620 356 617.5 347 615.6 337 614.3 327 614.0M502 653 484.6 655 480.6 656 477.1 658 477.1 659 478 659.8 480.7 661 495 663.4 515 664.4 535 663.6 544 662.5 550.8 661 553.4 660 554.9 659 555.3 658 554.6 657 552.8 656 549.5 655 538 653.3 521 652.5 502 653.0M408.2 505 405.7 523 405.8 538 407.1 550 410 555.1 412 556.5 414 555.4 416 552.1 416.9 550 417.3 545 417.6 523 415.6 505.0M599 653.3 589.7 650 577 647.5 563 646 545 645.4 519 645.5 490 646.6 467 648.3 448 650.8 437.8 653 429.9 656 428.5 657 427.2 659 427.8 661 430.3 663 437.7 666 450 668.9 466 671.3 483.5 673.0M554.2 673 569 671.5 581 669.7 591 667.4 599 664.6M502 545.6 500.7 550 503.6 556 506 565.8 507 566.7 508 566.6 508.7 566 509.1 563 508.5 550 503 545.5 502 545.6M315 611.9 305 614 296 617.5 290 621.6 286.6 626 285.1 631 285.4 634 286.2 636 288 638.4 290.9 641 298 645 308 647.7 322 649.7 337 650.2 351 649.3 361 647.6 370.2 645 377 640.5 379.3 638 381 635 381.7 632 381.5 630 380.1 626 378.8 624 374 620.1 368 617.5 355 614.2 338 611.7 326 611 315 611.9M348.6 505 351 514.6 352 516.3 353 516.2 354 514.8 357.4 508 359.8 505.0M364.6 505 367 507.8 368.5 511 374 531.6 376 536.4 378 539.6 381 542.5 388 546 398 559.7 403 563.5 409 569.2 412 570.7 415 570.2 421 566.3 425 565 430 565.4 437 568.2 440 568.8 451 565.6 454 566.2 460 568.7 463 568.9 469.4 566 471.2 564 473 560.7 474.8 553 475.2 550 475.4 531 477.6 517 481 508.4 483 506.1 485 505.4 487 506.2 489 508.7 491 513.8 492.4 520 493.7 531 493.9 550 495.6 566 500.8 578 505 585.3 507 587 509 587 510 586.3 518 573.2 525.5 566 531.1 555 534.3 550 536.6 544 539 539.9 542 536.6 546 534.5 549 534.3 551 534.8 554 536.8 555.8 539 558 543.2 560.2 550 565 560.4 567 564.1 569 566.4 571 567.2 578 568 585 571 588 571.6 599 567.8M183 510 185 510 187 511.6 189.9 517 193.6 531 196 550 201 560.3 204 564.6 206 566.4 210 567.3 218 565.3 225 567.5 233 566.4 240 567.5 248 565.6 257 568.1 266 565.8 275 568.5 282 566.7 284 566.6 287 568 293.4 575 296 576.4 300 577 303 576.5 306 574.5 307.5 572 309.8 565 311.5 562 314 559.3 320 554.6 324 549.2 326.7 542 328.2 536 330.4 514 331.8 505.0M599 637 585 635.3 571 635 543 637.1 468 640.8 429 642.1 412 641.7 405 640.4 401 638.4 398 635.2 393.1 628 391.8 625 389.3 622 385 618.8 379 615.9 368 613.2 336 608.4 325 607.3 316 607.5 304 609.5 293 613.3 284.8 618 281.3 621 278.7 624 274.4 633 272.5 645 280.3 655 282 658 282 661 279.2 664 275 666 270 667.6 256 670.2 237 672 211.3 673.0M342.7 505 344 507 345.7 512 348.6 528 350 532.4 351 533.4 352 533.5 353 532.8 355 529.5 358 522.3 360 519.2 362 518.2 364 519.1 366 522.1 371 536.2 374.6 543 380 549.8 387.2 556 394 567 399 571.8 412 578.2 428 580.2 441 583.5 451 584 463 587.5 471 586.9 474.3 586 476 584.7 479.9 578 480.8 571 479.1 545 479.5 534 480.4 528 482 523.2 484 520.6 486 520.6 487.8 523 489 526.2 490.6 537 490.3 556 489 570 489.4 577 491.2 582 492.8 589 495.6 594 500 600 503.8 615 504 618 503.3 621 500.2 625 494.8 628 470 630.9 450 631.4 431 630 420.7 628 398.5 616 391.8 613 385 610.7 378 609.5 360 608.6 349 607.3 337.4 605 319 600.3 309 599 306 599.5 295 603.3 283 609.7 272.3 618 267.7 623 264.2 628 262 629.9 256 634 250 636.8 241 639.2 231 640.6 200 641.9 187 645.5 183 645.6M183 547.6 184 547.2 185 547.6 188 552 190.4 557 193.6 566 197 572.1 200.5 576 205 578.6 209 579.4 218 578.7 226 579.5 233 579.3 240 580 248 579.8 257 581.4 266 581.4 269.4 582 275 584.1 284 584.8 293 588.4 305 589.8 308 587.9 311.4 582 315 577.4 329.3 550 332 540 334.7 515 336.4 509 338.6 505.0M547 551.9 550 552.2 552 553.2 554.9 556 556.8 559 562.5 575 564.6 582 564.5 585 562.4 600 561 602.1 557 607 553 610.6 549 612.7 544 613.4 540 612.6 536 610.8 523 602.9 520.4 600 524 597.2 526 594.1 528.6 582 538.9 559 543 553.8 547 551.9M183 566.8 185 566.8 187 568.4 197 585.4 201 589.1 207 590.6 218 590.4 232 591.5 247 594.3 252.1 596 260.8 600 261.9 602 262.4 605 261.2 610 256.5 617 250 623.5 243 628 235 630.2 226 631.8 216 632.5 200 632.4 187 635.2 183 635.1M340 514.6 341 514.4 342 515.1 343.1 517 344.5 522 346.7 535 349 539.7 351 540.6 353 539.9 355.6 537 360 529.9 362 528.8 363 529.1 365 531.6 369.5 541 372.6 546 383.5 559 390 569 393.5 573 400 577.2 411 581.9 429 588.5 452.7 600 457.5 605 459.7 609 460.1 613 458.5 616 454 618.9 448 620.4 440 620.7 431 619.8 417 616.5 385 605.2 378 604.3 362 605.2 351 604.4 339 601.4 335 599.6 331 596.9 327.3 593 324.6 588 323 582 323.2 578 324.4 571 326.6 564 333 550 333.9 547 335.2 540 337 521.9 338 517.9 340 514.6M484 534.9 485 534 486 534.9 487.1 540 486.8 546 486 549.1 485 550 484 549 482.9 544 483 538.7 484 534.9M546 564.8 549 564.4 551 565.9 553 568.5 555.2 574 556.4 582 555 587.4 553 591.6 551 594 548 595.6 545 595 542.1 592 540 587.3 538.9 582 539.9 576 541.5 571 543.1 568 546 564.8M183 581.1 185 580.9 186.7 582 192.9 593 197 596.8 202 598 219 598 230.4 600 235 602 239.1 605 241.4 608 242.2 611 241.3 615 238 619.2 232 623 225 625.4 214 626.8 197 625.9 187 627.1 183 626.3M341 531.7 342 533.1 345.1 541 347 543.6 349 544.9 351 545.1 353 544.4 360 537.8 362 537.2 363 537.6 365 539.6 372 549.9 378.6 558 386.5 570 390 574 397 578.9 422 589.5 430 593.7 436.9 598 440.7 601 443.8 605 444.8 608 443.9 611 441.1 613 437 614.1 432 614.4 425 613.8 411 610.6 389.7 603 383 601.1 376 600.5 362 601.8 354 601.6 345 599.6 341 597.9 337 595.3 332.7 591 329.6 586 328.1 582 327.8 575 329.8 565 336 550 340 533.3 341 531.7M183 600.5 184 599.5 186 599.1 188 599.9 192.1 603 196 604.2 212 602.7 221 603.6 225 605 228.5 607 230.5 609 231.7 612 231.4 614 230.4 616 226.8 619 221 621.3 215 622.3 207 622 188 618.6 185 617.2 183 615.1M359 543.8 362 543.1 365 545.1 374.8 557 383 570 388.2 576 395 580.5 418.6 591 427.2 596 432.3 600 433.9 602 435 605 434 607.8 432 609.1 428 609.9 419 609.4 407 606.5 382 597.9 375 597.3 361 598.8 354 598.5 346 596.4 339 592.2 335.9 589 333.3 585 332 582 331.2 578 331.6 569 334.8 559 339 550.5 341 547.5 342 546.9 344 547 348 548.6 351 548.6 354 547.3 359 543.8M359 547.7 361 547.3 363 547.8 368 552.3 374.2 560 382 572.9 386.9 578 394 582.5 408.7 589 420.1 595 426.1 600 427 602 426.7 604 425.8 605 422.9 606 415 605.7 404 603 388 596.9 382 595.2 375 594.6 361 596 355 595.8 347 593.6 341.2 590 336.2 584 334.9 581 334 577 334.2 569 337 560 339.7 555 342 552.6 344 551.8 351 551.5 359 547.7M207 607.9 213 607.2 219 608.4 222.5 611 222.9 612 222.6 614 220 616.4 216 617.8 211 618.1 205.7 617 202.2 615 201.3 614 200.9 612 202.5 610 207 607.9M359 550.9 361 550.8 363 551.3 368 555.5 373 562 380.1 574 385 579.6 392 584.3 405.3 590 412.7 594 417.9 598 419.1 600 418.7 601 417 602 415 602.2 407 601.2 402 599.8 387 593.8 381 592.4 375 592.2 361 593.5 355 593.2 348 591.1 343 587.9 338.7 583 336.6 577 336.4 570 338.7 562 341 558 343.2 556 351 554.1 359 550.9M358 553.9 362 553.9 364 554.9 367 557.5 371.3 563 380 577.9 387 585.6 393 589.6 402.5 593 404.2 594 405.2 595 405 595.5 404 595.8 401 595.1 391 590.5 385 589.4 378 589.4 362 591.2 356 591 349.4 589 344 585.5 341 581.9 338.9 576 338.7 570 340.4 564 342.2 561 345 558.6 358 553.9M357 556.7 360 556.3 363 557.2 366 559.5 368.9 563 373 569.8 378.6 581 379 583.8 378 585.3 374.4 587 369 588.2 363 589 358 589 354 588.3 350 586.7 347 584.9 344 582 341.9 578 341 574 341.3 569 342.8 565 344.2 563 346.8 561 357 556.7M359 559 362 559.6 365 561.7 368 565.4 371.8 572 374 577 374.8 581 374.2 583 371.4 585 363 586.9 359 586.9 355 586.3 351.6 585 348.4 583 346.4 581 344.6 578 343.6 575 343.4 572 343.9 569 345.5 566 347.4 564 350.5 562 356 559.6 359 559.0M357 562 360 561.9 363 563.2 366 566.3 368.4 570 370.6 575 371.4 579 370.9 581 368.8 583 363 584.7 356 584.2 351.1 582 347.5 578 346.2 573 347.1 569 350.7 565 357 562.0M357 565 360 565 362 566 365 569 366.8 572 367.8 575 367.9 578 367 580 365 581.5 361 582.4 356.9 582 353 580.1 350.4 577 349.4 573 350.2 570 352.8 567 357 565.0M357 568.8 360.2 569 363.2 572 364.1 576 363 578 362 578.6 358 578.9 355.9 578 354 576 353.3 574 353.6 572 354.9 570 357 568.8" fill="none" stroke="#000" stroke-width="1.05" stroke-linejoin="round"/><clipPath id="coi505"><path d="M183.0 673 L183.0 500.0 L185.0 501.4 L187.0 522.0 L189.0 535.6 L191.0 545.8 L193.0 553.9 L195.0 560.6 L197.0 566.4 L199.0 571.5 L201.0 576.0 L203.0 580.0 L205.0 583.7 L207.0 587.1 L209.0 590.2 L211.0 593.1 L213.0 595.8 L215.0 598.3 L217.0 600.7 L219.0 602.9 L221.0 605.0 L223.0 607.0 L225.0 609.0 L227.0 610.8 L229.0 612.6 L231.0 614.2 L233.0 615.9 L235.0 617.4 L237.0 618.9 L239.0 620.4 L241.0 621.7 L243.0 623.1 L245.0 624.4 L247.0 625.7 L249.0 626.9 L251.0 628.1 L253.0 629.2 L255.0 630.3 L257.0 631.4 L259.0 632.5 L261.0 633.5 L263.0 634.5 L265.0 635.5 L267.0 636.5 L269.0 637.4 L271.0 638.4 L273.0 639.3 L275.0 640.1 L277.0 641.0 L279.0 641.8 L281.0 642.7 L283.0 643.5 L285.0 644.3 L287.0 645.0 L289.0 645.8 L291.0 646.5 L293.0 647.3 L295.0 648.0 L297.0 648.7 L299.0 649.4 L301.0 650.1 L303.0 650.8 L305.0 651.4 L307.0 652.1 L309.0 652.7 L311.0 653.3 L313.0 654.0 L315.0 654.6 L317.0 655.2 L319.0 655.8 L321.0 656.4 L323.0 656.9 L325.0 657.5 L327.0 658.1 L329.0 658.6 L331.0 659.2 L333.0 659.7 L335.0 660.2 L337.0 660.8 L339.0 661.3 L341.0 661.8 L343.0 662.3 L345.0 662.8 L347.0 663.3 L349.0 663.8 L351.0 664.3 L353.0 664.7 L355.0 665.2 L357.0 665.7 L359.0 666.1 L361.0 666.6 L363.0 667.0 L365.0 667.5 L367.0 667.9 L369.0 668.3 L371.0 668.8 L373.0 669.2 L375.0 669.6 L377.0 670.0 L379.0 670.5 L381.0 670.9 L383.0 671.3 L385.0 671.7 L387.0 672.1 L389.0 672.5 L391.0 672.8 L393.0 672.5 L395.0 672.1 L397.0 671.7 L399.0 671.3 L401.0 670.9 L403.0 670.5 L405.0 670.0 L407.0 669.6 L409.0 669.2 L411.0 668.8 L413.0 668.3 L415.0 667.9 L417.0 667.5 L419.0 667.0 L421.0 666.6 L423.0 666.1 L425.0 665.7 L427.0 665.2 L429.0 664.7 L431.0 664.3 L433.0 663.8 L435.0 663.3 L437.0 662.8 L439.0 662.3 L441.0 661.8 L443.0 661.3 L445.0 660.8 L447.0 660.2 L449.0 659.7 L451.0 659.2 L453.0 658.6 L455.0 658.1 L457.0 657.5 L459.0 656.9 L461.0 656.4 L463.0 655.8 L465.0 655.2 L467.0 654.6 L469.0 654.0 L471.0 653.3 L473.0 652.7 L475.0 652.1 L477.0 651.4 L479.0 650.8 L481.0 650.1 L483.0 649.4 L485.0 648.7 L487.0 648.0 L489.0 647.3 L491.0 646.5 L493.0 645.8 L495.0 645.0 L497.0 644.3 L499.0 643.5 L501.0 642.7 L503.0 641.8 L505.0 641.0 L507.0 640.1 L509.0 639.3 L511.0 638.4 L513.0 637.4 L515.0 636.5 L517.0 635.5 L519.0 634.5 L521.0 633.5 L523.0 632.5 L525.0 631.4 L527.0 630.3 L529.0 629.2 L531.0 628.1 L533.0 626.9 L535.0 625.7 L537.0 624.4 L539.0 623.1 L541.0 621.7 L543.0 620.4 L545.0 618.9 L547.0 617.4 L549.0 615.9 L551.0 614.2 L553.0 612.6 L555.0 610.8 L557.0 609.0 L559.0 607.0 L561.0 605.0 L563.0 602.9 L565.0 600.7 L567.0 598.3 L569.0 595.8 L571.0 593.1 L573.0 590.2 L575.0 587.1 L577.0 583.7 L579.0 580.0 L581.0 576.0 L583.0 571.5 L585.0 566.4 L587.0 560.6 L589.0 553.9 L591.0 545.8 L593.0 535.6 L595.0 522.0 L597.0 501.4 L599.0 500.0 L599.0 673Z"/></clipPath><g clip-path="url(#coi505)"><path d="M-174.6 673L-4.6 489.4M-174.6 673L-344.6 489.4M-147.1 673L22.9 489.4M-147.1 673L-317.1 489.4M-119.7 673L50.3 489.4M-119.7 673L-289.7 489.4M-92.2 673L77.8 489.4M-92.2 673L-262.2 489.4M-64.8 673L105.2 489.4M-64.8 673L-234.8 489.4M-37.3 673L132.7 489.4M-37.3 673L-207.3 489.4M-9.9 673L160.1 489.4M-9.9 673L-179.9 489.4M17.5 673L187.5 489.4M17.5 673L-152.5 489.4M45.0 673L215.0 489.4M45.0 673L-125.0 489.4M72.4 673L242.4 489.4M72.4 673L-97.6 489.4M99.9 673L269.9 489.4M99.9 673L-70.1 489.4M127.3 673L297.4 489.4M127.3 673L-42.7 489.4M154.8 673L324.8 489.4M154.8 673L-15.2 489.4M182.2 673L352.2 489.4M182.2 673L12.2 489.4M209.7 673L379.7 489.4M209.7 673L39.7 489.4M237.1 673L407.1 489.4M237.1 673L67.1 489.4M264.6 673L434.6 489.4M264.6 673L94.6 489.4M292.0 673L462.0 489.4M292.0 673L122.0 489.4M319.5 673L489.5 489.4M319.5 673L149.5 489.4M346.9 673L517.0 489.4M346.9 673L176.9 489.4M374.4 673L544.4 489.4M374.4 673L204.4 489.4M401.9 673L571.9 489.4M401.9 673L231.9 489.4M429.3 673L599.3 489.4M429.3 673L259.3 489.4M456.8 673L626.8 489.4M456.8 673L286.8 489.4M484.2 673L654.2 489.4M484.2 673L314.2 489.4M511.6 673L681.6 489.4M511.6 673L341.6 489.4M539.1 673L709.1 489.4M539.1 673L369.1 489.4M566.5 673L736.5 489.4M566.5 673L396.5 489.4M594.0 673L764.0 489.4M594.0 673L424.0 489.4M621.5 673L791.5 489.4M621.5 673L451.5 489.4M648.9 673L818.9 489.4M648.9 673L478.9 489.4M676.3 673L846.3 489.4M676.3 673L506.3 489.4M703.8 673L873.8 489.4M703.8 673L533.8 489.4M731.2 673L901.2 489.4M731.2 673L561.2 489.4M758.7 673L928.7 489.4M758.7 673L588.7 489.4M786.1 673L956.1 489.4M786.1 673L616.1 489.4" stroke="#000" stroke-width="0.9" fill="none"/></g><polyline points="183.0,500.0 185.0,501.4 187.0,522.0 189.0,535.6 191.0,545.8 193.0,553.9 195.0,560.6 197.0,566.4 199.0,571.5 201.0,576.0 203.0,580.0 205.0,583.7 207.0,587.1 209.0,590.2 211.0,593.1 213.0,595.8 215.0,598.3 217.0,600.7 219.0,602.9 221.0,605.0 223.0,607.0 225.0,609.0 227.0,610.8 229.0,612.6 231.0,614.2 233.0,615.9 235.0,617.4 237.0,618.9 239.0,620.4 241.0,621.7 243.0,623.1 245.0,624.4 247.0,625.7 249.0,626.9 251.0,628.1 253.0,629.2 255.0,630.3 257.0,631.4 259.0,632.5 261.0,633.5 263.0,634.5 265.0,635.5 267.0,636.5 269.0,637.4 271.0,638.4 273.0,639.3 275.0,640.1 277.0,641.0 279.0,641.8 281.0,642.7 283.0,643.5 285.0,644.3 287.0,645.0 289.0,645.8 291.0,646.5 293.0,647.3 295.0,648.0 297.0,648.7 299.0,649.4 301.0,650.1 303.0,650.8 305.0,651.4 307.0,652.1 309.0,652.7 311.0,653.3 313.0,654.0 315.0,654.6 317.0,655.2 319.0,655.8 321.0,656.4 323.0,656.9 325.0,657.5 327.0,658.1 329.0,658.6 331.0,659.2 333.0,659.7 335.0,660.2 337.0,660.8 339.0,661.3 341.0,661.8 343.0,662.3 345.0,662.8 347.0,663.3 349.0,663.8 351.0,664.3 353.0,664.7 355.0,665.2 357.0,665.7 359.0,666.1 361.0,666.6 363.0,667.0 365.0,667.5 367.0,667.9 369.0,668.3 371.0,668.8 373.0,669.2 375.0,669.6 377.0,670.0 379.0,670.5 381.0,670.9 383.0,671.3 385.0,671.7 387.0,672.1 389.0,672.5 391.0,672.8 393.0,672.5 395.0,672.1 397.0,671.7 399.0,671.3 401.0,670.9 403.0,670.5 405.0,670.0 407.0,669.6 409.0,669.2 411.0,668.8 413.0,668.3 415.0,667.9 417.0,667.5 419.0,667.0 421.0,666.6 423.0,666.1 425.0,665.7 427.0,665.2 429.0,664.7 431.0,664.3 433.0,663.8 435.0,663.3 437.0,662.8 439.0,662.3 441.0,661.8 443.0,661.3 445.0,660.8 447.0,660.2 449.0,659.7 451.0,659.2 453.0,658.6 455.0,658.1 457.0,657.5 459.0,656.9 461.0,656.4 463.0,655.8 465.0,655.2 467.0,654.6 469.0,654.0 471.0,653.3 473.0,652.7 475.0,652.1 477.0,651.4 479.0,650.8 481.0,650.1 483.0,649.4 485.0,648.7 487.0,648.0 489.0,647.3 491.0,646.5 493.0,645.8 495.0,645.0 497.0,644.3 499.0,643.5 501.0,642.7 503.0,641.8 505.0,641.0 507.0,640.1 509.0,639.3 511.0,638.4 513.0,637.4 515.0,636.5 517.0,635.5 519.0,634.5 521.0,633.5 523.0,632.5 525.0,631.4 527.0,630.3 529.0,629.2 531.0,628.1 533.0,626.9 535.0,625.7 537.0,624.4 539.0,623.1 541.0,621.7 543.0,620.4 545.0,618.9 547.0,617.4 549.0,615.9 551.0,614.2 553.0,612.6 555.0,610.8 557.0,609.0 559.0,607.0 561.0,605.0 563.0,602.9 565.0,600.7 567.0,598.3 569.0,595.8 571.0,593.1 573.0,590.2 575.0,587.1 577.0,583.7 579.0,580.0 581.0,576.0 583.0,571.5 585.0,566.4 587.0,560.6 589.0,553.9 591.0,545.8 593.0,535.6 595.0,522.0 597.0,501.4 599.0,500.0" fill="none" stroke="#000" stroke-width="0.9"/><path d="M349.9 505v168M372.8 505v168" stroke="#222" stroke-width="1" stroke-dasharray="5 4" fill="none"/></g><clipPath id="pcd"><rect x="183.0" y="747" width="416.0" height="168"/></clipPath><g clip-path="url(#pcd)"><rect x="183.0" y="747" width="416.0" height="168" fill="#040004"/><path d="M184 747 599 747 599 915 183 915 183 747 184 747ZM359.1 805 358.5 808 359 810.5 360 812 361 812.5 362 812.3 363.1 810 362.5 806 361 804.1 360 804.1 359.1 805Z" fill="#120013" fill-rule="evenodd"/><path d="M184 747 599 747 599 915 183 915 183 747 184 747ZM359.9 802 358 804.1 357.5 809 359 813.1 360 814.1 362 814.5 363 814 364 812.4 364.2 808 362.9 804 361 802 359.9 802Z" fill="#1c0022" fill-rule="evenodd"/><path d="M184 747 599 747 599 915 183 915 183 747 184 747ZM358.7 801 356.8 805 357 811 359 814.8 362 816.2 364 815.1 365 813.2 365 807 364 803.9 362 801 360 800.4 358.7 801Z" fill="#24002b" fill-rule="evenodd"/><path d="M184 747 599 747 599 915 183 915 183 747 184 747ZM359.9 799 358 800.1 356.8 802 356 805 355.9 809 356.5 812 358 815.1 360 816.9 362 817.5 364 816.9 365.5 815 366.2 812 366.1 809 364 802 362 799.6 359.9 799Z" fill="#2d0037" fill-rule="evenodd"/><path d="M184 747 599 747 599 915 183 915 183 747 184 747ZM359 798 357 799.9 355.7 803 355.2 807 355.6 811 357 815 358.5 817 361 818.5 363 818.6 365 817.7 366.6 815 367 811 366.5 807 365 802.3 363 799.2 361 797.9 359 798Z" fill="#4d005e" fill-rule="evenodd"/><path d="M184 747 599 747 599 915 183 915 183 747 184 747ZM358.6 797 356.6 799 355 803 354.6 807 354.9 811 356 814.5 358 817.7 360 819.2 363 819.8 366 818.3 367.3 816 367.8 813 367.4 808 366 803 364 799.1 361 796.7 358.6 797Z" fill="#58007b" fill-rule="evenodd"/><path d="M184 747 599 747 599 915 183 915 183 747 184 747ZM358.3 796 356 798.5 354.6 802 354 807 354.5 812 356 816 358 818.8 361 820.7 364 820.8 366.9 819 368.4 816 368.6 812 367.8 807 366 801.2 364 797.8 361 795.6 358.3 796Z" fill="#5a00a0" fill-rule="evenodd"/><path d="M184 747 599 747 599 915 183 915 183 747 184 747ZM358.1 795 356 797.1 354 802 353.4 807 353.9 812 355.8 817 358 819.9 361 821.7 364 821.9 367 820.5 369 817.6 369.5 814 368.7 808 366.6 801 364 796.7 361 794.6 358.1 795Z" fill="#5a00c8" fill-rule="evenodd"/><path d="M184 747 599 747 599 915 183 915 183 747 184 747ZM357.9 794 355.2 797 353.4 802 352.9 808 353.6 813 355 817 358 820.9 361 822.7 365 822.8 368.3 821 370.1 818 370.3 814 369.1 807 366.8 800 364 795.5 361 793.6 357.9 794Z" fill="#5700e1" fill-rule="evenodd"/><path d="M184 747 599 747 599 915 183 915 183 747 184 747ZM357.9 793 355 796 353 801 352.3 807 353 813 355 818.2 358 822 361 823.6 365 823.8 369 822 371 819 371.3 815 370.3 809 367.9 801 365 795.6 363 793.6 361 792.6 357.9 793Z" fill="#5200f1" fill-rule="evenodd"/><path d="M184 747 599 747 599 915 183 915 183 747 184 747ZM357.8 792 354.8 795 352.5 801 351.8 808 352.7 814 355 819.5 358 823 362 824.9 366 824.7 369.8 823 372.2 820 372.4 816 370.9 809 368.2 800 365.4 795 362 792 360 791.5 357.8 792Z" fill="#520dfc" fill-rule="evenodd"/><path d="M184 747 599 747 599 915 183 915 183 747 184 747ZM357.7 791 354.6 794 352.1 800 351.3 807 352.1 814 354.6 820 358 824 362 825.8 367 825.6 371 823.8 373.5 821 373.8 818 372.7 813 369.2 801 366.2 795 364 792.4 362 791 360 790.5 357.7 791Z" fill="#5529ff" fill-rule="evenodd"/><path d="M184 747 599 747 599 915 183 915 183 747 184 747ZM357.7 790 356 791.1 354 793.6 351.3 801 350.8 809 352.1 816 355 821.9 359 825.7 364 827 369 826.2 373.7 824 375.4 822 375.6 820 374.6 816 369.8 801 367 795 364.7 792 362 790.1 360 789.5 357.7 790Z" fill="#5951fa" fill-rule="evenodd"/><path d="M184 747 599 747 599 915 183 915 183 747 184 747ZM485.8 779 485.8 785 486 785.9 487 786.3 487.6 783 487.4 780 487 778.1 486 778.2 485.8 779ZM357.6 789 355 791 353 794 350.5 802 350.4 811 351.5 816 353.1 820 357 825.3 359 826.7 362 827.8 368 827.7 376.1 825 378 823 377.9 821 368.3 796 366 792.4 363 789.7 360 788.6 357.6 789Z" fill="#4b66f6" fill-rule="evenodd"/><path d="M184 747 599 747 599 915 183 915 183 747 184 747ZM486 775 485 778.2 484.8 784 486 789 487 789.4 488 787 488.3 781 487 775 486 775ZM357.5 788 355 789.8 352.8 793 350.8 798 349.8 803 349.6 808 350.1 813 351.5 818 353.4 822 355.6 825 358 827.1 363 829.1 368 828.9 380.4 826 381.5 825 381.5 823 375.2 812 370.4 799 368 794.1 365.7 791 363 788.7 360 787.6 357.5 788Z" fill="#417ef2" fill-rule="evenodd"/><path d="M184 747 599 747 599 915 183 915 183 747 184 747ZM485.8 773 484.5 778 484.3 785 485 789.3 486 791.4 487 791.6 488 790.2 488.6 788 488.9 781 488 774.8 487 772.6 486 772.5 485.8 773ZM357.3 787 354.6 789 352 793 350.2 798 349.1 804 349.1 810 350 815 351.7 820 353.9 824 358 828.3 363 830.2 367 830.2 385 827.7 385.9 827 385.8 825 376.7 813 370.7 798 368 792.8 365.8 790 363 787.7 360 786.6 357.3 787Z" fill="#3a96f1" fill-rule="evenodd"/><path d="M184 747 599 747 599 915 183 915 183 747 184 747ZM485.7 771 484.1 777 483.8 785 485 791.7 486 793.3 487 793.5 488 792.5 489 789.3 489.4 781 488 772.5 487 770.6 486 770.5 485.7 771ZM357.1 786 354 788.4 351.7 792 349.5 798 348.5 804 348.5 810 349.6 816 351.4 821 354 825.5 358 829.4 363 831.3 376 830.4 386 830.4 389 829.7 390.2 828 389.5 826 377.9 813 375 807.4 370.6 796 367.6 791 365 788.1 362 786.1 359 785.5 357.1 786Z" fill="#35adf3" fill-rule="evenodd"/><path d="M184 747 599 747 599 915 183 915 183 747 184 747ZM485.7 769 483.9 775 483.4 785 484.7 793 486 795.1 487 795.3 488 794.5 489.3 791 489.9 781 489.2 775 488 770.5 487 768.7 486 768.5 485.7 769ZM356.8 785 354 787.1 350.9 792 348.8 798 347.9 804 347.9 810 348.9 816 351.1 822 354 826.9 359 831.3 364 832.7 376 831.9 389 832.2 393.2 831 393.8 829 392.2 826 382 816.2 378 811.3 375.7 807 371.3 796 367.8 790 365 787.1 362 785.1 359 784.5 356.8 785Z" fill="#30c6f7" fill-rule="evenodd"/><path d="M184 747 599 747 599 915 183 915 183 747 184 747ZM485.7 767 484.7 769 483.6 774 482.9 785 484 793.1 485 795.6 486 796.8 487 797.1 488.7 795 489.7 792 490.4 782 489.8 776 488.5 770 487 766.9 485.7 767ZM356.4 784 353 786.9 350 792 348.1 798 347.1 805 347.3 811 348.5 817 350.7 823 354 828.3 359 832.6 364 834 377 833.3 391 834 396 832.8 397.2 831 396.1 828 392.5 824 382.4 815 379 811 376.2 806 371.7 795 368 789 365 786 362 784.1 359 783.3 356.4 784Z" fill="#2ae4fc" fill-rule="evenodd"/><path d="M184 747 599 747 599 915 183 915 183 747 184 747ZM485.9 765 484.4 768 483.3 773 482.5 785 483 790.9 484 795.2 485 797.4 486 798.5 487 798.8 489 796.6 490 793.5 490.8 783 490.2 776 489 769.7 487 765.1 485.9 765ZM355.8 783 352.5 786 349.5 791 347.2 798 346.3 805 346.7 812 348.3 819 350.8 825 354 829.8 359 834 364 835.5 377 834.8 394 835.5 397.4 835 399.3 834 400 833 400 831 398.3 828 394.4 824 383.9 815 379.6 810 377 805.5 371.5 793 368 787.8 365 784.8 361 782.5 358 782.2 355.8 783ZM194.7 785 194 790 195 794.5 196 793.8 196.5 789 196 784.9 195 784.1 194.7 785Z" fill="#15f5e4" fill-rule="evenodd"/><path d="M184 747 599 747 599 915 183 915 183 747 184 747ZM486 763 484.3 766 483.2 771 482.1 785 482.5 791 483.6 796 485 799.3 487 800.5 489 798.7 490.1 796 491 790.9 491.3 784 490.7 776 489.3 769 488 764.9 487 763.3 486 763ZM194.3 780 193.1 785 192.9 791 193.7 797 195 799.5 196 799.2 197 797 197.8 788 196.7 781 196 779.4 195 779.1 194.3 780ZM357.9 781 354 782.9 350 788.1 347.1 795 345.6 803 345.6 810 347.2 818 349.8 825 353.6 831 358 835 361 836.5 364 837.1 378 836.3 396 837.1 400 836.4 402 835.2 402.8 834 402.7 832 400.3 828 385 814.5 380.2 809 377.8 805 372.5 793 369 787.7 366 784.5 363 782.3 360 781.1 357.9 781Z" fill="#00fbbd" fill-rule="evenodd"/><path d="M184 747 599 747 599 915 183 915 183 747 184 747ZM485.2 762 484 765 482.4 773 481.7 787 482.3 793 483.5 798 485 801.1 487 802.3 489 800.7 490.8 796 491.6 790 491.7 783 490.8 774 489 765.8 487 761.4 486 761.1 485.2 762ZM194.6 776 192.7 781 192 790 193 799.1 194 801.9 195 803 196 802.8 196.6 802 197.7 799 198.7 789 198.3 783 197.2 778 196 775.8 195 775.6 194.6 776ZM356.4 780 352.4 783 348.4 789 345.6 797 344.5 805 345.1 813 346.9 820 350 827.4 354 833.4 359 837.5 362 838.6 365 839.1 380 837.8 398 838.6 401.9 838 404 837 405 835.9 405.4 834 403.8 830 400.2 826 387.1 815 382.3 810 379 805 372.9 792 369 786.3 366 783.3 362 780.6 359 779.6 356.4 780Z" fill="#00ffa2" fill-rule="evenodd"/><path d="M184 747 599 747 599 915 183 915 183 747 184 747ZM485.2 760 483.7 764 482.2 772 481.4 780 481.3 788 483 799 485 803 487 804.1 489 802.9 491.1 798 492.1 791 492.2 784 491.3 774 489 763.9 487 759.6 486 759.2 485.2 760ZM194.5 773 193 775.6 192 779.8 191.3 790 192.5 801 194 805 195 806 196 805.9 197 804.8 198.1 802 199.2 796 199.5 789 199 782 198 776.6 196 772.8 194.5 773ZM355.2 779 350.2 784 346.7 790 344.4 797 343.4 805 344.2 814 346.5 822 350 829.7 354 835.5 359 839.6 365 841.3 381 839.4 401 840 404 839.4 406.7 838 407.9 835 407.5 833 405.7 830 400.9 825 387.7 814 383 809 379.8 804 373.5 791 369.1 785 365 781.2 361 778.8 358 778.2 355.2 779Z" fill="#00ff7f" fill-rule="evenodd"/><path d="M184 747 599 747 599 915 183 915 183 747 184 747ZM485.3 758 483.6 762 481.9 771 481 780 480.8 788 481.5 795 482.9 801 485 805.1 487 806.1 489.1 805 491.5 800 492.6 793 492.8 785 491.7 774 489.6 764 487 757.6 486 757.3 485.3 758ZM194.8 770 193 772.3 191.9 776 191 782 190.6 790 192 802.9 193 806 195 808.7 196 808.6 197 807.8 198.9 803 200 796 200.2 789 199.7 781 198.6 775 197 771 196 770 194.8 770ZM355.8 777 351.1 781 346.1 788 343.4 795 342 804 342.5 812 344.6 820 348.7 830 353.2 837 356 839.9 359 842 362 843.3 366 843.9 383 841.1 403 841.5 407 840.6 409 839.4 410 838 410.4 836 409.9 834 408.3 831 403.8 826 390.4 815 384.6 809 381 803.7 374.7 791 370.5 785 366 780.6 362 777.9 359 776.7 355.8 777Z" fill="#00ff57" fill-rule="evenodd"/><path d="M184 747 599 747 599 915 183 915 183 747 184 747ZM485.2 756 483.3 761 481.5 770 480.5 780 480.4 789 481.1 797 482.6 803 485 807.3 487 808.3 489 807.5 490 806.4 492 802 493.2 795 493.4 786 492.4 775 489.9 763 488.3 758 487 755.7 486 755.3 485.2 756ZM193.9 768 192 772 190.7 778 190.1 786 190.1 794 192 806.3 194 810.5 196 811.3 198 809 199.8 803 200.8 795 200.9 786 199.9 777 198 770 196 767.3 195 767.2 193.9 768ZM356.2 775 352 778.2 347.4 783 344.6 787 341.4 795 340.2 803 340.7 811 343.4 821 348.1 832 353 839.7 356 842.9 359 845 362 846.4 366 847 371 846.4 383 843.1 404 843.2 408 842.5 411 841 412.5 839 412.6 836 411.5 833 409.4 830 404.4 825 391 814 386.2 809 382.2 803 375.4 790 370 782.8 362 776.3 359 775 356.2 775Z" fill="#00ff2b" fill-rule="evenodd"/><path d="M184 747 599 747 599 915 183 915 183 747 184 747ZM485.1 754 483 759.5 481.2 769 480.1 779 479.8 790 480.5 798 482 804.3 484 808.5 485 809.7 487 810.7 489 810.1 490 809.2 492.6 804 494 797 494.2 788 492.8 774 490 761 488.4 756 487 753.6 486 753.3 485.1 754ZM194.2 765 192 768.8 190.5 775 189.5 784 189.4 793 190.3 802 191.9 809 194 813.1 196 813.8 197 813.3 198.5 811 200.4 805 201.5 797 201.7 787 200.8 777 199 769.3 197 765.4 196 764.6 194.2 765ZM355.9 773 345.3 782 342.1 786 339.4 793 338.2 802 338.5 811 340.5 819 346.6 833 353 843.4 356 846.5 359 848.6 363 850 367 850.4 372 849.7 385 845.1 391 844.7 406 844.9 410 844.2 413 842.8 415 840 415.1 837 414 834 411.3 830 406.2 825 392.8 814 388 809 384 803.1 376.4 789 370.9 782 366 777.6 361 774 358 772.8 355.9 773Z" fill="#00ff08" fill-rule="evenodd"/><path d="M184 747 599 747 599 915 183 915 183 747 184 747ZM484.9 752 482.7 758 480.4 771 479.3 782 479.3 793 480.4 802 482.1 808 485 812.4 488 813.4 491 811.3 493.6 806 494.9 799 495.1 789 493.6 775 490.1 759 488.5 754 487 751.5 486 751.2 484.9 752ZM194.8 762 193 763.6 192 765.6 190.2 772 189 782 188.7 792 189.5 802 191 809.4 193 814.3 194 815.6 196 816.4 197 816 198.6 814 200.8 808 202.2 799 202.6 788 201.7 777 200 768.9 197.3 763 196 762 194.8 762ZM355 771 349 777 343 779 340 782.1 337.5 790 336.2 802 336.7 813 339 822.9 347.6 840 352.1 847 355.2 850 359 852.2 363 853.3 368 853.6 375 852.3 384 848.4 388 847.3 409 846.6 413 845.7 415.9 844 417.7 841 417.7 838 416.1 834 413.2 830 408.1 825 394.7 814 389.9 809 386.5 804 378.2 789 371.8 781 360 771.3 357 770.3 355 771Z" fill="#00ff00" fill-rule="evenodd"/><path d="M184 747 599 747 599 915 183 915 183 747 184 747ZM486 749 485 749.6 483.4 753 480.8 765 478.7 781 478.4 793 479.4 803 481.4 810 484 814.6 486 816.2 488 816.6 490 815.8 491.9 814 494.4 809 496 802 496.4 793 494.7 777 491.6 762 488.6 752 487 749.3 486 749ZM193.6 760 191 765.1 189.2 773 188.2 783 188.1 794 189 804 190.8 812 193 817 194 818.2 196 819 197.8 818 199 816.5 201.7 809 203.3 798 203.5 787 202.4 775 199.9 765 197 759.8 195 759.1 193.6 760ZM355.1 768 351 773.2 349 774.9 347 775.3 342 773.2 341 773.4 339.3 775 336.8 782 334.8 796 334.8 812 337.1 828 339.4 834 349.1 849 352.1 852 357 854.7 363 856.2 369 856.4 377.2 855 391 849.8 411 848.7 415 847.8 418.3 846 420.3 843 420.5 840 419.3 836 416 831 410.1 825 396.8 814 392 809 388.6 804 380.4 789 374 781 360 768.8 357 767.4 355.1 768Z" fill="#00ff00" fill-rule="evenodd"/><path d="M184 747 485.4 747 484 748.8 483 751.5 480.3 764 477.8 783 477.4 795 478.4 805 480.7 813 484 818.2 486 819.7 488 820.1 490 819.7 492 818.2 495 813.1 497.1 805 497.8 796 496.8 784 494.4 771 489.9 753 488.4 749 487 747 599 747 599 915 183 915 183 747 184 747ZM193.6 757 190.8 762 188.6 771 187.5 782 187.4 794 188.3 805 190.3 814 193 819.7 194 820.8 196 821.7 198 820.9 199.6 819 202.7 811 204.5 800 204.7 787 203.3 774 200.3 762 198.8 759 197 756.7 195 756.1 193.6 757ZM355.6 764 354 765.6 350.9 771 349 772.6 348 772.8 346 771.8 342 766.4 340 766.4 337.6 770 335.6 777 333.4 795 333.2 812 335 832.5 337 841.8 339 847.7 353 856.3 360 858.3 367 859 378 857.7 395 852.4 415 850.8 418 850 421 848.4 423 845.9 423.6 842 422.2 837 419 832 413.4 826 400.2 815 395 809.8 391 804 383.7 790 377.6 782 359 764.9 357 763.8 355.6 764Z" fill="#00ff00" fill-rule="evenodd"/><path d="M184 747 483.6 747 481.3 755 477.5 777 476.2 789 476.1 799 477.5 809 480 816.7 482 820.2 484 822.4 486 823.7 488 824.2 490 823.9 492 822.8 495.2 818 498 809 499.1 798 498.7 789 497.3 779 491.4 755 488.7 747 599 747 599 915 183 915 183 747 184 747ZM194.7 753 193 754.3 191.3 757 188.6 766 186.8 779 186.4 792 187.4 805 189.5 815 192.6 822 194 823.6 196 824.6 198 824.1 200 822.1 203.4 815 205.7 805 206.6 791 205.5 778 202.1 763 198.6 755 197 753.3 194.7 753ZM339.6 759 337 762.7 334.7 771 332.8 784 331.6 800 331.7 815 333.7 842 333.8 850 334.4 853 335.9 855 338 856 345 856.7 358 860.5 364 861.2 370 861.3 379.7 860 398 855.4 418 853.4 422.7 852 425.6 850 427.1 847 427.2 844 426.2 840 423.6 835 416.8 827 401.7 814 397 809 393.7 804 386.7 790 380 781 366.1 769 359 760.7 357 759.1 355.5 759 354.3 760 351 768 349.2 770 348 770.1 346 767.8 343 759.8 341 758.5 339.6 759ZM566.5 778 562 781.7 558 783.4 556.3 786 554.3 806 554.8 810 556 811.8 557 811.7 559.5 807 561 805.3 564 804.1 567 805.1 571 810.2 572 810.6 574 810.1 577.2 808 580.3 805 582.3 802 583.5 799 583.9 794 582.4 790 576 785 570 777.8 568 777.2 566.5 778Z" fill="#08ff00" fill-rule="evenodd"/><path d="M184 747 482.4 747 475.4 782 474.3 792 474.4 802 476.2 813 479.2 821 481 824 484 827.1 486 828.3 489 828.8 491 828.3 493 827 496 822.1 499.5 809 500.5 798 500 788 498.4 777 490 747 599 747 599 915 183 915 183 747 184 747ZM193.5 750 192 751.7 190 755.9 187.3 766 185.7 780 185.5 795 186.8 808 189.6 819 193 825.5 195 827.2 197 827.7 199 827 202 824 206.8 815 208.3 810 209.4 804 209.9 792 207.6 777 202.3 758 200.1 753 198 750.2 196 749.1 193.5 750ZM339.9 751 337 754.3 334.2 763 332.2 775 330.6 791 330 810 330.4 830 331.2 842 330.4 852 331 855 332.2 857 334.4 859 337 860.1 345 860.3 361 863.2 370 863.5 380 862.4 400 858.5 421 856.3 426.3 855 430.1 853 432 850 432 847 430.4 842 427.1 836 420.6 828 404.8 814 400.1 809 397 804 389.7 789 384 780.9 379 776 367 766.6 364 763 359 755.3 356 752.7 354 752.8 352.8 754 350.3 765 349 766.7 348 766.4 346.9 764 345.9 756 345 753.1 343 751 341 750.6 339.9 751ZM567.2 767 563 773.1 560 775 557 774 552 769.6 551 769.4 550 770 549.7 772 552.1 782 552.5 791 551.3 800 550 803.2 549 804.2 548 804.2 547 803.3 543 795 542 795.5 537 802.4 535 802.8 534 802.2 531.5 798 529 791 528 789.7 527 790.2 526 792.4 525.5 796 525.9 800 527 803 530 808.4 534 814 536.8 817 540 819.3 544 820.8 556 823 562 822.7 571 821 578.9 818 585.7 814 591.2 809 594.7 804 596.3 800 597.1 796 596.9 792 595.7 789 591 784.1 585 776 583 775.8 579 777.4 577 776.7 575 774.7 570 766.6 569 766 567.2 767ZM238.2 824 232.9 827 231 829.1 229.6 832 229.1 838 231 844 234.8 849 239 851.6 245 852.8 251 851.6 254.5 849 256.8 844 257.1 837 255.4 831 252.4 827 248 824.1 243 823.2 238.2 824ZM563 807.5 565 807.4 566.7 810 566.5 813 565 814.8 563 814.6 561.4 812 561.7 809 563 807.5Z" fill="#51ff00" fill-rule="evenodd"/><path d="M184 747 192 747 188.7 754 186.4 763 184.7 775 184.1 787 184.4 799 185.7 809 187.8 818 191 825.8 194 829.7 197 831.2 200 830.7 207 827.3 209 827.4 212 828.5 214 830.1 216 832.7 222.9 847 227.7 853 232 855.8 236 857.5 241 858.6 246 858.9 252 858.3 256.6 857 260.5 855 263.5 852 264.8 848 264.9 843 264.1 836 262.3 830 259.4 825 256 821.2 252 818.4 248 816.7 244 816 239 816.1 224 819 221 818.4 219.4 817 218 814 217.2 810 216.4 793 214.8 785 203.4 754 199.6 747 336.2 747 334 753 332.5 760 329.7 782 328.1 807 327.9 830 328.7 842 328.1 846 325.9 853 326 855 327 857 330 860 333 862.1 336 863.2 345 863.3 358 865.2 367 865.7 377 865.1 400 861.6 429 858.4 434.1 857 437.7 855 439.1 853 439.2 851 438.1 848 435.2 843 427.5 832 421 825.2 408.7 814 404.3 809 401.2 804 394.7 790 388.9 781 382 773.6 371 766 367.6 763 365 759.6 360 750.2 357.7 747 481.2 747 472.6 785 471.8 795 472.1 804 474.2 816 477.8 825 483 831.7 486 833.7 489 834.3 492 833.6 494 832.1 496.8 827 500.7 810 501.9 799 501.3 787 499.5 774 497.5 766 491.4 747 599 747 599 771.9 595 775.5 593 776 591 775.1 585 766.7 584 766.7 580 770.5 578 771 577 770.5 575 768 571 758.3 569 755.7 568 756.2 567 757.8 564 764.8 562 768 561 768.9 559 769 556.3 766 551 754.1 549 752.6 546 752.8 543 754.1 540.4 756 538.1 759 536.8 762 536.7 764 539.1 772 540.3 781 539.7 788 538 792.4 537 793.3 535.7 793 534.4 791 533.5 788 532.7 779 533.8 766 533 764 532 763.7 531 764 529 766.4 523 779.3 518 786 516.6 790 516.1 795 516.5 799 517.6 802 524.2 812 530 823 534 826.7 540.3 829 547 830 556 830.2 563 829.5 571 827.8 579 825.3 586.7 822 593.6 818 599 813.8 599 915 183 915 183 747 184 747Z" fill="#8cff00" fill-rule="evenodd"/><path d="M184 747 188.5 747 185.3 758 183 772.5 183 747 184 747ZM205 747 332.4 747 329.3 765 325.8 801 324.2 830 325.6 839 325.6 843 324.5 846 323 848.1 314.7 854 313.3 856 315.1 858 325 861.6 335 866.2 346 866.2 366 868 377 867.4 401 864.3 436 861 447.6 858 451.1 856 452.1 854 450.3 851 441 842.8 429.1 829 412.2 812 408.2 806 401.5 790 397.7 784 390.4 775 385 769.6 380 765.9 372 761.3 369 758.8 366 754.5 362.6 747 479.7 747 477 757.9 472.2 772 470 781 468.8 793 469.3 806 471.3 818 473.9 825 483 840.4 486 842.9 489 843.5 492 842.5 494 840.8 496 838 497.7 834 502.6 807 503.4 800 502.8 786 500.5 770 498 759.6 493.3 747 530.5 747 529 750.1 525.4 764 523 770.6 520 774.5 515.5 776 514 778.9 512.9 785 512.3 794 512.7 800 513.9 804 521.8 816 526.1 831 529 834.1 534 836 540 836.9 548 837.1 556 836.5 565 835.1 583 830.1 591 826.9 599 822.8 599 915 183 915 183 803.4 184.5 812 186.4 819 189.1 826 192 831 196 834.7 203 836.2 206 837.8 209 841.2 216.7 853 219.9 856 224 858.6 230 861.1 238 863 245 863.5 253 863 262.3 861 270 858 274.6 855 276.1 852 275.6 849 269.6 830 266.3 824 262 818.9 256 813.5 251 810.7 246 809.1 235 807.5 232 806.3 230.6 805 229.2 802 228.9 793 227.9 789 226.1 786 221 780.2 218 775.5 212 763.4 205 747ZM554 747 566.7 747 563.2 760 562 762.3 560 763.9 558 762.5 556.4 759 553.4 747 554 747ZM572 747 599 747 599 758.8 596.6 765 594.9 768 593 769.4 591 768.7 585 757.8 584 758.1 580 764.6 578 765.5 577 764.9 575.2 762 573.8 758 571.2 747 572 747Z" fill="#b0ff00" fill-rule="evenodd"/><path d="M183.6 748 183 750.2 183 747 183.9 747 183.6 748ZM215 747 328.6 747 324 780.1 318.2 813 314 827 314 829 315 831 319 835.6 321.1 839 321.4 842 320 845.1 317.7 847 314 848.7 309 849.8 304 850 296 848.5 292 846.6 288.3 844 285.3 840 281.6 830 278.3 825 274.8 821 264 812.6 254 803.9 250 801.5 243 798.6 239.7 796 233 781.1 224.2 770 220 762.9 216.8 755 214.5 747 215 747ZM290.8 749 289 754.1 287.8 762 287 786 287.7 801 288.9 813 290 818.4 291 820.5 292 820.7 294 817 296.4 806 297.6 794 297.9 780 297.2 766 295.6 755 294 750 293 748.4 292 748 290.8 749ZM368 747 476.7 747 470.5 760 467.6 768 465.6 777 464.7 787 465.2 803 467.2 819 468.5 823 473.3 831 474.6 835 474.5 839 473 842 469 844.9 463 845.9 456 844.9 449.1 842 442.9 837 424.7 818 419 811 413 800.1 409.6 789 409 780 410.3 757 409.6 752 408 748.8 407 748.4 406 748.7 404.1 751 399.1 766 398 767.5 396 768.1 393 766.6 383 758.4 372 752.3 369.7 750 368 747ZM498 747 525.9 747 523.9 760 522.6 764 521 767 520 767.9 518 767.8 514 764.5 512.7 766 511.2 773 509.2 791 509.1 798 510.2 803 512.7 808 518.2 816 519.8 821 519.7 827 516.6 839 517 843.5 518.4 846 521 847.1 529 846.9 542 845.5 555 843.2 578 837.4 599 829.7 599 915 183 915 183 816.3 187.4 827 191 833.6 195 838.4 202 844 208 854.1 211 858 214.8 861 220 863.4 227 865.5 235 867 243 867.6 252 867.4 280 862.6 291 862.1 302 862.8 322 865.3 336 869.4 346 869 360 870.1 369 870.2 404 866.8 439 864.4 467 861.1 486 860.1 492 859.1 495.3 858 498.1 856 499.9 852 501.6 821 505.9 798 505.5 791 502.5 769 500.2 756 498 747ZM557 747 563.8 747 562 755.5 561 757.4 560 758 558.7 757 557.2 753 556.2 747 557 747ZM574 747 583.2 747 581 755.9 579 759.4 578 759.7 577 758.9 576 757.1 574 747ZM587 747 597.9 747 595.9 758 594.2 762 593 763.4 592 763.5 591 762.8 589.1 759 586.4 747 587 747Z" fill="#cdff00" fill-rule="evenodd"/><path d="M250 747 281.5 747 282.2 774 281.4 793 280.5 798 279 801.8 277 804.2 274 805.9 271 806.7 268 806.7 265 805.5 263 803.9 257.4 796 251.4 784 248.8 775 247.8 767 248.4 755 249.6 747 250 747ZM415 747 446.7 747 455 777.6 457.5 789 459.8 805 460.7 822 461.9 824 468 829.4 470.1 833 470.3 835 469.7 837 467 839.5 463 840.7 459 840.6 455 839.5 451 837 449.3 835 445.2 828 435 819.9 428.2 813 423.6 807 419.1 800 414.7 790 412.8 780 412.9 771 415 747ZM504 747 508.9 747 508.3 761 507 768.5 506 768 505 763.7 503.3 747 504 747ZM515 747 523.6 747 522.3 757 521 760.3 520 761.4 519 761.4 518 760.5 516.8 758 515.5 753 515 747ZM577 747 579.6 747 579 750.1 578 751 577 748.9 577 747ZM590 747 595.1 747 594 754.1 593 756.1 592 756.5 591 755.4 590 752.3 589.3 747 590 747ZM508 807.9 510 809.3 514.3 815 516.1 819 516.5 822 516 825.4 514.5 829 509 837.8 507 839.4 506 838.7 504.4 834 503.1 823 503.7 817 505 811.9 506 809.6 507 808.2 508 807.9ZM183.5 826 191 838.4 198.4 849 204 859.6 208 864.1 213 867 220 869 231 870.7 242 871.4 255 871 281 868.2 293 867.9 322 869.4 336 872.5 346 871.9 368 872.6 408 869.3 490 865.2 498 863.6 507 859.5 517 860.4 533.1 857 573 844.6 599 835.8 599 915 183 915 183 825.1 183.5 826ZM302 837.9 306 837.1 311 837.9 314 839.7 314.9 842 313.5 844 311 845.1 307 845.6 303.2 845 301.1 844 299.5 842 299.7 840 302 837.9Z" fill="#e9ff00" fill-rule="evenodd"/><path d="M263 747 269.5 747 270 747.7 273.2 757 274.9 768 275 780 273.5 790 272.1 794 270.4 797 269 798.4 267 799.1 264 797.7 261.2 793 259.3 787 258.2 779 258.1 770 258.9 761 260.5 753 263 747ZM421 747.2 433.5 747 436.2 752 440 767.2 449.5 786 451.8 792 453.6 799 454.4 806 453.9 812 452 816.3 449 818.5 446 818.9 442 817.9 438 815.9 433 811.9 428.3 807 424.5 802 420.9 796 418.1 790 415.7 781 415.4 771 418 755.4 419.2 751 421 747.2ZM519 747 520.5 747 520 750.9 519 750.2 519 747ZM508 813.6 509 813.7 511 815.5 512.4 818 513 821 512.6 824 511.7 826 510 828.2 508 829 507 828.5 506 827 505.1 822 506 816.1 507 814.3 508 813.6ZM457 830.8 460 830.1 463 830.9 465.1 833 465 835 464 836 462 836.6 458 836 456.6 835 455.7 833 457 830.8ZM183.1 833 187 838.1 191.1 845 199.5 863 202 866.5 204.9 869 210 871.5 216.1 873 228 874.3 241 875 253 874.8 280 872.9 295 872.5 323 873.3 336 875.6 346 874.8 366 875.2 411 872 492 869.7 498 868.8 506 866.6 515 866.6 521 866 538 862.4 552.5 858 599 841.6 599 915 183 915 183.1 833Z" fill="#f5e700" fill-rule="evenodd"/><path d="M265 752.8 266 752.3 267.5 753 269.8 757 271.5 764 272.1 772 271.8 780 270.6 787 268.8 791 267 792.7 266 792.7 264 791.1 262.2 787 261.1 782 260.5 775 260.6 768 261.5 761 263 755.8 265 752.8ZM426 754.7 428 754.8 430.2 757 434.7 768 444.6 784 448.6 793 450.3 800 450.4 806 449 810.5 446 813.1 443 813.4 440 812.6 436 810.4 432 807 424.8 798 421.5 792 419.5 787 417.7 778 418.4 769 420 763.3 422 758.9 424 756 426 754.7ZM183.6 842 186 845 188 848.6 194.8 866 197.8 870 201 872.6 207 875.4 214 876.8 241 878.3 301 876.6 324 876.9 337 878.6 347 877.7 370 877.6 412 874.9 474 874.5 494 873.8 506 871.9 522 871.2 539.2 868 554 863.6 599 847.6 599 915 183 915 183 841.4 183.6 842Z" fill="#f8c300" fill-rule="evenodd"/><path d="M266 758.6 267.8 760 269 763 270.1 773 269 782.9 268 785.4 267 786.6 266 786.8 264.3 785 263.2 782 262.2 773 263.3 763 264.5 760 266 758.6ZM425 766.6 428 767.2 433 772 440 781 444.5 789 446.9 796 447.6 802 446.3 807 444 809.1 442 809.4 439 808.8 434 805.7 428 799.2 423.3 791 420.6 783 420.1 776 420.8 772 422 769.3 425 766.6ZM599 853.7 599 915 183 915 183 859.8 188.8 869 194.1 874 201 877.7 210 880 220 880.9 239 881.5 316 880.2 326 880.4 336 881.5 346 880.6 368 880.3 407 878 483 878.1 528 875.6 539 873.9 549 871.4 584 858.5 599 853.7Z" fill="#f8ab00" fill-rule="evenodd"/><path d="M266 765.7 267 766.4 267.5 768 268.1 773 267.4 778 267 779 266 779.7 264.9 778 264.2 773 264.7 768 266 765.7ZM426 772.7 429 773.1 433 776 438 781.7 441.9 788 444.2 794 445 799 444.5 803 443.2 805 442 805.7 440 805.9 438 805.5 434 803 429.3 798 425.7 792 423.4 786 422.5 780 423.5 775 425 773.1 426 772.7ZM596 860.9 599 860.1 599 915 183 915 183 875.9 187 876.7 199 881.3 206 882.9 216 883.9 235 884.4 321 883.5 336 884.4 347 883.4 367 883 411 880.9 476 881.7 507 880.6 530 880.6 541 879.8 551 877.7 581 865.8 596 860.9Z" fill="#f99500" fill-rule="evenodd"/><path d="M427 777.4 430 777.5 433 779.3 436 782.3 439.3 787 441.5 792 442.5 796 442.3 800 441 802 438 802.5 435 801.1 431 797.3 428.1 793 425.9 788 425 783 425.2 780 427 777.4ZM596 867.8 599 867 599 915 183 915 183 881.8 188 882.4 206 886.2 229 887.3 322 886.5 336 887.2 347 886.2 413 883.8 472 885 507 884.5 545 886.4 552 885.7 559 883.8 581.6 873 596 867.8Z" fill="#fa7000" fill-rule="evenodd"/><path d="M429 781.7 431 781.6 433 782.7 437 787.1 439 791 439.8 794 439.7 797 439 798.4 437 798.9 435 798.1 432.6 796 430.3 793 428.8 790 427.7 786 428 783 429 781.7ZM597 876.8 599 876.1 599 915 183 915 183 886.3 208 889.6 234 890.3 323 889.5 336 889.9 348 889 408 886.7 469 888.1 506 888.2 527 890.5 554 897.3 562 898.3 566 897.8 569 896.5 584.8 883 591 879.3 597 876.8Z" fill="#f64e00" fill-rule="evenodd"/><path d="M432 787.8 433 787.6 435 789.5 435.8 792 435.5 793 434 792.8 433 791.8 432 789.8 432 787.8ZM388 890 422 889.6 503 891.7 514 892.7 527 895.6 537.8 900 546.8 906 555.8 915 183 915 183 890.2 210 892.8 245 893.2 336 892.7 388 890Z" fill="#f02200" fill-rule="evenodd"/><path d="M382 893 419 892.4 494 894.7 508 895.6 520 898.1 529.7 902 538 907.6 545.4 915 183 915 183 893.8 212 895.8 255 896 336 895.5 382 893Z" fill="#f00000" fill-rule="evenodd"/><path d="M376 896 398 895.2 418 895.3 489 897.7 504 898.7 515 900.9 523.5 904 531 908.5 538 915 183 915 183 897.3 215 898.8 285 898.7 336 898.2 376 896Z" fill="#f00000" fill-rule="evenodd"/><path d="M398 898 428 898.4 487 900.7 502 901.9 511 903.6 519 906.4 525.5 910 531.7 915 183 915 183 900.5 217 901.7 300 901.4 336 901 398 898Z" fill="#f00000" fill-rule="evenodd"/><path d="M389 901 423 901.1 496 904.5 505 905.9 513 908.1 519.5 911 525.6 915 183 915 183 903.7 218 904.5 302 904.3 336 903.7 389 901Z" fill="#f00000" fill-rule="evenodd"/><path d="M383 904 419 903.8 489 907.1 499 908.2 506 909.6 513 911.9 519 915 183 915 183 906.8 219 907.4 303 907.1 336 906.5 383 904Z" fill="#f00000" fill-rule="evenodd"/><path d="M360 804.1 358.7 806 358.6 809 359.3 811 361 812.5 362 812.3 362.9 811 363.1 808 362 805 361 804.1 360 804.1M360 799 358 800.1 356.8 802 356 805 355.9 809 356.5 812 358 815.1 360 816.9 362 817.5 364 816.9 365.5 815 366.2 812 366.1 809 364 802 362 799.6 360 799.0M359 795.7 357 797.1 354.9 801 354 806 354.3 811 356 816 358 818.8 361 820.7 364 820.8 366.9 819 368.1 817 368.6 813 368 808 366.3 802 364.1 798 362 796.1 359 795.7M358 792.9 355 796 353 801 352.3 807 353 813 355 818.2 358 822 361 823.6 365 823.8 369 822 371 819 371.3 815 370.3 809 367.9 801 365 795.6 362 793 360 792.5 358 792.9M358 789.8 356 791.1 354 793.6 351.5 800 350.7 808 351.8 815 354.4 821 358 825 360 826.2 363 827 368 826.5 372 825 374.8 823 375.6 821 375.2 818 369.8 801 367 795 363 790.6 360 789.5 358 789.8M486 772.5 484.6 777 484.3 784 485 789.3 486 791.4 487 791.6 488 790.2 488.6 788 488.9 781 488 774.8 487 772.6 486 772.5M358 786.7 355 788.6 352.5 792 350.4 797 349.2 803 349.1 809 349.7 814 351.2 819 353.9 824 358 828.3 363 830.2 367 830.2 385 827.7 385.9 827 385.8 825 376.7 813 370.7 798 368 792.8 365.8 790 363 787.7 360 786.6 358 786.7M486 766.7 485 768.1 483.7 773 482.9 785 484 793.1 485 795.6 486 796.8 487 797.1 488.7 795 489.7 792 490.4 782 489 771.8 487.7 768 487 766.9 486 766.7M357 783.7 353.8 786 350.5 791 348.3 797 347.2 804 347.3 811 348.5 817 350.7 823 354 828.3 359 832.6 364 834 377 833.3 391 834 396 832.8 397.2 831 396.1 828 392.5 824 382.4 815 379 811 376.2 806 371.7 795 368 789.1 365 786 362 784.1 359 783.3 357 783.7M486 761.1 485 762.2 484 764.9 482.9 770 481.9 778 481.7 786 482.3 793 483.5 798 485 801.1 487 802.3 489 800.7 490.5 797 491.6 791 491.8 784 491.1 776 489.6 768 488 763 487 761.4 486 761.1M195 775.6 194 776.6 193 779.4 192 789 193 799 194 801.9 195 803 196 802.8 197.4 800 198.7 790 197.8 780 196.8 777 196 775.8 195 775.6M357 779.8 353 782.4 348.4 789 345.8 796 344.6 804 344.8 811 346.5 819 349.8 827 353.7 833 359 837.5 362 838.6 365 839.1 380 837.8 398 838.6 401.9 838 404 837 405 835.9 405.4 834 403.8 830 400.2 826 387.1 815 382.3 810 379 805 372.9 792 369.6 787 366 783.3 363 781.1 360 779.8 357 779.8M486 755.3 485 756.2 484 758.4 482 767 480.6 778 480.3 788 480.8 795 482.3 802 484 806 485 807.3 487 808.3 489 807.5 490 806.4 492 802 493.2 795 493.5 787 492.5 776 490.4 765 488 757.2 487 755.7 486 755.3M194 767.8 192 772 190.9 777 190.1 785 190.1 793 190.7 800 192 806.3 194 810.5 196 811.3 198 809 199.8 803 200.8 795 200.9 786 200 777.4 198.4 771 196 767.3 195 767.2 194 767.8M357 774.8 355 775.5 353 777.2 345.2 786 341.7 794 340.3 802 340.5 810 342.7 819 347.6 831 353 839.7 356 842.9 359 845 362 846.4 366 847 371 846.4 383 843.1 404 843.2 408 842.5 411 841 412.5 839 412.6 836 411.5 833 409.4 830 404.4 825 391 814 386.2 809 382.2 803 375.4 790 370.1 783 362 776.3 359 775 357 774.8M486 749 485 749.6 483.4 753 480.8 765 478.7 781 478.4 793 479.4 803 481.4 810 484 814.6 486 816.2 488 816.6 490 815.8 491.9 814 494.4 809 496 802 496.4 793 495.3 781 492.5 766 489 752.9 487.5 750 486 749.0M194 759.6 191.4 764 189.4 772 188.2 782 188.1 793 188.9 803 190.8 812 193 817 194 818.2 196 819 197.8 818 199 816.5 201.7 809 203.3 798 203.5 787 202.4 775 200 765.2 197 759.8 195 759.1 194 759.6M356 767.5 349 774.9 347 775.3 342 773.2 340 774.1 338.3 777 337 781 335 794 334.7 811 337 827.5 339.4 834 349.1 849 352.1 852 357 854.7 363 856.2 369 856.4 377.2 855 391 849.8 411 848.7 415 847.8 418 846.3 420 843.8 420.5 840 419.3 836 416 831 410.1 825 396.8 814 392 809 388.6 804 381.1 790 375 782 360 768.8 358 767.6 356 767.5M482.4 747 475.4 782 474.3 792 474.4 802 476.2 813 479.2 821 481 824 484 827.1 486 828.3 489 828.8 491 828.3 493 827 496 822.1 499.5 809 500.5 798 500 788 498.4 777 490 747.0M194 749.6 192 751.7 190.3 755 187.5 765 185.8 779 185.5 794 186.7 807 189.2 818 191 822.4 193 825.5 195 827.2 197 827.7 199 827 202 824 206.8 815 209.3 805 209.9 793 209.3 786 207.6 777 202.3 758 200.1 753 198 750.2 196 749.1 194 749.6M340 750.9 337 754.3 334.2 763 332.2 775 330.6 791 330 810 330.4 830 331.2 842 330.4 852 331 855 332.2 857 334.4 859 337 860.1 345 860.3 361 863.2 370 863.5 380 862.4 400 858.5 421 856.3 426.3 855 430.1 853 432 850 432 847 430.4 842 427.1 836 420.6 828 404.8 814 400.1 809 397 804 389.7 789 384 780.9 379 776 367 766.6 364 763 359 755.3 356 752.7 354 752.8 352.8 754 350.3 765 349 766.7 348 766.4 346.9 764 345.9 756 345 753.1 343 751 340 750.9M568 766.3 563 773.1 560 775 557 774 552 769.6 551 769.4 550 770 549.7 772 552.1 782 552.5 791 551.3 800 550 803.2 549 804.2 548 804.2 547 803.3 543 795 542 795.5 537 802.4 535 802.8 534 802.2 531.5 798 529 791 528 789.7 527 790.2 526 792.4 525.5 796 525.9 800 527 803 530 808.4 534 814 536.8 817 540 819.3 544 820.8 556 823 562 822.7 571 821 578.9 818 585.7 814 591.2 809 594.7 804 596.3 800 597.1 796 596.9 792 595.7 789 591 784.1 585 776 583 775.8 579 777.4 577 776.7 575 774.7 570 766.6 569 766 568 766.3M563 807.5 565 807.4 566.7 810 566.5 813 565 814.8 563 814.6 561.4 812 561.7 809 563 807.5M239 823.7 235.8 825 233 826.9 229.9 831 229 836 230.2 842 233 847.1 235 849.2 238 851.2 244 852.8 250.1 852 254 849.5 256.5 845 257.2 839 256 832.4 253 827.6 249 824.6 244 823.2 239 823.7M183.9 747 183 750.2M328.6 747 324 780.1 318.2 813 314 827 314 829 315 831 320.6 838 321.4 842 320 845.1 316 847.9 311 849.5 305 850 297 848.9 289.5 845 285.8 841 282.6 832 280.4 828 274.8 821 264 812.6 254 803.9 250 801.5 243 798.6 240 796.4 238 793.1 233 781.1 224.2 770 220 763 217.1 756 214.5 747.0M476.7 747 470.5 760 467.6 768 465.5 778 464.7 789 465.3 804 467.2 819 468.5 823 473.7 832 474.6 835 474.7 838 473.7 841 471 843.9 467 845.5 463 845.9 458 845.3 453 843.9 449 841.9 445 839 423.8 817 419.7 812 416 806.3 411.8 797 409.3 787 409 779 410.4 758 409.6 752 408 748.8 407 748.4 406 748.7 404.1 751 399.1 766 398 767.5 396 768.1 393 766.6 383 758.4 372 752.3 370 750.4 367.8 747.0M525.9 747 523.9 760 522.6 764 521 767 520 767.9 518 767.8 514 764.5 512.7 766 511.2 773 509.2 791 509.1 798 510.2 803 512.7 808 518.2 816 519.8 821 519.7 827 516.6 839 516.9 843 518 845.6 521 847.1 527 847.1 540 845.7 554 843.4 577 837.7 599 829.7M563.8 747 562 755.5 561 757.4 560 758 559 757.4 558 755.7 556.2 747.0M583.2 747 580.6 757 579 759.4 578 759.7 577 758.9 575.6 756 574 747.0M597.9 747 596.6 755 595.2 760 594 762.4 593 763.4 592 763.5 590.5 762 589 758.6 586.4 747.0M183 816.3 187.4 827 191 833.6 195 838.4 202 844 208 854.1 211 858 214.8 861 220 863.4 227 865.5 235 867 243 867.6 252 867.4 280 862.6 291 862.1 302 862.8 322 865.3 336 869.4 346 869 360 870.1 369 870.2 404 866.8 438 864.5 466 861.2 485 860.2 492 859.1 497 857 498.8 855 499.9 852 501.6 821 505.8 799 505.5 791 502.5 769 500 754.9 497.9 747.0M291 748.7 289 754.1 287.9 761 287.1 772 287 785 287.7 801 288.9 813 290 818.4 291 820.5 292 820.7 294 817 296.4 806 297.6 794 297.9 780 297.2 766 295.6 755 294 750 293 748.4 292 748 291 748.7M183 841.4 186 845 188 848.6 194.8 866 197.8 870 201 872.6 206 875 213 876.7 240 878.3 301 876.6 324 876.9 337 878.6 347 877.7 370 877.6 412 874.9 474 874.5 494 873.8 506 871.9 522 871.2 539.2 868 554 863.6 599 847.6M265 752.8 266 752.3 267.5 753 269.8 757 271.5 764 272.1 772 271.8 780 270.6 787 268.8 791 267 792.7 266 792.7 264 791.1 262.2 787 261.1 782 260.5 775 260.6 768 261.5 761 263 755.8 265 752.8M426 754.7 428 754.8 430.2 757 434.7 768 444.6 784 448.6 793 450.3 800 450.4 806 449 810.5 446 813.1 443 813.4 440 812.6 436 810.4 432 807 424.8 798 421.5 792 419.5 787 417.7 778 418.4 769 420 763.3 422 758.9 424 756 426 754.7M183 881.8 188 882.4 206 886.2 229 887.3 322 886.5 336 887.2 347 886.2 413 883.8 472 885 507 884.5 545 886.4 552 885.7 559 883.8 584 872 599 867.0M427 777.4 430 777.5 433 779.3 436 782.3 439.3 787 441.5 792 442.5 796 442.3 800 441 802 438 802.5 435 801.1 431 797.3 428.1 793 425.9 788 425 783 425.2 780 427 777.4M183 893.8 206 895.5 219 895.9 335 895.5 386 892.8 410 892.3 502 895.1 516 897.1 527.7 901 537 906.8 545.4 915.0M183 903.7 217 904.5 298 904.3 336 903.7 392 900.9 423 901.1 484 903.6 500 905 507 906.3 514 908.4 520 911.3 525.6 915.0" fill="none" stroke="#000" stroke-width="1.05" stroke-linejoin="round"/><clipPath id="coi747"><path d="M183.0 915 L183.0 742.0 L185.0 743.4 L187.0 764.0 L189.0 777.6 L191.0 787.8 L193.0 795.9 L195.0 802.6 L197.0 808.4 L199.0 813.5 L201.0 818.0 L203.0 822.0 L205.0 825.7 L207.0 829.1 L209.0 832.2 L211.0 835.1 L213.0 837.8 L215.0 840.3 L217.0 842.7 L219.0 844.9 L221.0 847.0 L223.0 849.0 L225.0 851.0 L227.0 852.8 L229.0 854.6 L231.0 856.2 L233.0 857.9 L235.0 859.4 L237.0 860.9 L239.0 862.4 L241.0 863.7 L243.0 865.1 L245.0 866.4 L247.0 867.7 L249.0 868.9 L251.0 870.1 L253.0 871.2 L255.0 872.3 L257.0 873.4 L259.0 874.5 L261.0 875.5 L263.0 876.5 L265.0 877.5 L267.0 878.5 L269.0 879.4 L271.0 880.4 L273.0 881.3 L275.0 882.1 L277.0 883.0 L279.0 883.8 L281.0 884.7 L283.0 885.5 L285.0 886.3 L287.0 887.0 L289.0 887.8 L291.0 888.5 L293.0 889.3 L295.0 890.0 L297.0 890.7 L299.0 891.4 L301.0 892.1 L303.0 892.8 L305.0 893.4 L307.0 894.1 L309.0 894.7 L311.0 895.3 L313.0 896.0 L315.0 896.6 L317.0 897.2 L319.0 897.8 L321.0 898.4 L323.0 898.9 L325.0 899.5 L327.0 900.1 L329.0 900.6 L331.0 901.2 L333.0 901.7 L335.0 902.2 L337.0 902.8 L339.0 903.3 L341.0 903.8 L343.0 904.3 L345.0 904.8 L347.0 905.3 L349.0 905.8 L351.0 906.3 L353.0 906.7 L355.0 907.2 L357.0 907.7 L359.0 908.1 L361.0 908.6 L363.0 909.0 L365.0 909.5 L367.0 909.9 L369.0 910.3 L371.0 910.8 L373.0 911.2 L375.0 911.6 L377.0 912.0 L379.0 912.5 L381.0 912.9 L383.0 913.3 L385.0 913.7 L387.0 914.1 L389.0 914.5 L391.0 914.8 L393.0 914.5 L395.0 914.1 L397.0 913.7 L399.0 913.3 L401.0 912.9 L403.0 912.5 L405.0 912.0 L407.0 911.6 L409.0 911.2 L411.0 910.8 L413.0 910.3 L415.0 909.9 L417.0 909.5 L419.0 909.0 L421.0 908.6 L423.0 908.1 L425.0 907.7 L427.0 907.2 L429.0 906.7 L431.0 906.3 L433.0 905.8 L435.0 905.3 L437.0 904.8 L439.0 904.3 L441.0 903.8 L443.0 903.3 L445.0 902.8 L447.0 902.2 L449.0 901.7 L451.0 901.2 L453.0 900.6 L455.0 900.1 L457.0 899.5 L459.0 898.9 L461.0 898.4 L463.0 897.8 L465.0 897.2 L467.0 896.6 L469.0 896.0 L471.0 895.3 L473.0 894.7 L475.0 894.1 L477.0 893.4 L479.0 892.8 L481.0 892.1 L483.0 891.4 L485.0 890.7 L487.0 890.0 L489.0 889.3 L491.0 888.5 L493.0 887.8 L495.0 887.0 L497.0 886.3 L499.0 885.5 L501.0 884.7 L503.0 883.8 L505.0 883.0 L507.0 882.1 L509.0 881.3 L511.0 880.4 L513.0 879.4 L515.0 878.5 L517.0 877.5 L519.0 876.5 L521.0 875.5 L523.0 874.5 L525.0 873.4 L527.0 872.3 L529.0 871.2 L531.0 870.1 L533.0 868.9 L535.0 867.7 L537.0 866.4 L539.0 865.1 L541.0 863.7 L543.0 862.4 L545.0 860.9 L547.0 859.4 L549.0 857.9 L551.0 856.2 L553.0 854.6 L555.0 852.8 L557.0 851.0 L559.0 849.0 L561.0 847.0 L563.0 844.9 L565.0 842.7 L567.0 840.3 L569.0 837.8 L571.0 835.1 L573.0 832.2 L575.0 829.1 L577.0 825.7 L579.0 822.0 L581.0 818.0 L583.0 813.5 L585.0 808.4 L587.0 802.6 L589.0 795.9 L591.0 787.8 L593.0 777.6 L595.0 764.0 L597.0 743.4 L599.0 742.0 L599.0 915Z"/></clipPath><g clip-path="url(#coi747)"><path d="M-174.6 915L-4.6 731.4M-174.6 915L-344.6 731.4M-147.1 915L22.9 731.4M-147.1 915L-317.1 731.4M-119.7 915L50.3 731.4M-119.7 915L-289.7 731.4M-92.2 915L77.8 731.4M-92.2 915L-262.2 731.4M-64.8 915L105.2 731.4M-64.8 915L-234.8 731.4M-37.3 915L132.7 731.4M-37.3 915L-207.3 731.4M-9.9 915L160.1 731.4M-9.9 915L-179.9 731.4M17.5 915L187.5 731.4M17.5 915L-152.5 731.4M45.0 915L215.0 731.4M45.0 915L-125.0 731.4M72.4 915L242.4 731.4M72.4 915L-97.6 731.4M99.9 915L269.9 731.4M99.9 915L-70.1 731.4M127.3 915L297.4 731.4M127.3 915L-42.7 731.4M154.8 915L324.8 731.4M154.8 915L-15.2 731.4M182.2 915L352.2 731.4M182.2 915L12.2 731.4M209.7 915L379.7 731.4M209.7 915L39.7 731.4M237.1 915L407.1 731.4M237.1 915L67.1 731.4M264.6 915L434.6 731.4M264.6 915L94.6 731.4M292.0 915L462.0 731.4M292.0 915L122.0 731.4M319.5 915L489.5 731.4M319.5 915L149.5 731.4M346.9 915L517.0 731.4M346.9 915L176.9 731.4M374.4 915L544.4 731.4M374.4 915L204.4 731.4M401.9 915L571.9 731.4M401.9 915L231.9 731.4M429.3 915L599.3 731.4M429.3 915L259.3 731.4M456.8 915L626.8 731.4M456.8 915L286.8 731.4M484.2 915L654.2 731.4M484.2 915L314.2 731.4M511.6 915L681.6 731.4M511.6 915L341.6 731.4M539.1 915L709.1 731.4M539.1 915L369.1 731.4M566.5 915L736.5 731.4M566.5 915L396.5 731.4M594.0 915L764.0 731.4M594.0 915L424.0 731.4M621.5 915L791.5 731.4M621.5 915L451.5 731.4M648.9 915L818.9 731.4M648.9 915L478.9 731.4M676.3 915L846.3 731.4M676.3 915L506.3 731.4M703.8 915L873.8 731.4M703.8 915L533.8 731.4M731.2 915L901.2 731.4M731.2 915L561.2 731.4M758.7 915L928.7 731.4M758.7 915L588.7 731.4M786.1 915L956.1 731.4M786.1 915L616.1 731.4" stroke="#000" stroke-width="0.9" fill="none"/></g><polyline points="183.0,742.0 185.0,743.4 187.0,764.0 189.0,777.6 191.0,787.8 193.0,795.9 195.0,802.6 197.0,808.4 199.0,813.5 201.0,818.0 203.0,822.0 205.0,825.7 207.0,829.1 209.0,832.2 211.0,835.1 213.0,837.8 215.0,840.3 217.0,842.7 219.0,844.9 221.0,847.0 223.0,849.0 225.0,851.0 227.0,852.8 229.0,854.6 231.0,856.2 233.0,857.9 235.0,859.4 237.0,860.9 239.0,862.4 241.0,863.7 243.0,865.1 245.0,866.4 247.0,867.7 249.0,868.9 251.0,870.1 253.0,871.2 255.0,872.3 257.0,873.4 259.0,874.5 261.0,875.5 263.0,876.5 265.0,877.5 267.0,878.5 269.0,879.4 271.0,880.4 273.0,881.3 275.0,882.1 277.0,883.0 279.0,883.8 281.0,884.7 283.0,885.5 285.0,886.3 287.0,887.0 289.0,887.8 291.0,888.5 293.0,889.3 295.0,890.0 297.0,890.7 299.0,891.4 301.0,892.1 303.0,892.8 305.0,893.4 307.0,894.1 309.0,894.7 311.0,895.3 313.0,896.0 315.0,896.6 317.0,897.2 319.0,897.8 321.0,898.4 323.0,898.9 325.0,899.5 327.0,900.1 329.0,900.6 331.0,901.2 333.0,901.7 335.0,902.2 337.0,902.8 339.0,903.3 341.0,903.8 343.0,904.3 345.0,904.8 347.0,905.3 349.0,905.8 351.0,906.3 353.0,906.7 355.0,907.2 357.0,907.7 359.0,908.1 361.0,908.6 363.0,909.0 365.0,909.5 367.0,909.9 369.0,910.3 371.0,910.8 373.0,911.2 375.0,911.6 377.0,912.0 379.0,912.5 381.0,912.9 383.0,913.3 385.0,913.7 387.0,914.1 389.0,914.5 391.0,914.8 393.0,914.5 395.0,914.1 397.0,913.7 399.0,913.3 401.0,912.9 403.0,912.5 405.0,912.0 407.0,911.6 409.0,911.2 411.0,910.8 413.0,910.3 415.0,909.9 417.0,909.5 419.0,909.0 421.0,908.6 423.0,908.1 425.0,907.7 427.0,907.2 429.0,906.7 431.0,906.3 433.0,905.8 435.0,905.3 437.0,904.8 439.0,904.3 441.0,903.8 443.0,903.3 445.0,902.8 447.0,902.2 449.0,901.7 451.0,901.2 453.0,900.6 455.0,900.1 457.0,899.5 459.0,898.9 461.0,898.4 463.0,897.8 465.0,897.2 467.0,896.6 469.0,896.0 471.0,895.3 473.0,894.7 475.0,894.1 477.0,893.4 479.0,892.8 481.0,892.1 483.0,891.4 485.0,890.7 487.0,890.0 489.0,889.3 491.0,888.5 493.0,887.8 495.0,887.0 497.0,886.3 499.0,885.5 501.0,884.7 503.0,883.8 505.0,883.0 507.0,882.1 509.0,881.3 511.0,880.4 513.0,879.4 515.0,878.5 517.0,877.5 519.0,876.5 521.0,875.5 523.0,874.5 525.0,873.4 527.0,872.3 529.0,871.2 531.0,870.1 533.0,868.9 535.0,867.7 537.0,866.4 539.0,865.1 541.0,863.7 543.0,862.4 545.0,860.9 547.0,859.4 549.0,857.9 551.0,856.2 553.0,854.6 555.0,852.8 557.0,851.0 559.0,849.0 561.0,847.0 563.0,844.9 565.0,842.7 567.0,840.3 569.0,837.8 571.0,835.1 573.0,832.2 575.0,829.1 577.0,825.7 579.0,822.0 581.0,818.0 583.0,813.5 585.0,808.4 587.0,802.6 589.0,795.9 591.0,787.8 593.0,777.6 595.0,764.0 597.0,743.4 599.0,742.0" fill="none" stroke="#000" stroke-width="0.9"/><path d="M349.9 747v168M372.8 747v168" stroke="#222" stroke-width="1" stroke-dasharray="5 4" fill="none"/></g><rect x="183.0" y="264" width="416.0" height="168" fill="none" stroke="#333" stroke-width="1.1"/><path d="M251.7 432v-9M251.7 264v9M390.4 432v-9M390.4 264v9M529.7 432v-9M529.7 264v9M205.4 432v-4M205.4 264v4M298.1 432v-4M298.1 264v4M344.4 432v-4M344.4 264v4M437.1 432v-4M437.1 264v4M483.4 432v-4M483.4 264v4M576.0 432v-4M576.0 264v4" stroke="#333" stroke-width="1" fill="none"/><rect x="183.0" y="505.3" width="416.0" height="167.99999999999994" fill="none" stroke="#333" stroke-width="1.1"/><path d="M251.7 673.3v-9M251.7 505.3v9M390.4 673.3v-9M390.4 505.3v9M529.7 673.3v-9M529.7 505.3v9M205.4 673.3v-4M205.4 505.3v4M298.1 673.3v-4M298.1 505.3v4M344.4 673.3v-4M344.4 505.3v4M437.1 673.3v-4M437.1 505.3v4M483.4 673.3v-4M483.4 505.3v4M576.0 673.3v-4M576.0 505.3v4" stroke="#333" stroke-width="1" fill="none"/><rect x="183.0" y="747.3" width="416.0" height="168.0" fill="none" stroke="#333" stroke-width="1.1"/><path d="M251.7 915.3v-9M251.7 747.3v9M390.4 915.3v-9M390.4 747.3v9M529.7 915.3v-9M529.7 747.3v9M205.4 915.3v-4M205.4 747.3v4M298.1 915.3v-4M298.1 747.3v4M344.4 915.3v-4M344.4 747.3v4M437.1 915.3v-4M437.1 747.3v4M483.4 915.3v-4M483.4 747.3v4M576.0 915.3v-4M576.0 747.3v4" stroke="#333" stroke-width="1" fill="none"/><path d="M183.0 264h7M599.0 264h-7M183.0 292h7M599.0 292h-7M183.0 320h7M599.0 320h-7M183.0 348h7M599.0 348h-7M183.0 376h7M599.0 376h-7M183.0 404h7M599.0 404h-7M183.0 432h7M599.0 432h-7" stroke="#333" stroke-width="1" fill="none"/><text x="178.6" y="270.8" font-size="10" fill="#3a3a3a" font-family='"Liberation Sans", sans-serif' text-anchor="end" textLength="5.6" lengthAdjust="spacingAndGlyphs">1</text><text x="178.6" y="296.0" font-size="10" fill="#3a3a3a" font-family='"Liberation Sans", sans-serif' text-anchor="end" textLength="5.6" lengthAdjust="spacingAndGlyphs">2</text><text x="178.6" y="323.8" font-size="10" fill="#3a3a3a" font-family='"Liberation Sans", sans-serif' text-anchor="end" textLength="5.6" lengthAdjust="spacingAndGlyphs">4</text><text x="178.6" y="350.8" font-size="10" fill="#3a3a3a" font-family='"Liberation Sans", sans-serif' text-anchor="end" textLength="5.6" lengthAdjust="spacingAndGlyphs">8</text><text x="178.6" y="378.3" font-size="10" fill="#3a3a3a" font-family='"Liberation Sans", sans-serif' text-anchor="end" textLength="11.799999999999999" lengthAdjust="spacingAndGlyphs">16</text><text x="178.6" y="405.9" font-size="10" fill="#3a3a3a" font-family='"Liberation Sans", sans-serif' text-anchor="end" textLength="11.799999999999999" lengthAdjust="spacingAndGlyphs">32</text><text x="178.6" y="432.5" font-size="10" fill="#3a3a3a" font-family='"Liberation Sans", sans-serif' text-anchor="end" textLength="11.799999999999999" lengthAdjust="spacingAndGlyphs">64</text><text x="156.0" y="348.0" font-size="10.2" fill="#333" font-family='"Liberation Sans", sans-serif' text-anchor="middle" textLength="48.5" lengthAdjust="spacingAndGlyphs" transform="rotate(-90 156.0 348.0)">Scale (h)</text><path d="M183.0 505.3h7M599.0 505.3h-7M183.0 533.3h7M599.0 533.3h-7M183.0 561.3h7M599.0 561.3h-7M183.0 589.3h7M599.0 589.3h-7M183.0 617.3h7M599.0 617.3h-7M183.0 645.3h7M599.0 645.3h-7M183.0 673.3h7M599.0 673.3h-7" stroke="#333" stroke-width="1" fill="none"/><text x="178.6" y="512.1" font-size="10" fill="#3a3a3a" font-family='"Liberation Sans", sans-serif' text-anchor="end" textLength="5.6" lengthAdjust="spacingAndGlyphs">1</text><text x="178.6" y="537.3" font-size="10" fill="#3a3a3a" font-family='"Liberation Sans", sans-serif' text-anchor="end" textLength="5.6" lengthAdjust="spacingAndGlyphs">2</text><text x="178.6" y="565.1" font-size="10" fill="#3a3a3a" font-family='"Liberation Sans", sans-serif' text-anchor="end" textLength="5.6" lengthAdjust="spacingAndGlyphs">4</text><text x="178.6" y="592.1" font-size="10" fill="#3a3a3a" font-family='"Liberation Sans", sans-serif' text-anchor="end" textLength="5.6" lengthAdjust="spacingAndGlyphs">8</text><text x="178.6" y="619.6" font-size="10" fill="#3a3a3a" font-family='"Liberation Sans", sans-serif' text-anchor="end" textLength="11.799999999999999" lengthAdjust="spacingAndGlyphs">16</text><text x="178.6" y="647.2" font-size="10" fill="#3a3a3a" font-family='"Liberation Sans", sans-serif' text-anchor="end" textLength="11.799999999999999" lengthAdjust="spacingAndGlyphs">32</text><text x="178.6" y="673.8" font-size="10" fill="#3a3a3a" font-family='"Liberation Sans", sans-serif' text-anchor="end" textLength="11.799999999999999" lengthAdjust="spacingAndGlyphs">64</text><text x="156.0" y="589.3" font-size="10.2" fill="#333" font-family='"Liberation Sans", sans-serif' text-anchor="middle" textLength="48.5" lengthAdjust="spacingAndGlyphs" transform="rotate(-90 156.0 589.3)">Scale (h)</text><path d="M183.0 747.3h7M599.0 747.3h-7M183.0 775.3h7M599.0 775.3h-7M183.0 803.3h7M599.0 803.3h-7M183.0 831.3h7M599.0 831.3h-7M183.0 859.3h7M599.0 859.3h-7M183.0 887.3h7M599.0 887.3h-7M183.0 915.3h7M599.0 915.3h-7" stroke="#333" stroke-width="1" fill="none"/><text x="178.6" y="754.1" font-size="10" fill="#3a3a3a" font-family='"Liberation Sans", sans-serif' text-anchor="end" textLength="5.6" lengthAdjust="spacingAndGlyphs">1</text><text x="178.6" y="779.3" font-size="10" fill="#3a3a3a" font-family='"Liberation Sans", sans-serif' text-anchor="end" textLength="5.6" lengthAdjust="spacingAndGlyphs">2</text><text x="178.6" y="807.1" font-size="10" fill="#3a3a3a" font-family='"Liberation Sans", sans-serif' text-anchor="end" textLength="5.6" lengthAdjust="spacingAndGlyphs">4</text><text x="178.6" y="834.1" font-size="10" fill="#3a3a3a" font-family='"Liberation Sans", sans-serif' text-anchor="end" textLength="5.6" lengthAdjust="spacingAndGlyphs">8</text><text x="178.6" y="861.6" font-size="10" fill="#3a3a3a" font-family='"Liberation Sans", sans-serif' text-anchor="end" textLength="11.799999999999999" lengthAdjust="spacingAndGlyphs">16</text><text x="178.6" y="889.2" font-size="10" fill="#3a3a3a" font-family='"Liberation Sans", sans-serif' text-anchor="end" textLength="11.799999999999999" lengthAdjust="spacingAndGlyphs">32</text><text x="178.6" y="915.8" font-size="10" fill="#3a3a3a" font-family='"Liberation Sans", sans-serif' text-anchor="end" textLength="11.799999999999999" lengthAdjust="spacingAndGlyphs">64</text><text x="156.0" y="831.3" font-size="10.2" fill="#333" font-family='"Liberation Sans", sans-serif' text-anchor="middle" textLength="48.5" lengthAdjust="spacingAndGlyphs" transform="rotate(-90 156.0 831.3)">Scale (h)</text><text x="227.0" y="447.8" font-size="10.2" fill="#333" font-family='"Liberation Sans", sans-serif' textLength="13.6" lengthAdjust="spacingAndGlyphs">08</text><text x="247.0" y="447.8" font-size="10.2" fill="#333" font-family='"Liberation Sans", sans-serif' textLength="29.0" lengthAdjust="spacingAndGlyphs">12:00</text><text x="365.7" y="447.8" font-size="10.2" fill="#333" font-family='"Liberation Sans", sans-serif' textLength="13.6" lengthAdjust="spacingAndGlyphs">09</text><text x="385.7" y="447.8" font-size="10.2" fill="#333" font-family='"Liberation Sans", sans-serif' textLength="29.0" lengthAdjust="spacingAndGlyphs">12:00</text><text x="505.0" y="447.8" font-size="10.2" fill="#333" font-family='"Liberation Sans", sans-serif' textLength="13.6" lengthAdjust="spacingAndGlyphs">10</text><text x="525.0" y="447.8" font-size="10.2" fill="#333" font-family='"Liberation Sans", sans-serif' textLength="29.0" lengthAdjust="spacingAndGlyphs">12:00</text><text x="390.5" y="460.5" font-size="10.2" fill="#333" font-family='"Liberation Sans", sans-serif' text-anchor="middle" textLength="170.3" lengthAdjust="spacingAndGlyphs">Time (dd hh:mm on May 1997)</text><text x="227.0" y="689.3" font-size="10.2" fill="#333" font-family='"Liberation Sans", sans-serif' textLength="13.6" lengthAdjust="spacingAndGlyphs">08</text><text x="247.0" y="689.3" font-size="10.2" fill="#333" font-family='"Liberation Sans", sans-serif' textLength="29.0" lengthAdjust="spacingAndGlyphs">12:00</text><text x="365.7" y="689.3" font-size="10.2" fill="#333" font-family='"Liberation Sans", sans-serif' textLength="13.6" lengthAdjust="spacingAndGlyphs">09</text><text x="385.7" y="689.3" font-size="10.2" fill="#333" font-family='"Liberation Sans", sans-serif' textLength="29.0" lengthAdjust="spacingAndGlyphs">12:00</text><text x="505.0" y="689.3" font-size="10.2" fill="#333" font-family='"Liberation Sans", sans-serif' textLength="13.6" lengthAdjust="spacingAndGlyphs">10</text><text x="525.0" y="689.3" font-size="10.2" fill="#333" font-family='"Liberation Sans", sans-serif' textLength="29.0" lengthAdjust="spacingAndGlyphs">12:00</text><text x="390.5" y="701.8" font-size="10.2" fill="#333" font-family='"Liberation Sans", sans-serif' text-anchor="middle" textLength="170.3" lengthAdjust="spacingAndGlyphs">Time (dd hh:mm on May 1997)</text><text x="227.0" y="931.5" font-size="10.2" fill="#333" font-family='"Liberation Sans", sans-serif' textLength="13.6" lengthAdjust="spacingAndGlyphs">08</text><text x="247.0" y="931.5" font-size="10.2" fill="#333" font-family='"Liberation Sans", sans-serif' textLength="29.0" lengthAdjust="spacingAndGlyphs">12:00</text><text x="365.7" y="931.5" font-size="10.2" fill="#333" font-family='"Liberation Sans", sans-serif' textLength="13.6" lengthAdjust="spacingAndGlyphs">09</text><text x="385.7" y="931.5" font-size="10.2" fill="#333" font-family='"Liberation Sans", sans-serif' textLength="29.0" lengthAdjust="spacingAndGlyphs">12:00</text><text x="505.0" y="931.5" font-size="10.2" fill="#333" font-family='"Liberation Sans", sans-serif' textLength="13.6" lengthAdjust="spacingAndGlyphs">10</text><text x="525.0" y="931.5" font-size="10.2" fill="#333" font-family='"Liberation Sans", sans-serif' textLength="29.0" lengthAdjust="spacingAndGlyphs">12:00</text><text x="390.5" y="944.0" font-size="10.2" fill="#333" font-family='"Liberation Sans", sans-serif' text-anchor="middle" textLength="170.3" lengthAdjust="spacingAndGlyphs">Time (dd hh:mm on May 1997)</text><text x="325.3" y="258.7" font-size="14.5" fill="#333" font-family='"Liberation Serif", serif' textLength="20" lengthAdjust="spacingAndGlyphs">(b)</text><text x="345.9" y="258.7" font-size="11.8" fill="#808080" font-family='"Liberation Sans", sans-serif' textLength="110" lengthAdjust="spacingAndGlyphs">Magnetic helicity</text><text x="325.3" y="499.3" font-size="14.5" fill="#333" font-family='"Liberation Serif", serif' textLength="17.4" lengthAdjust="spacingAndGlyphs">(c)</text><text x="354.7" y="499.3" font-size="11.8" fill="#808080" font-family='"Liberation Sans", sans-serif' textLength="92" lengthAdjust="spacingAndGlyphs">Cross−helicity</text><text x="321.9" y="739.7" font-size="14.5" fill="#333" font-family='"Liberation Serif", serif' textLength="20.2" lengthAdjust="spacingAndGlyphs">(d)</text><text x="348.8" y="739.7" font-size="11.8" fill="#808080" font-family='"Liberation Sans", sans-serif' textLength="104.5" lengthAdjust="spacingAndGlyphs">Residual energy</text><rect x="86.3" y="429.29" width="32.3" height="3.21" fill="#030003"/><rect x="86.3" y="426.48" width="32.3" height="3.21" fill="#0e000e"/><rect x="86.3" y="423.68" width="32.3" height="3.21" fill="#17001a"/><rect x="86.3" y="420.87" width="32.3" height="3.21" fill="#1f0025"/><rect x="86.3" y="418.06" width="32.3" height="3.21" fill="#25002c"/><rect x="86.3" y="415.25" width="32.3" height="3.21" fill="#2c0036"/><rect x="86.3" y="412.44" width="32.3" height="3.21" fill="#440052"/><rect x="86.3" y="409.63" width="32.3" height="3.21" fill="#53006c"/><rect x="86.3" y="406.83" width="32.3" height="3.21" fill="#580086"/><rect x="86.3" y="404.02" width="32.3" height="3.21" fill="#5a00a3"/><rect x="86.3" y="401.21" width="32.3" height="3.21" fill="#5a00c3"/><rect x="86.3" y="398.40" width="32.3" height="3.21" fill="#5900dc"/><rect x="86.3" y="395.59" width="32.3" height="3.21" fill="#5500e9"/><rect x="86.3" y="392.78" width="32.3" height="3.21" fill="#5100f6"/><rect x="86.3" y="389.98" width="32.3" height="3.21" fill="#5210fc"/><rect x="86.3" y="387.17" width="32.3" height="3.21" fill="#5526ff"/><rect x="86.3" y="384.36" width="32.3" height="3.21" fill="#5946fb"/><rect x="86.3" y="381.55" width="32.3" height="3.21" fill="#525cf8"/><rect x="86.3" y="378.74" width="32.3" height="3.21" fill="#476cf5"/><rect x="86.3" y="375.93" width="32.3" height="3.21" fill="#4080f2"/><rect x="86.3" y="373.12" width="32.3" height="3.21" fill="#3b93f1"/><rect x="86.3" y="370.32" width="32.3" height="3.21" fill="#37a6f3"/><rect x="86.3" y="367.51" width="32.3" height="3.21" fill="#33b8f4"/><rect x="86.3" y="364.70" width="32.3" height="3.21" fill="#2fcff8"/><rect x="86.3" y="361.89" width="32.3" height="3.21" fill="#2ae6fd"/><rect x="86.3" y="359.08" width="32.3" height="3.21" fill="#18f4e9"/><rect x="86.3" y="356.28" width="32.3" height="3.21" fill="#00fac6"/><rect x="86.3" y="353.47" width="32.3" height="3.21" fill="#00fdb0"/><rect x="86.3" y="350.66" width="32.3" height="3.21" fill="#00ff98"/><rect x="86.3" y="347.85" width="32.3" height="3.21" fill="#00ff7c"/><rect x="86.3" y="345.04" width="32.3" height="3.21" fill="#00ff5b"/><rect x="86.3" y="342.23" width="32.3" height="3.21" fill="#00ff36"/><rect x="86.3" y="339.43" width="32.3" height="3.21" fill="#00ff1a"/><rect x="86.3" y="336.62" width="32.3" height="3.21" fill="#00ff00"/><rect x="86.3" y="333.81" width="32.3" height="3.21" fill="#00ff00"/><rect x="86.3" y="331.00" width="32.3" height="3.21" fill="#00ff00"/><rect x="86.3" y="328.19" width="32.3" height="3.21" fill="#00ff00"/><rect x="86.3" y="325.38" width="32.3" height="3.21" fill="#00ff00"/><rect x="86.3" y="322.58" width="32.3" height="3.21" fill="#1eff00"/><rect x="86.3" y="319.77" width="32.3" height="3.21" fill="#57ff00"/><rect x="86.3" y="316.96" width="32.3" height="3.21" fill="#86ff00"/><rect x="86.3" y="314.15" width="32.3" height="3.21" fill="#a5ff00"/><rect x="86.3" y="311.34" width="32.3" height="3.21" fill="#beff00"/><rect x="86.3" y="308.53" width="32.3" height="3.21" fill="#d5ff00"/><rect x="86.3" y="305.73" width="32.3" height="3.21" fill="#ecff00"/><rect x="86.3" y="302.92" width="32.3" height="3.21" fill="#f5ea00"/><rect x="86.3" y="300.11" width="32.3" height="3.21" fill="#f8cd00"/><rect x="86.3" y="297.30" width="32.3" height="3.21" fill="#f8b300"/><rect x="86.3" y="294.49" width="32.3" height="3.21" fill="#f8a600"/><rect x="86.3" y="291.68" width="32.3" height="3.21" fill="#f99200"/><rect x="86.3" y="288.88" width="32.3" height="3.21" fill="#fa7500"/><rect x="86.3" y="286.07" width="32.3" height="3.21" fill="#f85800"/><rect x="86.3" y="283.26" width="32.3" height="3.21" fill="#f43a00"/><rect x="86.3" y="280.45" width="32.3" height="3.21" fill="#f01300"/><rect x="86.3" y="277.64" width="32.3" height="3.21" fill="#f00000"/><rect x="86.3" y="274.83" width="32.3" height="3.21" fill="#f00000"/><rect x="86.3" y="272.03" width="32.3" height="3.21" fill="#f00000"/><rect x="86.3" y="269.22" width="32.3" height="3.21" fill="#f00000"/><rect x="86.3" y="266.41" width="32.3" height="3.21" fill="#f00000"/><rect x="86.3" y="263.60" width="32.3" height="3.21" fill="#f00000"/><rect x="86.3" y="263.6" width="32.3" height="168.5" fill="none" stroke="#222" stroke-width="0.8"/><text x="71.8" y="270.8" font-size="10" fill="#3a3a3a" font-family='"Liberation Sans", sans-serif' text-anchor="end" textLength="43.2" lengthAdjust="spacingAndGlyphs">2.52×10</text><text x="73.6" y="266.2" font-size="6.6" fill="#3a3a3a" font-family='"Liberation Sans", sans-serif' textLength="8.7" lengthAdjust="spacingAndGlyphs">−2</text><text x="71.8" y="284.6" font-size="10" fill="#3a3a3a" font-family='"Liberation Sans", sans-serif' text-anchor="end" textLength="43.2" lengthAdjust="spacingAndGlyphs">1.70×10</text><text x="73.6" y="280.0" font-size="6.6" fill="#3a3a3a" font-family='"Liberation Sans", sans-serif' textLength="8.7" lengthAdjust="spacingAndGlyphs">−2</text><text x="71.8" y="301.7" font-size="10" fill="#3a3a3a" font-family='"Liberation Sans", sans-serif' text-anchor="end" textLength="43.2" lengthAdjust="spacingAndGlyphs">8.84×10</text><text x="73.6" y="297.1" font-size="6.6" fill="#3a3a3a" font-family='"Liberation Sans", sans-serif' textLength="8.7" lengthAdjust="spacingAndGlyphs">−3</text><text x="71.8" y="318.3" font-size="10" fill="#3a3a3a" font-family='"Liberation Sans", sans-serif' text-anchor="end" textLength="43.2" lengthAdjust="spacingAndGlyphs">6.59×10</text><text x="73.6" y="313.7" font-size="6.6" fill="#3a3a3a" font-family='"Liberation Sans", sans-serif' textLength="8.7" lengthAdjust="spacingAndGlyphs">−4</text><text x="71.8" y="334.9" font-size="10" fill="#3a3a3a" font-family='"Liberation Sans", sans-serif' text-anchor="end" textLength="50.5" lengthAdjust="spacingAndGlyphs">−7.52×10</text><text x="73.6" y="330.3" font-size="6.6" fill="#3a3a3a" font-family='"Liberation Sans", sans-serif' textLength="8.7" lengthAdjust="spacingAndGlyphs">−3</text><text x="71.8" y="352.4" font-size="10" fill="#3a3a3a" font-family='"Liberation Sans", sans-serif' text-anchor="end" textLength="50.5" lengthAdjust="spacingAndGlyphs">−1.57×10</text><text x="73.6" y="347.8" font-size="6.6" fill="#3a3a3a" font-family='"Liberation Sans", sans-serif' textLength="8.7" lengthAdjust="spacingAndGlyphs">−2</text><text x="71.8" y="369.3" font-size="10" fill="#3a3a3a" font-family='"Liberation Sans", sans-serif' text-anchor="end" textLength="50.5" lengthAdjust="spacingAndGlyphs">−2.39×10</text><text x="73.6" y="364.7" font-size="6.6" fill="#3a3a3a" font-family='"Liberation Sans", sans-serif' textLength="8.7" lengthAdjust="spacingAndGlyphs">−2</text><text x="71.8" y="385.6" font-size="10" fill="#3a3a3a" font-family='"Liberation Sans", sans-serif' text-anchor="end" textLength="50.5" lengthAdjust="spacingAndGlyphs">−3.21×10</text><text x="73.6" y="381.0" font-size="6.6" fill="#3a3a3a" font-family='"Liberation Sans", sans-serif' textLength="8.7" lengthAdjust="spacingAndGlyphs">−2</text><text x="71.8" y="402.5" font-size="10" fill="#3a3a3a" font-family='"Liberation Sans", sans-serif' text-anchor="end" textLength="50.5" lengthAdjust="spacingAndGlyphs">−4.02×10</text><text x="73.6" y="397.9" font-size="6.6" fill="#3a3a3a" font-family='"Liberation Sans", sans-serif' textLength="8.7" lengthAdjust="spacingAndGlyphs">−2</text><text x="71.8" y="419.3" font-size="10" fill="#3a3a3a" font-family='"Liberation Sans", sans-serif' text-anchor="end" textLength="50.5" lengthAdjust="spacingAndGlyphs">−4.84×10</text><text x="73.6" y="414.7" font-size="6.6" fill="#3a3a3a" font-family='"Liberation Sans", sans-serif' textLength="8.7" lengthAdjust="spacingAndGlyphs">−2</text><text x="71.8" y="432.7" font-size="10" fill="#3a3a3a" font-family='"Liberation Sans", sans-serif' text-anchor="end" textLength="50.5" lengthAdjust="spacingAndGlyphs">−5.66×10</text><text x="73.6" y="428.1" font-size="6.6" fill="#3a3a3a" font-family='"Liberation Sans", sans-serif' textLength="8.7" lengthAdjust="spacingAndGlyphs">−2</text><text x="10.1" y="432.9" font-size="9.7" fill="#3a3a3a" font-family='"Liberation Sans", sans-serif' textLength="169.5" lengthAdjust="spacingAndGlyphs" transform="rotate(-90 10.1 432.9)">Magnetic helicity (nT<tspan font-size="6" dy="-4">2</tspan><tspan font-size="10" dy="4"> km Hz</tspan><tspan font-size="5.5" dy="-4">1/4</tspan><tspan font-size="10" dy="4">)</tspan></text><rect x="86.3" y="670.49" width="32.3" height="3.21" fill="#030003"/><rect x="86.3" y="667.68" width="32.3" height="3.21" fill="#0e000e"/><rect x="86.3" y="664.88" width="32.3" height="3.21" fill="#17001a"/><rect x="86.3" y="662.07" width="32.3" height="3.21" fill="#1f0025"/><rect x="86.3" y="659.26" width="32.3" height="3.21" fill="#25002c"/><rect x="86.3" y="656.45" width="32.3" height="3.21" fill="#2c0036"/><rect x="86.3" y="653.64" width="32.3" height="3.21" fill="#440052"/><rect x="86.3" y="650.83" width="32.3" height="3.21" fill="#53006c"/><rect x="86.3" y="648.02" width="32.3" height="3.21" fill="#580086"/><rect x="86.3" y="645.22" width="32.3" height="3.21" fill="#5a00a3"/><rect x="86.3" y="642.41" width="32.3" height="3.21" fill="#5a00c3"/><rect x="86.3" y="639.60" width="32.3" height="3.21" fill="#5900dc"/><rect x="86.3" y="636.79" width="32.3" height="3.21" fill="#5500e9"/><rect x="86.3" y="633.98" width="32.3" height="3.21" fill="#5100f6"/><rect x="86.3" y="631.17" width="32.3" height="3.21" fill="#5210fc"/><rect x="86.3" y="628.37" width="32.3" height="3.21" fill="#5526ff"/><rect x="86.3" y="625.56" width="32.3" height="3.21" fill="#5946fb"/><rect x="86.3" y="622.75" width="32.3" height="3.21" fill="#525cf8"/><rect x="86.3" y="619.94" width="32.3" height="3.21" fill="#476cf5"/><rect x="86.3" y="617.13" width="32.3" height="3.21" fill="#4080f2"/><rect x="86.3" y="614.32" width="32.3" height="3.21" fill="#3b93f1"/><rect x="86.3" y="611.52" width="32.3" height="3.21" fill="#37a6f3"/><rect x="86.3" y="608.71" width="32.3" height="3.21" fill="#33b8f4"/><rect x="86.3" y="605.90" width="32.3" height="3.21" fill="#2fcff8"/><rect x="86.3" y="603.09" width="32.3" height="3.21" fill="#2ae6fd"/><rect x="86.3" y="600.28" width="32.3" height="3.21" fill="#18f4e9"/><rect x="86.3" y="597.47" width="32.3" height="3.21" fill="#00fac6"/><rect x="86.3" y="594.67" width="32.3" height="3.21" fill="#00fdb0"/><rect x="86.3" y="591.86" width="32.3" height="3.21" fill="#00ff98"/><rect x="86.3" y="589.05" width="32.3" height="3.21" fill="#00ff7c"/><rect x="86.3" y="586.24" width="32.3" height="3.21" fill="#00ff5b"/><rect x="86.3" y="583.43" width="32.3" height="3.21" fill="#00ff36"/><rect x="86.3" y="580.62" width="32.3" height="3.21" fill="#00ff1a"/><rect x="86.3" y="577.82" width="32.3" height="3.21" fill="#00ff00"/><rect x="86.3" y="575.01" width="32.3" height="3.21" fill="#00ff00"/><rect x="86.3" y="572.20" width="32.3" height="3.21" fill="#00ff00"/><rect x="86.3" y="569.39" width="32.3" height="3.21" fill="#00ff00"/><rect x="86.3" y="566.58" width="32.3" height="3.21" fill="#00ff00"/><rect x="86.3" y="563.77" width="32.3" height="3.21" fill="#1eff00"/><rect x="86.3" y="560.97" width="32.3" height="3.21" fill="#57ff00"/><rect x="86.3" y="558.16" width="32.3" height="3.21" fill="#86ff00"/><rect x="86.3" y="555.35" width="32.3" height="3.21" fill="#a5ff00"/><rect x="86.3" y="552.54" width="32.3" height="3.21" fill="#beff00"/><rect x="86.3" y="549.73" width="32.3" height="3.21" fill="#d5ff00"/><rect x="86.3" y="546.92" width="32.3" height="3.21" fill="#ecff00"/><rect x="86.3" y="544.12" width="32.3" height="3.21" fill="#f5ea00"/><rect x="86.3" y="541.31" width="32.3" height="3.21" fill="#f8cd00"/><rect x="86.3" y="538.50" width="32.3" height="3.21" fill="#f8b300"/><rect x="86.3" y="535.69" width="32.3" height="3.21" fill="#f8a600"/><rect x="86.3" y="532.88" width="32.3" height="3.21" fill="#f99200"/><rect x="86.3" y="530.07" width="32.3" height="3.21" fill="#fa7500"/><rect x="86.3" y="527.27" width="32.3" height="3.21" fill="#f85800"/><rect x="86.3" y="524.46" width="32.3" height="3.21" fill="#f43a00"/><rect x="86.3" y="521.65" width="32.3" height="3.21" fill="#f01300"/><rect x="86.3" y="518.84" width="32.3" height="3.21" fill="#f00000"/><rect x="86.3" y="516.03" width="32.3" height="3.21" fill="#f00000"/><rect x="86.3" y="513.22" width="32.3" height="3.21" fill="#f00000"/><rect x="86.3" y="510.42" width="32.3" height="3.21" fill="#f00000"/><rect x="86.3" y="507.61" width="32.3" height="3.21" fill="#f00000"/><rect x="86.3" y="504.80" width="32.3" height="3.21" fill="#f00000"/><rect x="86.3" y="504.8" width="32.3" height="168.5" fill="none" stroke="#222" stroke-width="0.8"/><text x="71.8" y="512.0" font-size="10" fill="#3a3a3a" font-family='"Liberation Sans", sans-serif' text-anchor="end" textLength="43.2" lengthAdjust="spacingAndGlyphs">1.27×10</text><text x="73.6" y="507.4" font-size="6.6" fill="#3a3a3a" font-family='"Liberation Sans", sans-serif' textLength="8.7" lengthAdjust="spacingAndGlyphs">−2</text><text x="71.8" y="525.8" font-size="10" fill="#3a3a3a" font-family='"Liberation Sans", sans-serif' text-anchor="end" textLength="43.2" lengthAdjust="spacingAndGlyphs">1.13×10</text><text x="73.6" y="521.2" font-size="6.6" fill="#3a3a3a" font-family='"Liberation Sans", sans-serif' textLength="8.7" lengthAdjust="spacingAndGlyphs">−2</text><text x="71.8" y="542.9" font-size="10" fill="#3a3a3a" font-family='"Liberation Sans", sans-serif' text-anchor="end" textLength="43.2" lengthAdjust="spacingAndGlyphs">9.99×10</text><text x="73.6" y="538.3" font-size="6.6" fill="#3a3a3a" font-family='"Liberation Sans", sans-serif' textLength="8.7" lengthAdjust="spacingAndGlyphs">−3</text><text x="71.8" y="559.5" font-size="10" fill="#3a3a3a" font-family='"Liberation Sans", sans-serif' text-anchor="end" textLength="43.2" lengthAdjust="spacingAndGlyphs">8.66×10</text><text x="73.6" y="554.9" font-size="6.6" fill="#3a3a3a" font-family='"Liberation Sans", sans-serif' textLength="8.7" lengthAdjust="spacingAndGlyphs">−3</text><text x="71.8" y="576.1" font-size="10" fill="#3a3a3a" font-family='"Liberation Sans", sans-serif' text-anchor="end" textLength="43.2" lengthAdjust="spacingAndGlyphs">7.32×10</text><text x="73.6" y="571.5" font-size="6.6" fill="#3a3a3a" font-family='"Liberation Sans", sans-serif' textLength="8.7" lengthAdjust="spacingAndGlyphs">−3</text><text x="71.8" y="593.6" font-size="10" fill="#3a3a3a" font-family='"Liberation Sans", sans-serif' text-anchor="end" textLength="43.2" lengthAdjust="spacingAndGlyphs">5.99×10</text><text x="73.6" y="589.0" font-size="6.6" fill="#3a3a3a" font-family='"Liberation Sans", sans-serif' textLength="8.7" lengthAdjust="spacingAndGlyphs">−3</text><text x="71.8" y="610.5" font-size="10" fill="#3a3a3a" font-family='"Liberation Sans", sans-serif' text-anchor="end" textLength="43.2" lengthAdjust="spacingAndGlyphs">4.65×10</text><text x="73.6" y="605.9" font-size="6.6" fill="#3a3a3a" font-family='"Liberation Sans", sans-serif' textLength="8.7" lengthAdjust="spacingAndGlyphs">−3</text><text x="71.8" y="626.8" font-size="10" fill="#3a3a3a" font-family='"Liberation Sans", sans-serif' text-anchor="end" textLength="43.2" lengthAdjust="spacingAndGlyphs">3.32×10</text><text x="73.6" y="622.2" font-size="6.6" fill="#3a3a3a" font-family='"Liberation Sans", sans-serif' textLength="8.7" lengthAdjust="spacingAndGlyphs">−3</text><text x="71.8" y="643.7" font-size="10" fill="#3a3a3a" font-family='"Liberation Sans", sans-serif' text-anchor="end" textLength="43.2" lengthAdjust="spacingAndGlyphs">1.99×10</text><text x="73.6" y="639.1" font-size="6.6" fill="#3a3a3a" font-family='"Liberation Sans", sans-serif' textLength="8.7" lengthAdjust="spacingAndGlyphs">−3</text><text x="71.8" y="660.5" font-size="10" fill="#3a3a3a" font-family='"Liberation Sans", sans-serif' text-anchor="end" textLength="43.2" lengthAdjust="spacingAndGlyphs">6.53×10</text><text x="73.6" y="655.9" font-size="6.6" fill="#3a3a3a" font-family='"Liberation Sans", sans-serif' textLength="8.7" lengthAdjust="spacingAndGlyphs">−4</text><text x="71.8" y="673.9" font-size="10" fill="#3a3a3a" font-family='"Liberation Sans", sans-serif' text-anchor="end" textLength="50.5" lengthAdjust="spacingAndGlyphs">−6.81×10</text><text x="73.6" y="669.3" font-size="6.6" fill="#3a3a3a" font-family='"Liberation Sans", sans-serif' textLength="8.7" lengthAdjust="spacingAndGlyphs">−4</text><text x="10.1" y="666.9" font-size="9.7" fill="#3a3a3a" font-family='"Liberation Sans", sans-serif' textLength="155.3" lengthAdjust="spacingAndGlyphs" transform="rotate(-90 10.1 666.9)">Cross-helicity (km<tspan font-size="6" dy="-4">2</tspan><tspan font-size="10" dy="4"> s</tspan><tspan font-size="6" dy="-4">−2</tspan><tspan font-size="10" dy="4"> Hz</tspan><tspan font-size="5.5" dy="-4">0.83</tspan><tspan font-size="10" dy="4">)</tspan></text><rect x="86.3" y="912.39" width="32.3" height="3.21" fill="#030003"/><rect x="86.3" y="909.58" width="32.3" height="3.21" fill="#0e000e"/><rect x="86.3" y="906.78" width="32.3" height="3.21" fill="#17001a"/><rect x="86.3" y="903.97" width="32.3" height="3.21" fill="#1f0025"/><rect x="86.3" y="901.16" width="32.3" height="3.21" fill="#25002c"/><rect x="86.3" y="898.35" width="32.3" height="3.21" fill="#2c0036"/><rect x="86.3" y="895.54" width="32.3" height="3.21" fill="#440052"/><rect x="86.3" y="892.73" width="32.3" height="3.21" fill="#53006c"/><rect x="86.3" y="889.93" width="32.3" height="3.21" fill="#580086"/><rect x="86.3" y="887.12" width="32.3" height="3.21" fill="#5a00a3"/><rect x="86.3" y="884.31" width="32.3" height="3.21" fill="#5a00c3"/><rect x="86.3" y="881.50" width="32.3" height="3.21" fill="#5900dc"/><rect x="86.3" y="878.69" width="32.3" height="3.21" fill="#5500e9"/><rect x="86.3" y="875.88" width="32.3" height="3.21" fill="#5100f6"/><rect x="86.3" y="873.08" width="32.3" height="3.21" fill="#5210fc"/><rect x="86.3" y="870.27" width="32.3" height="3.21" fill="#5526ff"/><rect x="86.3" y="867.46" width="32.3" height="3.21" fill="#5946fb"/><rect x="86.3" y="864.65" width="32.3" height="3.21" fill="#525cf8"/><rect x="86.3" y="861.84" width="32.3" height="3.21" fill="#476cf5"/><rect x="86.3" y="859.03" width="32.3" height="3.21" fill="#4080f2"/><rect x="86.3" y="856.23" width="32.3" height="3.21" fill="#3b93f1"/><rect x="86.3" y="853.42" width="32.3" height="3.21" fill="#37a6f3"/><rect x="86.3" y="850.61" width="32.3" height="3.21" fill="#33b8f4"/><rect x="86.3" y="847.80" width="32.3" height="3.21" fill="#2fcff8"/><rect x="86.3" y="844.99" width="32.3" height="3.21" fill="#2ae6fd"/><rect x="86.3" y="842.18" width="32.3" height="3.21" fill="#18f4e9"/><rect x="86.3" y="839.38" width="32.3" height="3.21" fill="#00fac6"/><rect x="86.3" y="836.57" width="32.3" height="3.21" fill="#00fdb0"/><rect x="86.3" y="833.76" width="32.3" height="3.21" fill="#00ff98"/><rect x="86.3" y="830.95" width="32.3" height="3.21" fill="#00ff7c"/><rect x="86.3" y="828.14" width="32.3" height="3.21" fill="#00ff5b"/><rect x="86.3" y="825.33" width="32.3" height="3.21" fill="#00ff36"/><rect x="86.3" y="822.53" width="32.3" height="3.21" fill="#00ff1a"/><rect x="86.3" y="819.72" width="32.3" height="3.21" fill="#00ff00"/><rect x="86.3" y="816.91" width="32.3" height="3.21" fill="#00ff00"/><rect x="86.3" y="814.10" width="32.3" height="3.21" fill="#00ff00"/><rect x="86.3" y="811.29" width="32.3" height="3.21" fill="#00ff00"/><rect x="86.3" y="808.48" width="32.3" height="3.21" fill="#00ff00"/><rect x="86.3" y="805.68" width="32.3" height="3.21" fill="#1eff00"/><rect x="86.3" y="802.87" width="32.3" height="3.21" fill="#57ff00"/><rect x="86.3" y="800.06" width="32.3" height="3.21" fill="#86ff00"/><rect x="86.3" y="797.25" width="32.3" height="3.21" fill="#a5ff00"/><rect x="86.3" y="794.44" width="32.3" height="3.21" fill="#beff00"/><rect x="86.3" y="791.63" width="32.3" height="3.21" fill="#d5ff00"/><rect x="86.3" y="788.83" width="32.3" height="3.21" fill="#ecff00"/><rect x="86.3" y="786.02" width="32.3" height="3.21" fill="#f5ea00"/><rect x="86.3" y="783.21" width="32.3" height="3.21" fill="#f8cd00"/><rect x="86.3" y="780.40" width="32.3" height="3.21" fill="#f8b300"/><rect x="86.3" y="777.59" width="32.3" height="3.21" fill="#f8a600"/><rect x="86.3" y="774.78" width="32.3" height="3.21" fill="#f99200"/><rect x="86.3" y="771.98" width="32.3" height="3.21" fill="#fa7500"/><rect x="86.3" y="769.17" width="32.3" height="3.21" fill="#f85800"/><rect x="86.3" y="766.36" width="32.3" height="3.21" fill="#f43a00"/><rect x="86.3" y="763.55" width="32.3" height="3.21" fill="#f01300"/><rect x="86.3" y="760.74" width="32.3" height="3.21" fill="#f00000"/><rect x="86.3" y="757.93" width="32.3" height="3.21" fill="#f00000"/><rect x="86.3" y="755.12" width="32.3" height="3.21" fill="#f00000"/><rect x="86.3" y="752.32" width="32.3" height="3.21" fill="#f00000"/><rect x="86.3" y="749.51" width="32.3" height="3.21" fill="#f00000"/><rect x="86.3" y="746.70" width="32.3" height="3.21" fill="#f00000"/><rect x="86.3" y="746.7" width="32.3" height="168.5" fill="none" stroke="#222" stroke-width="0.8"/><text x="71.8" y="753.9" font-size="10" fill="#3a3a3a" font-family='"Liberation Sans", sans-serif' text-anchor="end" textLength="43.2" lengthAdjust="spacingAndGlyphs">1.59×10</text><text x="73.6" y="749.3" font-size="6.6" fill="#3a3a3a" font-family='"Liberation Sans", sans-serif' textLength="8.7" lengthAdjust="spacingAndGlyphs">−3</text><text x="71.8" y="767.7" font-size="10" fill="#3a3a3a" font-family='"Liberation Sans", sans-serif' text-anchor="end" textLength="43.2" lengthAdjust="spacingAndGlyphs">9.30×10</text><text x="73.6" y="763.1" font-size="6.6" fill="#3a3a3a" font-family='"Liberation Sans", sans-serif' textLength="8.7" lengthAdjust="spacingAndGlyphs">−4</text><text x="71.8" y="784.8" font-size="10" fill="#3a3a3a" font-family='"Liberation Sans", sans-serif' text-anchor="end" textLength="43.2" lengthAdjust="spacingAndGlyphs">2.65×10</text><text x="73.6" y="780.2" font-size="6.6" fill="#3a3a3a" font-family='"Liberation Sans", sans-serif' textLength="8.7" lengthAdjust="spacingAndGlyphs">−4</text><text x="71.8" y="801.4" font-size="10" fill="#3a3a3a" font-family='"Liberation Sans", sans-serif' text-anchor="end" textLength="50.5" lengthAdjust="spacingAndGlyphs">−4.00×10</text><text x="73.6" y="796.8" font-size="6.6" fill="#3a3a3a" font-family='"Liberation Sans", sans-serif' textLength="8.7" lengthAdjust="spacingAndGlyphs">−4</text><text x="71.8" y="818.0" font-size="10" fill="#3a3a3a" font-family='"Liberation Sans", sans-serif' text-anchor="end" textLength="50.5" lengthAdjust="spacingAndGlyphs">−1.06×10</text><text x="73.6" y="813.4" font-size="6.6" fill="#3a3a3a" font-family='"Liberation Sans", sans-serif' textLength="8.7" lengthAdjust="spacingAndGlyphs">−3</text><text x="71.8" y="835.5" font-size="10" fill="#3a3a3a" font-family='"Liberation Sans", sans-serif' text-anchor="end" textLength="50.5" lengthAdjust="spacingAndGlyphs">−1.73×10</text><text x="73.6" y="830.9" font-size="6.6" fill="#3a3a3a" font-family='"Liberation Sans", sans-serif' textLength="8.7" lengthAdjust="spacingAndGlyphs">−3</text><text x="71.8" y="852.4" font-size="10" fill="#3a3a3a" font-family='"Liberation Sans", sans-serif' text-anchor="end" textLength="50.5" lengthAdjust="spacingAndGlyphs">−2.39×10</text><text x="73.6" y="847.8" font-size="6.6" fill="#3a3a3a" font-family='"Liberation Sans", sans-serif' textLength="8.7" lengthAdjust="spacingAndGlyphs">−3</text><text x="71.8" y="868.7" font-size="10" fill="#3a3a3a" font-family='"Liberation Sans", sans-serif' text-anchor="end" textLength="50.5" lengthAdjust="spacingAndGlyphs">−3.06×10</text><text x="73.6" y="864.1" font-size="6.6" fill="#3a3a3a" font-family='"Liberation Sans", sans-serif' textLength="8.7" lengthAdjust="spacingAndGlyphs">−3</text><text x="71.8" y="885.6" font-size="10" fill="#3a3a3a" font-family='"Liberation Sans", sans-serif' text-anchor="end" textLength="50.5" lengthAdjust="spacingAndGlyphs">−3.72×10</text><text x="73.6" y="881.0" font-size="6.6" fill="#3a3a3a" font-family='"Liberation Sans", sans-serif' textLength="8.7" lengthAdjust="spacingAndGlyphs">−3</text><text x="71.8" y="902.4" font-size="10" fill="#3a3a3a" font-family='"Liberation Sans", sans-serif' text-anchor="end" textLength="50.5" lengthAdjust="spacingAndGlyphs">−4.39×10</text><text x="73.6" y="897.8" font-size="6.6" fill="#3a3a3a" font-family='"Liberation Sans", sans-serif' textLength="8.7" lengthAdjust="spacingAndGlyphs">−3</text><text x="71.8" y="915.8" font-size="10" fill="#3a3a3a" font-family='"Liberation Sans", sans-serif' text-anchor="end" textLength="50.5" lengthAdjust="spacingAndGlyphs">−5.05×10</text><text x="73.6" y="911.2" font-size="6.6" fill="#3a3a3a" font-family='"Liberation Sans", sans-serif' textLength="8.7" lengthAdjust="spacingAndGlyphs">−3</text><text x="10.1" y="913.2" font-size="9.7" fill="#3a3a3a" font-family='"Liberation Sans", sans-serif' textLength="164" lengthAdjust="spacingAndGlyphs" transform="rotate(-90 10.1 913.2)">Residual energy (km<tspan font-size="6" dy="-4">2</tspan><tspan font-size="10" dy="4"> s</tspan><tspan font-size="6" dy="-4">−2</tspan><tspan font-size="10" dy="4"> Hz</tspan><tspan font-size="5.5" dy="-4">0.82</tspan><tspan font-size="10" dy="4">)</tspan></text></svg></body></html>
